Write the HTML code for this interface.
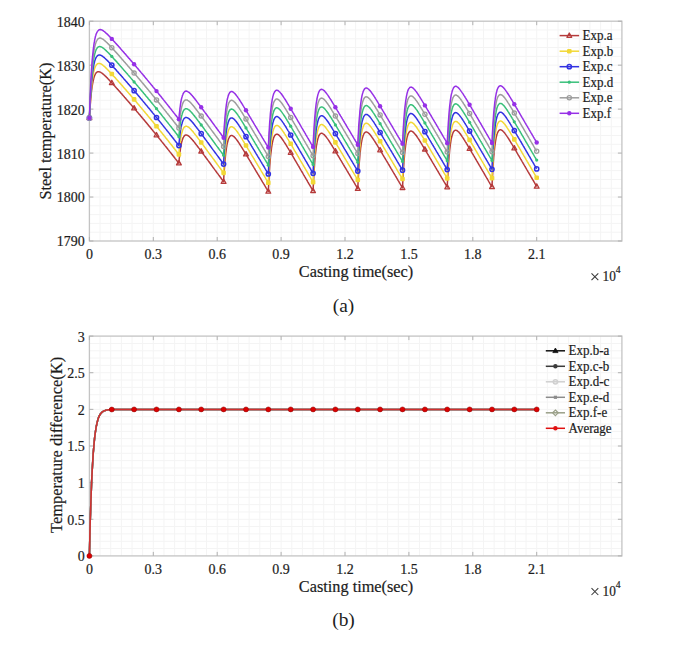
<!DOCTYPE html><html><head><meta charset="utf-8"><style>html,body{margin:0;padding:0;background:#fff;}body{width:685px;height:645px;overflow:hidden;}svg{display:block;}text{font-family:"Liberation Serif",serif;fill:#1c1c1c;stroke:#1c1c1c;stroke-width:0.2px;}</style></head><body>
<svg width="685" height="645" viewBox="0 0 685 645">
<path d="M100.05,21.20V241.00M110.70,21.20V241.00M121.35,21.20V241.00M132.00,21.20V241.00M142.65,21.20V241.00M153.30,21.20V241.00M163.95,21.20V241.00M174.60,21.20V241.00M185.25,21.20V241.00M195.90,21.20V241.00M206.55,21.20V241.00M217.20,21.20V241.00M227.85,21.20V241.00M238.50,21.20V241.00M249.15,21.20V241.00M259.80,21.20V241.00M270.45,21.20V241.00M281.10,21.20V241.00M291.75,21.20V241.00M302.40,21.20V241.00M313.05,21.20V241.00M323.70,21.20V241.00M334.35,21.20V241.00M345.00,21.20V241.00M355.65,21.20V241.00M366.30,21.20V241.00M376.95,21.20V241.00M387.60,21.20V241.00M398.25,21.20V241.00M408.90,21.20V241.00M419.55,21.20V241.00M430.20,21.20V241.00M440.85,21.20V241.00M451.50,21.20V241.00M462.15,21.20V241.00M472.80,21.20V241.00M483.45,21.20V241.00M494.10,21.20V241.00M504.75,21.20V241.00M515.40,21.20V241.00M526.05,21.20V241.00M536.70,21.20V241.00M547.35,21.20V241.00M558.00,21.20V241.00M568.65,21.20V241.00M579.30,21.20V241.00M589.95,21.20V241.00M600.60,21.20V241.00M611.25,21.20V241.00M89.40,29.99H621.90M89.40,38.78H621.90M89.40,47.58H621.90M89.40,56.37H621.90M89.40,65.16H621.90M89.40,73.95H621.90M89.40,82.74H621.90M89.40,91.54H621.90M89.40,100.33H621.90M89.40,109.12H621.90M89.40,117.91H621.90M89.40,126.70H621.90M89.40,135.50H621.90M89.40,144.29H621.90M89.40,153.08H621.90M89.40,161.87H621.90M89.40,170.66H621.90M89.40,179.46H621.90M89.40,188.25H621.90M89.40,197.04H621.90M89.40,205.83H621.90M89.40,214.62H621.90M89.40,223.42H621.90M89.40,232.21H621.90" stroke="#f4f4f4" stroke-width="1" fill="none"/>
<rect x="89.40" y="21.20" width="532.50" height="219.80" fill="none" stroke="#c4c4c4" stroke-width="1.3"/><path d="M89.40,241.00v-4M89.40,21.20v4M153.30,241.00v-4M153.30,21.20v4M217.20,241.00v-4M217.20,21.20v4M281.10,241.00v-4M281.10,21.20v4M345.00,241.00v-4M345.00,21.20v4M408.90,241.00v-4M408.90,21.20v4M472.80,241.00v-4M472.80,21.20v4M536.70,241.00v-4M536.70,21.20v4M89.40,241.00h4M621.90,241.00h-4M89.40,197.04h4M621.90,197.04h-4M89.40,153.08h4M621.90,153.08h-4M89.40,109.12h4M621.90,109.12h-4M89.40,65.16h4M621.90,65.16h-4M89.40,21.20h4M621.90,21.20h-4" stroke="#b0b0b0" stroke-width="1" fill="none"/>
<path d="M89.4,117.9L89.8,112.0L90.1,106.8L90.5,102.2L90.8,98.1L91.2,94.5L91.5,91.3L91.9,88.5L92.2,86.0L92.6,83.8L93.0,81.9L93.3,80.2L93.7,78.7L94.0,77.4L94.4,76.4L94.7,75.4L95.1,74.6L95.4,73.9L95.8,73.4L96.1,72.9L96.5,72.5L96.9,72.2L97.2,72.0L97.6,71.8L97.9,71.7L98.3,71.7L98.6,71.7L99.0,71.7L99.3,71.8L99.7,71.9L100.1,72.0L100.4,72.2L100.8,72.4L101.1,72.6L101.5,72.8L101.8,73.0L102.2,73.3L102.5,73.6L102.9,73.9L103.2,74.2L103.6,74.5L104.0,74.8L104.3,75.1L104.7,75.4L105.0,75.8L105.4,76.1L105.7,76.4L106.1,76.8L106.4,77.2L106.8,77.5L107.2,77.9L107.5,78.2L107.9,78.6L108.2,79.0L108.6,79.4L108.9,79.7L109.3,80.1L109.6,80.5L110.0,80.9L110.3,81.3L110.7,81.6L111.1,82.0L111.4,82.4L111.8,82.8L112.1,83.2L112.5,83.6L112.8,84.0L113.2,84.4L113.5,84.7L113.9,85.1L114.2,85.5L114.6,85.9L115.0,86.3L115.3,86.7L115.7,87.1L116.0,87.5L116.4,87.9L116.7,88.3L117.1,88.7L117.4,89.1L117.8,89.5L118.2,89.9L118.5,90.3L118.9,90.7L119.2,91.1L119.6,91.5L119.9,91.9L120.3,92.3L120.6,92.7L121.0,93.1L121.4,93.5L121.7,93.9L122.1,94.3L122.4,94.7L122.8,95.1L123.1,95.5L123.5,95.9L123.8,96.3L124.2,96.7L124.5,97.2L124.9,97.6L125.3,98.0L125.6,98.4L126.0,98.8L126.3,99.2L126.7,99.6L127.0,100.0L127.4,100.4L127.7,100.8L128.1,101.2L128.4,101.6L128.8,102.0L129.2,102.5L129.5,102.9L129.9,103.3L130.2,103.7L130.6,104.1L130.9,104.5L131.3,104.9L131.6,105.3L132.0,105.8L132.4,106.2L132.7,106.6L133.1,107.0L133.4,107.4L133.8,107.8L134.1,108.2L134.5,108.7L134.8,109.1L135.2,109.5L135.6,109.9L135.9,110.3L136.3,110.7L136.6,111.2L137.0,111.6L137.3,112.0L137.7,112.4L138.0,112.8L138.4,113.2L138.7,113.7L139.1,114.1L139.5,114.5L139.8,114.9L140.2,115.3L140.5,115.8L140.9,116.2L141.2,116.6L141.6,117.0L141.9,117.5L142.3,117.9L142.7,118.3L143.0,118.7L143.4,119.1L143.7,119.6L144.1,120.0L144.4,120.4L144.8,120.8L145.1,121.3L145.5,121.7L145.8,122.1L146.2,122.5L146.6,123.0L146.9,123.4L147.3,123.8L147.6,124.3L148.0,124.7L148.3,125.1L148.7,125.5L149.0,126.0L149.4,126.4L149.8,126.8L150.1,127.3L150.5,127.7L150.8,128.1L151.2,128.5L151.5,129.0L151.9,129.4L152.2,129.8L152.6,130.3L152.9,130.7L153.3,131.1L153.7,131.6L154.0,132.0L154.4,132.4L154.7,132.9L155.1,133.3L155.4,133.7L155.8,134.2L156.1,134.6L156.5,135.1L156.9,135.5L157.2,135.9L157.6,136.4L157.9,136.8L158.3,137.2L158.6,137.7L159.0,138.1L159.3,138.5L159.7,139.0L160.0,139.4L160.4,139.9L160.8,140.3L161.1,140.7L161.5,141.2L161.8,141.6L162.2,142.1L162.5,142.5L162.9,143.0L163.2,143.4L163.6,143.8L163.9,144.3L164.3,144.7L164.7,145.2L165.0,145.6L165.4,146.1L165.7,146.5L166.1,146.9L166.4,147.4L166.8,147.8L167.1,148.3L167.5,148.7L167.9,149.2L168.2,149.6L168.6,150.1L168.9,150.5L169.3,151.0L169.6,151.4L170.0,151.9L170.3,152.3L170.7,152.8L171.1,153.2L171.4,153.7L171.8,154.1L172.1,154.6L172.5,155.0L172.8,155.5L173.2,155.9L173.5,156.4L173.9,156.8L174.2,157.3L174.6,157.7L175.0,158.2L175.3,158.6L175.7,159.1L176.0,159.5L176.4,160.0L176.7,160.4L177.1,160.9L177.4,161.4L177.8,161.8L178.2,162.3L178.5,162.7L178.9,163.2L179.2,159.2L179.6,155.7L179.9,152.6L180.3,149.9L180.6,147.5L181.0,145.5L181.3,143.7L181.7,142.1L182.1,140.8L182.4,139.6L182.8,138.6L183.1,137.8L183.5,137.1L183.8,136.5L184.2,136.1L184.5,135.7L184.9,135.4L185.2,135.2L185.6,135.1L186.0,135.1L186.3,135.1L186.7,135.1L187.0,135.2L187.4,135.3L187.7,135.5L188.1,135.7L188.4,136.0L188.8,136.2L189.2,136.5L189.5,136.8L189.9,137.1L190.2,137.5L190.6,137.8L190.9,138.2L191.3,138.6L191.6,139.0L192.0,139.4L192.4,139.8L192.7,140.2L193.1,140.6L193.4,141.1L193.8,141.5L194.1,141.9L194.5,142.4L194.8,142.8L195.2,143.3L195.5,143.7L195.9,144.2L196.3,144.7L196.6,145.1L197.0,145.6L197.3,146.1L197.7,146.5L198.0,147.0L198.4,147.5L198.7,147.9L199.1,148.4L199.5,148.9L199.8,149.4L200.2,149.8L200.5,150.3L200.9,150.8L201.2,151.3L201.6,151.8L201.9,152.2L202.3,152.7L202.6,153.2L203.0,153.7L203.4,154.2L203.7,154.6L204.1,155.1L204.4,155.6L204.8,156.1L205.1,156.6L205.5,157.0L205.8,157.5L206.2,158.0L206.6,158.5L206.9,159.0L207.3,159.4L207.6,159.9L208.0,160.4L208.3,160.9L208.7,161.4L209.0,161.9L209.4,162.3L209.7,162.8L210.1,163.3L210.5,163.8L210.8,164.3L211.2,164.8L211.5,165.2L211.9,165.7L212.2,166.2L212.6,166.7L212.9,167.2L213.3,167.7L213.7,168.1L214.0,168.6L214.4,169.1L214.7,169.6L215.1,170.1L215.4,170.5L215.8,171.0L216.1,171.5L216.5,172.0L216.8,172.5L217.2,173.0L217.6,173.4L217.9,173.9L218.3,174.4L218.6,174.9L219.0,175.4L219.3,175.9L219.7,176.3L220.0,176.8L220.4,177.3L220.8,177.8L221.1,178.3L221.5,178.8L221.8,179.2L222.2,179.7L222.5,180.2L222.9,180.7L223.2,181.2L223.6,181.7L223.9,175.4L224.3,169.9L224.7,165.1L225.0,160.8L225.4,157.0L225.7,153.7L226.1,150.8L226.4,148.2L226.8,146.0L227.1,144.1L227.5,142.5L227.9,141.0L228.2,139.8L228.6,138.8L228.9,138.0L229.3,137.3L229.6,136.7L230.0,136.3L230.3,135.9L230.7,135.7L231.0,135.6L231.4,135.5L231.8,135.5L232.1,135.6L232.5,135.7L232.8,135.9L233.2,136.1L233.5,136.3L233.9,136.6L234.2,136.9L234.6,137.3L235.0,137.7L235.3,138.1L235.7,138.5L236.0,138.9L236.4,139.4L236.7,139.8L237.1,140.3L237.4,140.8L237.8,141.3L238.1,141.8L238.5,142.3L238.9,142.9L239.2,143.4L239.6,144.0L239.9,144.5L240.3,145.1L240.6,145.6L241.0,146.2L241.3,146.7L241.7,147.3L242.1,147.9L242.4,148.4L242.8,149.0L243.1,149.6L243.5,150.2L243.8,150.7L244.2,151.3L244.5,151.9L244.9,152.5L245.2,153.1L245.6,153.7L246.0,154.2L246.3,154.8L246.7,155.4L247.0,156.0L247.4,156.6L247.7,157.2L248.1,157.8L248.4,158.4L248.8,159.0L249.2,159.5L249.5,160.1L249.9,160.7L250.2,161.3L250.6,161.9L250.9,162.5L251.3,163.1L251.6,163.7L252.0,164.3L252.3,164.9L252.7,165.5L253.1,166.1L253.4,166.6L253.8,167.2L254.1,167.8L254.5,168.4L254.8,169.0L255.2,169.6L255.5,170.2L255.9,170.8L256.2,171.4L256.6,172.0L257.0,172.6L257.3,173.2L257.7,173.8L258.0,174.4L258.4,174.9L258.7,175.5L259.1,176.1L259.4,176.7L259.8,177.3L260.2,177.9L260.5,178.5L260.9,179.1L261.2,179.7L261.6,180.3L261.9,180.9L262.3,181.5L262.6,182.1L263.0,182.7L263.4,183.2L263.7,183.8L264.1,184.4L264.4,185.0L264.8,185.6L265.1,186.2L265.5,186.8L265.8,187.4L266.2,188.0L266.5,188.6L266.9,189.2L267.3,189.8L267.6,190.4L268.0,191.0L268.3,191.5L268.7,184.0L269.0,177.4L269.4,171.4L269.7,166.2L270.1,161.6L270.4,157.6L270.8,154.0L271.2,150.9L271.5,148.1L271.9,145.7L272.2,143.7L272.6,141.9L272.9,140.4L273.3,139.0L273.6,137.9L274.0,137.0L274.4,136.2L274.7,135.6L275.1,135.1L275.4,134.8L275.8,134.5L276.1,134.3L276.5,134.2L276.8,134.2L277.2,134.2L277.6,134.3L277.9,134.5L278.3,134.7L278.6,134.9L279.0,135.2L279.3,135.5L279.7,135.9L280.0,136.3L280.4,136.7L280.7,137.1L281.1,137.5L281.5,138.0L281.8,138.5L282.2,139.0L282.5,139.5L282.9,140.0L283.2,140.5L283.6,141.0L283.9,141.6L284.3,142.1L284.6,142.7L285.0,143.2L285.4,143.8L285.7,144.4L286.1,144.9L286.4,145.5L286.8,146.1L287.1,146.7L287.5,147.3L287.8,147.8L288.2,148.4L288.6,149.0L288.9,149.6L289.3,150.2L289.6,150.8L290.0,151.4L290.3,152.0L290.7,152.6L291.0,153.2L291.4,153.8L291.8,154.4L292.1,155.0L292.5,155.6L292.8,156.2L293.2,156.8L293.5,157.4L293.9,158.0L294.2,158.7L294.6,159.3L294.9,159.9L295.3,160.5L295.7,161.1L296.0,161.7L296.4,162.3L296.7,162.9L297.1,163.5L297.4,164.1L297.8,164.7L298.1,165.3L298.5,165.9L298.9,166.5L299.2,167.2L299.6,167.8L299.9,168.4L300.3,169.0L300.6,169.6L301.0,170.2L301.3,170.8L301.7,171.4L302.0,172.0L302.4,172.6L302.8,173.2L303.1,173.8L303.5,174.5L303.8,175.1L304.2,175.7L304.5,176.3L304.9,176.9L305.2,177.5L305.6,178.1L305.9,178.7L306.3,179.3L306.7,179.9L307.0,180.5L307.4,181.1L307.7,181.8L308.1,182.4L308.4,183.0L308.8,183.6L309.1,184.2L309.5,184.8L309.9,185.4L310.2,186.0L310.6,186.6L310.9,187.2L311.3,187.8L311.6,188.5L312.0,189.1L312.3,189.7L312.7,190.3L313.1,190.9L313.4,183.4L313.8,176.7L314.1,170.8L314.5,165.5L314.8,160.9L315.2,156.9L315.5,153.3L315.9,150.2L316.2,147.4L316.6,145.0L317.0,142.9L317.3,141.1L317.7,139.6L318.0,138.3L318.4,137.2L318.7,136.2L319.1,135.4L319.4,134.8L319.8,134.3L320.1,133.9L320.5,133.6L320.9,133.4L321.2,133.3L321.6,133.3L321.9,133.3L322.3,133.4L322.6,133.6L323.0,133.8L323.3,134.0L323.7,134.3L324.1,134.6L324.4,134.9L324.8,135.3L325.1,135.7L325.5,136.1L325.8,136.5L326.2,136.9L326.5,137.4L326.9,137.9L327.2,138.4L327.6,138.9L328.0,139.4L328.3,139.9L328.7,140.4L329.0,141.0L329.4,141.5L329.7,142.0L330.1,142.6L330.4,143.2L330.8,143.7L331.2,144.3L331.5,144.8L331.9,145.4L332.2,146.0L332.6,146.6L332.9,147.1L333.3,147.7L333.6,148.3L334.0,148.9L334.4,149.5L334.7,150.1L335.1,150.6L335.4,151.2L335.8,151.8L336.1,152.4L336.5,153.0L336.8,153.6L337.2,154.2L337.5,154.8L337.9,155.4L338.3,156.0L338.6,156.5L339.0,157.1L339.3,157.7L339.7,158.3L340.0,158.9L340.4,159.5L340.7,160.1L341.1,160.7L341.5,161.3L341.8,161.9L342.2,162.5L342.5,163.1L342.9,163.7L343.2,164.3L343.6,164.9L343.9,165.5L344.3,166.1L344.6,166.7L345.0,167.2L345.4,167.8L345.7,168.4L346.1,169.0L346.4,169.6L346.8,170.2L347.1,170.8L347.5,171.4L347.8,172.0L348.2,172.6L348.5,173.2L348.9,173.8L349.3,174.4L349.6,175.0L350.0,175.6L350.3,176.2L350.7,176.8L351.0,177.4L351.4,178.0L351.7,178.6L352.1,179.2L352.5,179.8L352.8,180.3L353.2,180.9L353.5,181.5L353.9,182.1L354.2,182.7L354.6,183.3L354.9,183.9L355.3,184.5L355.6,185.1L356.0,185.7L356.4,186.3L356.7,186.9L357.1,187.5L357.4,188.1L357.8,188.7L358.1,181.3L358.5,174.7L358.8,168.8L359.2,163.7L359.6,159.1L359.9,155.1L360.3,151.6L360.6,148.5L361.0,145.8L361.3,143.4L361.7,141.4L362.0,139.6L362.4,138.1L362.8,136.8L363.1,135.7L363.5,134.8L363.8,134.0L364.2,133.4L364.5,132.9L364.9,132.6L365.2,132.3L365.6,132.1L365.9,132.0L366.3,132.0L366.7,132.0L367.0,132.1L367.4,132.3L367.7,132.5L368.1,132.7L368.4,133.0L368.8,133.3L369.1,133.6L369.5,134.0L369.9,134.4L370.2,134.8L370.6,135.3L370.9,135.7L371.3,136.2L371.6,136.7L372.0,137.2L372.3,137.7L372.7,138.2L373.0,138.7L373.4,139.2L373.8,139.8L374.1,140.3L374.5,140.9L374.8,141.4L375.2,142.0L375.5,142.5L375.9,143.1L376.2,143.7L376.6,144.3L377.0,144.8L377.3,145.4L377.7,146.0L378.0,146.6L378.4,147.2L378.7,147.8L379.1,148.3L379.4,148.9L379.8,149.5L380.1,150.1L380.5,150.7L380.9,151.3L381.2,151.9L381.6,152.5L381.9,153.1L382.3,153.7L382.6,154.3L383.0,154.9L383.3,155.5L383.7,156.1L384.0,156.7L384.4,157.3L384.8,157.9L385.1,158.5L385.5,159.1L385.8,159.6L386.2,160.2L386.5,160.8L386.9,161.4L387.2,162.0L387.6,162.6L388.0,163.2L388.3,163.8L388.7,164.4L389.0,165.0L389.4,165.6L389.7,166.2L390.1,166.8L390.4,167.4L390.8,168.0L391.1,168.6L391.5,169.2L391.9,169.8L392.2,170.4L392.6,171.0L392.9,171.6L393.3,172.2L393.6,172.8L394.0,173.4L394.3,174.0L394.7,174.6L395.1,175.2L395.4,175.8L395.8,176.4L396.1,177.0L396.5,177.6L396.8,178.2L397.2,178.8L397.5,179.4L397.9,180.0L398.2,180.6L398.6,181.2L399.0,181.8L399.3,182.4L399.7,183.0L400.0,183.6L400.4,184.2L400.7,184.8L401.1,185.4L401.4,186.0L401.8,186.6L402.2,187.2L402.5,187.8L402.9,180.4L403.2,173.8L403.6,167.9L403.9,162.8L404.3,158.2L404.6,154.2L405.0,150.7L405.4,147.6L405.7,144.9L406.1,142.5L406.4,140.5L406.8,138.7L407.1,137.2L407.5,135.9L407.8,134.8L408.2,133.9L408.5,133.1L408.9,132.5L409.3,132.0L409.6,131.7L410.0,131.4L410.3,131.2L410.7,131.1L411.0,131.1L411.4,131.1L411.7,131.2L412.1,131.4L412.5,131.6L412.8,131.8L413.2,132.1L413.5,132.4L413.9,132.8L414.2,133.2L414.6,133.6L414.9,134.0L415.3,134.4L415.6,134.9L416.0,135.3L416.4,135.8L416.7,136.3L417.1,136.8L417.4,137.3L417.8,137.9L418.1,138.4L418.5,138.9L418.8,139.5L419.2,140.0L419.6,140.6L419.9,141.2L420.3,141.7L420.6,142.3L421.0,142.9L421.3,143.4L421.7,144.0L422.0,144.6L422.4,145.2L422.7,145.8L423.1,146.4L423.5,147.0L423.8,147.5L424.2,148.1L424.5,148.7L424.9,149.3L425.2,149.9L425.6,150.5L425.9,151.1L426.3,151.7L426.6,152.3L427.0,152.9L427.4,153.5L427.7,154.1L428.1,154.7L428.4,155.3L428.8,155.9L429.1,156.5L429.5,157.1L429.8,157.7L430.2,158.3L430.6,158.9L430.9,159.5L431.3,160.1L431.6,160.7L432.0,161.3L432.3,161.9L432.7,162.5L433.0,163.1L433.4,163.7L433.8,164.3L434.1,164.9L434.5,165.5L434.8,166.1L435.2,166.7L435.5,167.3L435.9,167.9L436.2,168.5L436.6,169.1L436.9,169.7L437.3,170.3L437.7,170.9L438.0,171.5L438.4,172.1L438.7,172.7L439.1,173.3L439.4,173.9L439.8,174.5L440.1,175.1L440.5,175.7L440.9,176.3L441.2,176.9L441.6,177.5L441.9,178.1L442.3,178.7L442.6,179.3L443.0,179.9L443.3,180.5L443.7,181.1L444.0,181.7L444.4,182.3L444.8,182.9L445.1,183.5L445.5,184.1L445.8,184.7L446.2,185.3L446.5,185.9L446.9,186.5L447.2,187.1L447.6,179.7L448.0,173.0L448.3,167.2L448.7,162.0L449.0,157.4L449.4,153.4L449.7,149.9L450.1,146.7L450.4,144.0L450.8,141.7L451.1,139.6L451.5,137.8L451.9,136.3L452.2,135.0L452.6,133.9L452.9,133.0L453.3,132.2L453.6,131.6L454.0,131.1L454.3,130.8L454.7,130.5L455.0,130.3L455.4,130.2L455.8,130.2L456.1,130.3L456.5,130.4L456.8,130.5L457.2,130.7L457.5,131.0L457.9,131.3L458.2,131.6L458.6,131.9L459.0,132.3L459.3,132.7L459.7,133.1L460.0,133.6L460.4,134.0L460.7,134.5L461.1,135.0L461.4,135.5L461.8,136.0L462.1,136.6L462.5,137.1L462.9,137.6L463.2,138.2L463.6,138.7L463.9,139.3L464.3,139.9L464.6,140.4L465.0,141.0L465.3,141.6L465.7,142.2L466.1,142.7L466.4,143.3L466.8,143.9L467.1,144.5L467.5,145.1L467.8,145.7L468.2,146.3L468.5,146.9L468.9,147.5L469.2,148.1L469.6,148.7L470.0,149.3L470.3,149.9L470.7,150.5L471.0,151.1L471.4,151.7L471.7,152.3L472.1,152.9L472.4,153.5L472.8,154.1L473.2,154.7L473.5,155.3L473.9,155.9L474.2,156.5L474.6,157.1L474.9,157.7L475.3,158.3L475.6,159.0L476.0,159.6L476.4,160.2L476.7,160.8L477.1,161.4L477.4,162.0L477.8,162.6L478.1,163.2L478.5,163.8L478.8,164.4L479.2,165.0L479.5,165.6L479.9,166.2L480.3,166.9L480.6,167.5L481.0,168.1L481.3,168.7L481.7,169.3L482.0,169.9L482.4,170.5L482.7,171.1L483.1,171.7L483.5,172.3L483.8,172.9L484.2,173.5L484.5,174.2L484.9,174.8L485.2,175.4L485.6,176.0L485.9,176.6L486.3,177.2L486.6,177.8L487.0,178.4L487.4,179.0L487.7,179.6L488.1,180.2L488.4,180.8L488.8,181.5L489.1,182.1L489.5,182.7L489.8,183.3L490.2,183.9L490.5,184.5L490.9,185.1L491.3,185.7L491.6,186.3L492.0,186.9L492.3,179.4L492.7,172.8L493.0,166.9L493.4,161.7L493.7,157.1L494.1,153.1L494.5,149.5L494.8,146.4L495.2,143.7L495.5,141.3L495.9,139.2L496.2,137.4L496.6,135.9L496.9,134.6L497.3,133.5L497.6,132.6L498.0,131.8L498.4,131.2L498.7,130.7L499.1,130.3L499.4,130.1L499.8,129.9L500.1,129.8L500.5,129.8L500.8,129.8L501.2,129.9L501.6,130.1L501.9,130.3L502.3,130.5L502.6,130.8L503.0,131.1L503.3,131.5L503.7,131.9L504.0,132.3L504.4,132.7L504.8,133.1L505.1,133.6L505.5,134.1L505.8,134.6L506.2,135.1L506.5,135.6L506.9,136.1L507.2,136.6L507.6,137.2L507.9,137.7L508.3,138.3L508.7,138.8L509.0,139.4L509.4,140.0L509.7,140.5L510.1,141.1L510.4,141.7L510.8,142.3L511.1,142.9L511.5,143.5L511.9,144.0L512.2,144.6L512.6,145.2L512.9,145.8L513.3,146.4L513.6,147.0L514.0,147.6L514.3,148.2L514.7,148.8L515.0,149.4L515.4,150.0L515.8,150.6L516.1,151.2L516.5,151.8L516.8,152.4L517.2,153.1L517.5,153.7L517.9,154.3L518.2,154.9L518.6,155.5L519.0,156.1L519.3,156.7L519.7,157.3L520.0,157.9L520.4,158.5L520.7,159.1L521.1,159.7L521.4,160.3L521.8,160.9L522.1,161.5L522.5,162.2L522.9,162.8L523.2,163.4L523.6,164.0L523.9,164.6L524.3,165.2L524.6,165.8L525.0,166.4L525.3,167.0L525.7,167.6L526.0,168.2L526.4,168.8L526.8,169.5L527.1,170.1L527.5,170.7L527.8,171.3L528.2,171.9L528.5,172.5L528.9,173.1L529.2,173.7L529.6,174.3L530.0,174.9L530.3,175.5L530.7,176.1L531.0,176.8L531.4,177.4L531.7,178.0L532.1,178.6L532.4,179.2L532.8,179.8L533.2,180.4L533.5,181.0L533.9,181.6L534.2,182.2L534.6,182.8L534.9,183.4L535.3,184.1L535.6,184.7L536.0,185.3L536.3,185.9L536.7,186.5" fill="none" stroke="#b53a3a" stroke-width="1.5" stroke-linejoin="round"/>
<path d="M89.4,117.9L89.8,111.1L90.1,105.1L90.5,99.7L90.8,95.0L91.2,90.7L91.5,87.0L91.9,83.7L92.2,80.8L92.6,78.2L93.0,76.0L93.3,74.0L93.7,72.2L94.0,70.7L94.4,69.4L94.7,68.3L95.1,67.3L95.4,66.5L95.8,65.8L96.1,65.2L96.5,64.7L96.9,64.3L97.2,64.0L97.6,63.7L97.9,63.6L98.3,63.4L98.6,63.4L99.0,63.4L99.3,63.4L99.7,63.5L100.1,63.6L100.4,63.7L100.8,63.8L101.1,64.0L101.5,64.2L101.8,64.4L102.2,64.7L102.5,64.9L102.9,65.2L103.2,65.5L103.6,65.8L104.0,66.1L104.3,66.4L104.7,66.7L105.0,67.0L105.4,67.4L105.7,67.7L106.1,68.1L106.4,68.4L106.8,68.8L107.2,69.1L107.5,69.5L107.9,69.8L108.2,70.2L108.6,70.6L108.9,71.0L109.3,71.3L109.6,71.7L110.0,72.1L110.3,72.5L110.7,72.9L111.1,73.2L111.4,73.6L111.8,74.0L112.1,74.4L112.5,74.8L112.8,75.2L113.2,75.6L113.5,76.0L113.9,76.4L114.2,76.7L114.6,77.1L115.0,77.5L115.3,77.9L115.7,78.3L116.0,78.7L116.4,79.1L116.7,79.5L117.1,79.9L117.4,80.3L117.8,80.7L118.2,81.1L118.5,81.5L118.9,81.9L119.2,82.3L119.6,82.7L119.9,83.1L120.3,83.5L120.6,83.9L121.0,84.3L121.4,84.7L121.7,85.1L122.1,85.5L122.4,85.9L122.8,86.3L123.1,86.7L123.5,87.1L123.8,87.5L124.2,88.0L124.5,88.4L124.9,88.8L125.3,89.2L125.6,89.6L126.0,90.0L126.3,90.4L126.7,90.8L127.0,91.2L127.4,91.6L127.7,92.0L128.1,92.4L128.4,92.8L128.8,93.3L129.2,93.7L129.5,94.1L129.9,94.5L130.2,94.9L130.6,95.3L130.9,95.7L131.3,96.1L131.6,96.5L132.0,97.0L132.4,97.4L132.7,97.8L133.1,98.2L133.4,98.6L133.8,99.0L134.1,99.4L134.5,99.9L134.8,100.3L135.2,100.7L135.6,101.1L135.9,101.5L136.3,101.9L136.6,102.4L137.0,102.8L137.3,103.2L137.7,103.6L138.0,104.0L138.4,104.5L138.7,104.9L139.1,105.3L139.5,105.7L139.8,106.1L140.2,106.6L140.5,107.0L140.9,107.4L141.2,107.8L141.6,108.2L141.9,108.7L142.3,109.1L142.7,109.5L143.0,109.9L143.4,110.4L143.7,110.8L144.1,111.2L144.4,111.6L144.8,112.0L145.1,112.5L145.5,112.9L145.8,113.3L146.2,113.8L146.6,114.2L146.9,114.6L147.3,115.0L147.6,115.5L148.0,115.9L148.3,116.3L148.7,116.7L149.0,117.2L149.4,117.6L149.8,118.0L150.1,118.5L150.5,118.9L150.8,119.3L151.2,119.8L151.5,120.2L151.9,120.6L152.2,121.0L152.6,121.5L152.9,121.9L153.3,122.3L153.7,122.8L154.0,123.2L154.4,123.6L154.7,124.1L155.1,124.5L155.4,125.0L155.8,125.4L156.1,125.8L156.5,126.3L156.9,126.7L157.2,127.1L157.6,127.6L157.9,128.0L158.3,128.4L158.6,128.9L159.0,129.3L159.3,129.8L159.7,130.2L160.0,130.6L160.4,131.1L160.8,131.5L161.1,132.0L161.5,132.4L161.8,132.8L162.2,133.3L162.5,133.7L162.9,134.2L163.2,134.6L163.6,135.0L163.9,135.5L164.3,135.9L164.7,136.4L165.0,136.8L165.4,137.3L165.7,137.7L166.1,138.2L166.4,138.6L166.8,139.0L167.1,139.5L167.5,139.9L167.9,140.4L168.2,140.8L168.6,141.3L168.9,141.7L169.3,142.2L169.6,142.6L170.0,143.1L170.3,143.5L170.7,144.0L171.1,144.4L171.4,144.9L171.8,145.3L172.1,145.8L172.5,146.2L172.8,146.7L173.2,147.1L173.5,147.6L173.9,148.0L174.2,148.5L174.6,148.9L175.0,149.4L175.3,149.8L175.7,150.3L176.0,150.7L176.4,151.2L176.7,151.7L177.1,152.1L177.4,152.6L177.8,153.0L178.2,153.5L178.5,153.9L178.9,154.4L179.2,150.4L179.6,146.9L179.9,143.8L180.3,141.1L180.6,138.8L181.0,136.7L181.3,134.9L181.7,133.3L182.1,132.0L182.4,130.8L182.8,129.8L183.1,129.0L183.5,128.3L183.8,127.7L184.2,127.3L184.5,126.9L184.9,126.6L185.2,126.5L185.6,126.3L186.0,126.3L186.3,126.3L186.7,126.3L187.0,126.4L187.4,126.6L187.7,126.7L188.1,126.9L188.4,127.2L188.8,127.4L189.2,127.7L189.5,128.0L189.9,128.3L190.2,128.7L190.6,129.0L190.9,129.4L191.3,129.8L191.6,130.2L192.0,130.6L192.4,131.0L192.7,131.4L193.1,131.8L193.4,132.3L193.8,132.7L194.1,133.1L194.5,133.6L194.8,134.0L195.2,134.5L195.5,134.9L195.9,135.4L196.3,135.9L196.6,136.3L197.0,136.8L197.3,137.3L197.7,137.7L198.0,138.2L198.4,138.7L198.7,139.1L199.1,139.6L199.5,140.1L199.8,140.6L200.2,141.0L200.5,141.5L200.9,142.0L201.2,142.5L201.6,143.0L201.9,143.4L202.3,143.9L202.6,144.4L203.0,144.9L203.4,145.4L203.7,145.8L204.1,146.3L204.4,146.8L204.8,147.3L205.1,147.8L205.5,148.2L205.8,148.7L206.2,149.2L206.6,149.7L206.9,150.2L207.3,150.7L207.6,151.1L208.0,151.6L208.3,152.1L208.7,152.6L209.0,153.1L209.4,153.6L209.7,154.0L210.1,154.5L210.5,155.0L210.8,155.5L211.2,156.0L211.5,156.4L211.9,156.9L212.2,157.4L212.6,157.9L212.9,158.4L213.3,158.9L213.7,159.3L214.0,159.8L214.4,160.3L214.7,160.8L215.1,161.3L215.4,161.8L215.8,162.2L216.1,162.7L216.5,163.2L216.8,163.7L217.2,164.2L217.6,164.7L217.9,165.1L218.3,165.6L218.6,166.1L219.0,166.6L219.3,167.1L219.7,167.6L220.0,168.0L220.4,168.5L220.8,169.0L221.1,169.5L221.5,170.0L221.8,170.4L222.2,170.9L222.5,171.4L222.9,171.9L223.2,172.4L223.6,172.9L223.9,166.6L224.3,161.1L224.7,156.3L225.0,152.0L225.4,148.2L225.7,144.9L226.1,142.0L226.4,139.4L226.8,137.2L227.1,135.3L227.5,133.7L227.9,132.2L228.2,131.0L228.6,130.0L228.9,129.2L229.3,128.5L229.6,127.9L230.0,127.5L230.3,127.2L230.7,126.9L231.0,126.8L231.4,126.7L231.8,126.7L232.1,126.8L232.5,126.9L232.8,127.1L233.2,127.3L233.5,127.5L233.9,127.8L234.2,128.1L234.6,128.5L235.0,128.9L235.3,129.3L235.7,129.7L236.0,130.1L236.4,130.6L236.7,131.0L237.1,131.5L237.4,132.0L237.8,132.5L238.1,133.0L238.5,133.6L238.9,134.1L239.2,134.6L239.6,135.2L239.9,135.7L240.3,136.3L240.6,136.8L241.0,137.4L241.3,137.9L241.7,138.5L242.1,139.1L242.4,139.6L242.8,140.2L243.1,140.8L243.5,141.4L243.8,142.0L244.2,142.5L244.5,143.1L244.9,143.7L245.2,144.3L245.6,144.9L246.0,145.5L246.3,146.0L246.7,146.6L247.0,147.2L247.4,147.8L247.7,148.4L248.1,149.0L248.4,149.6L248.8,150.2L249.2,150.8L249.5,151.3L249.9,151.9L250.2,152.5L250.6,153.1L250.9,153.7L251.3,154.3L251.6,154.9L252.0,155.5L252.3,156.1L252.7,156.7L253.1,157.3L253.4,157.9L253.8,158.4L254.1,159.0L254.5,159.6L254.8,160.2L255.2,160.8L255.5,161.4L255.9,162.0L256.2,162.6L256.6,163.2L257.0,163.8L257.3,164.4L257.7,165.0L258.0,165.6L258.4,166.2L258.7,166.7L259.1,167.3L259.4,167.9L259.8,168.5L260.2,169.1L260.5,169.7L260.9,170.3L261.2,170.9L261.6,171.5L261.9,172.1L262.3,172.7L262.6,173.3L263.0,173.9L263.4,174.5L263.7,175.0L264.1,175.6L264.4,176.2L264.8,176.8L265.1,177.4L265.5,178.0L265.8,178.6L266.2,179.2L266.5,179.8L266.9,180.4L267.3,181.0L267.6,181.6L268.0,182.2L268.3,182.8L268.7,175.2L269.0,168.6L269.4,162.7L269.7,157.4L270.1,152.8L270.4,148.8L270.8,145.2L271.2,142.1L271.5,139.3L271.9,137.0L272.2,134.9L272.6,133.1L272.9,131.6L273.3,130.3L273.6,129.1L274.0,128.2L274.4,127.5L274.7,126.8L275.1,126.3L275.4,126.0L275.8,125.7L276.1,125.5L276.5,125.4L276.8,125.4L277.2,125.4L277.6,125.5L277.9,125.7L278.3,125.9L278.6,126.1L279.0,126.4L279.3,126.7L279.7,127.1L280.0,127.5L280.4,127.9L280.7,128.3L281.1,128.7L281.5,129.2L281.8,129.7L282.2,130.2L282.5,130.7L282.9,131.2L283.2,131.7L283.6,132.2L283.9,132.8L284.3,133.3L284.6,133.9L285.0,134.4L285.4,135.0L285.7,135.6L286.1,136.1L286.4,136.7L286.8,137.3L287.1,137.9L287.5,138.5L287.8,139.1L288.2,139.6L288.6,140.2L288.9,140.8L289.3,141.4L289.6,142.0L290.0,142.6L290.3,143.2L290.7,143.8L291.0,144.4L291.4,145.0L291.8,145.6L292.1,146.2L292.5,146.8L292.8,147.4L293.2,148.0L293.5,148.6L293.9,149.3L294.2,149.9L294.6,150.5L294.9,151.1L295.3,151.7L295.7,152.3L296.0,152.9L296.4,153.5L296.7,154.1L297.1,154.7L297.4,155.3L297.8,155.9L298.1,156.5L298.5,157.1L298.9,157.8L299.2,158.4L299.6,159.0L299.9,159.6L300.3,160.2L300.6,160.8L301.0,161.4L301.3,162.0L301.7,162.6L302.0,163.2L302.4,163.8L302.8,164.4L303.1,165.1L303.5,165.7L303.8,166.3L304.2,166.9L304.5,167.5L304.9,168.1L305.2,168.7L305.6,169.3L305.9,169.9L306.3,170.5L306.7,171.1L307.0,171.7L307.4,172.4L307.7,173.0L308.1,173.6L308.4,174.2L308.8,174.8L309.1,175.4L309.5,176.0L309.9,176.6L310.2,177.2L310.6,177.8L310.9,178.4L311.3,179.1L311.6,179.7L312.0,180.3L312.3,180.9L312.7,181.5L313.1,182.1L313.4,174.6L313.8,167.9L314.1,162.0L314.5,156.8L314.8,152.1L315.2,148.1L315.5,144.5L315.9,141.4L316.2,138.6L316.6,136.2L317.0,134.2L317.3,132.4L317.7,130.8L318.0,129.5L318.4,128.4L318.7,127.4L319.1,126.7L319.4,126.0L319.8,125.5L320.1,125.1L320.5,124.8L320.9,124.7L321.2,124.5L321.6,124.5L321.9,124.5L322.3,124.6L322.6,124.8L323.0,125.0L323.3,125.2L323.7,125.5L324.1,125.8L324.4,126.1L324.8,126.5L325.1,126.9L325.5,127.3L325.8,127.7L326.2,128.1L326.5,128.6L326.9,129.1L327.2,129.6L327.6,130.1L328.0,130.6L328.3,131.1L328.7,131.6L329.0,132.2L329.4,132.7L329.7,133.3L330.1,133.8L330.4,134.4L330.8,134.9L331.2,135.5L331.5,136.1L331.9,136.6L332.2,137.2L332.6,137.8L332.9,138.4L333.3,138.9L333.6,139.5L334.0,140.1L334.4,140.7L334.7,141.3L335.1,141.9L335.4,142.4L335.8,143.0L336.1,143.6L336.5,144.2L336.8,144.8L337.2,145.4L337.5,146.0L337.9,146.6L338.3,147.2L338.6,147.8L339.0,148.3L339.3,148.9L339.7,149.5L340.0,150.1L340.4,150.7L340.7,151.3L341.1,151.9L341.5,152.5L341.8,153.1L342.2,153.7L342.5,154.3L342.9,154.9L343.2,155.5L343.6,156.1L343.9,156.7L344.3,157.3L344.6,157.9L345.0,158.5L345.4,159.1L345.7,159.6L346.1,160.2L346.4,160.8L346.8,161.4L347.1,162.0L347.5,162.6L347.8,163.2L348.2,163.8L348.5,164.4L348.9,165.0L349.3,165.6L349.6,166.2L350.0,166.8L350.3,167.4L350.7,168.0L351.0,168.6L351.4,169.2L351.7,169.8L352.1,170.4L352.5,171.0L352.8,171.6L353.2,172.2L353.5,172.7L353.9,173.3L354.2,173.9L354.6,174.5L354.9,175.1L355.3,175.7L355.6,176.3L356.0,176.9L356.4,177.5L356.7,178.1L357.1,178.7L357.4,179.3L357.8,179.9L358.1,172.5L358.5,165.9L358.8,160.0L359.2,154.9L359.6,150.3L359.9,146.3L360.3,142.8L360.6,139.7L361.0,137.0L361.3,134.6L361.7,132.6L362.0,130.8L362.4,129.3L362.8,128.0L363.1,126.9L363.5,126.0L363.8,125.2L364.2,124.6L364.5,124.1L364.9,123.8L365.2,123.5L365.6,123.3L365.9,123.2L366.3,123.2L366.7,123.2L367.0,123.3L367.4,123.5L367.7,123.7L368.1,123.9L368.4,124.2L368.8,124.5L369.1,124.9L369.5,125.2L369.9,125.6L370.2,126.0L370.6,126.5L370.9,126.9L371.3,127.4L371.6,127.9L372.0,128.4L372.3,128.9L372.7,129.4L373.0,129.9L373.4,130.4L373.8,131.0L374.1,131.5L374.5,132.1L374.8,132.6L375.2,133.2L375.5,133.8L375.9,134.3L376.2,134.9L376.6,135.5L377.0,136.0L377.3,136.6L377.7,137.2L378.0,137.8L378.4,138.4L378.7,139.0L379.1,139.6L379.4,140.1L379.8,140.7L380.1,141.3L380.5,141.9L380.9,142.5L381.2,143.1L381.6,143.7L381.9,144.3L382.3,144.9L382.6,145.5L383.0,146.1L383.3,146.7L383.7,147.3L384.0,147.9L384.4,148.5L384.8,149.1L385.1,149.7L385.5,150.3L385.8,150.9L386.2,151.5L386.5,152.1L386.9,152.7L387.2,153.2L387.6,153.8L388.0,154.4L388.3,155.0L388.7,155.6L389.0,156.2L389.4,156.8L389.7,157.4L390.1,158.0L390.4,158.6L390.8,159.2L391.1,159.8L391.5,160.4L391.9,161.0L392.2,161.6L392.6,162.2L392.9,162.8L393.3,163.4L393.6,164.0L394.0,164.6L394.3,165.2L394.7,165.8L395.1,166.4L395.4,167.0L395.8,167.6L396.1,168.2L396.5,168.8L396.8,169.4L397.2,170.0L397.5,170.6L397.9,171.2L398.2,171.8L398.6,172.4L399.0,173.0L399.3,173.6L399.7,174.2L400.0,174.8L400.4,175.4L400.7,176.0L401.1,176.6L401.4,177.2L401.8,177.8L402.2,178.4L402.5,179.0L402.9,171.6L403.2,165.0L403.6,159.1L403.9,154.0L404.3,149.4L404.6,145.4L405.0,141.9L405.4,138.8L405.7,136.1L406.1,133.7L406.4,131.7L406.8,129.9L407.1,128.4L407.5,127.1L407.8,126.0L408.2,125.1L408.5,124.3L408.9,123.7L409.3,123.2L409.6,122.9L410.0,122.6L410.3,122.4L410.7,122.3L411.0,122.3L411.4,122.4L411.7,122.5L412.1,122.6L412.5,122.8L412.8,123.1L413.2,123.3L413.5,123.6L413.9,124.0L414.2,124.4L414.6,124.8L414.9,125.2L415.3,125.6L415.6,126.1L416.0,126.5L416.4,127.0L416.7,127.5L417.1,128.0L417.4,128.5L417.8,129.1L418.1,129.6L418.5,130.1L418.8,130.7L419.2,131.2L419.6,131.8L419.9,132.4L420.3,132.9L420.6,133.5L421.0,134.1L421.3,134.7L421.7,135.2L422.0,135.8L422.4,136.4L422.7,137.0L423.1,137.6L423.5,138.2L423.8,138.7L424.2,139.3L424.5,139.9L424.9,140.5L425.2,141.1L425.6,141.7L425.9,142.3L426.3,142.9L426.6,143.5L427.0,144.1L427.4,144.7L427.7,145.3L428.1,145.9L428.4,146.5L428.8,147.1L429.1,147.7L429.5,148.3L429.8,148.9L430.2,149.5L430.6,150.1L430.9,150.7L431.3,151.3L431.6,151.9L432.0,152.5L432.3,153.1L432.7,153.7L433.0,154.3L433.4,154.9L433.8,155.5L434.1,156.1L434.5,156.7L434.8,157.3L435.2,157.9L435.5,158.5L435.9,159.1L436.2,159.7L436.6,160.3L436.9,160.9L437.3,161.5L437.7,162.1L438.0,162.7L438.4,163.3L438.7,163.9L439.1,164.5L439.4,165.1L439.8,165.7L440.1,166.3L440.5,166.9L440.9,167.5L441.2,168.1L441.6,168.7L441.9,169.3L442.3,169.9L442.6,170.5L443.0,171.1L443.3,171.7L443.7,172.3L444.0,172.9L444.4,173.5L444.8,174.1L445.1,174.7L445.5,175.3L445.8,176.0L446.2,176.6L446.5,177.2L446.9,177.8L447.2,178.4L447.6,170.9L448.0,164.3L448.3,158.4L448.7,153.2L449.0,148.6L449.4,144.6L449.7,141.1L450.1,138.0L450.4,135.2L450.8,132.9L451.1,130.8L451.5,129.0L451.9,127.5L452.2,126.2L452.6,125.1L452.9,124.2L453.3,123.5L453.6,122.8L454.0,122.4L454.3,122.0L454.7,121.7L455.0,121.5L455.4,121.4L455.8,121.4L456.1,121.5L456.5,121.6L456.8,121.7L457.2,121.9L457.5,122.2L457.9,122.5L458.2,122.8L458.6,123.1L459.0,123.5L459.3,123.9L459.7,124.4L460.0,124.8L460.4,125.3L460.7,125.7L461.1,126.2L461.4,126.7L461.8,127.2L462.1,127.8L462.5,128.3L462.9,128.8L463.2,129.4L463.6,129.9L463.9,130.5L464.3,131.1L464.6,131.6L465.0,132.2L465.3,132.8L465.7,133.4L466.1,133.9L466.4,134.5L466.8,135.1L467.1,135.7L467.5,136.3L467.8,136.9L468.2,137.5L468.5,138.1L468.9,138.7L469.2,139.3L469.6,139.9L470.0,140.5L470.3,141.1L470.7,141.7L471.0,142.3L471.4,142.9L471.7,143.5L472.1,144.1L472.4,144.7L472.8,145.3L473.2,145.9L473.5,146.5L473.9,147.1L474.2,147.7L474.6,148.3L474.9,149.0L475.3,149.6L475.6,150.2L476.0,150.8L476.4,151.4L476.7,152.0L477.1,152.6L477.4,153.2L477.8,153.8L478.1,154.4L478.5,155.0L478.8,155.6L479.2,156.2L479.5,156.8L479.9,157.5L480.3,158.1L480.6,158.7L481.0,159.3L481.3,159.9L481.7,160.5L482.0,161.1L482.4,161.7L482.7,162.3L483.1,162.9L483.5,163.5L483.8,164.1L484.2,164.8L484.5,165.4L484.9,166.0L485.2,166.6L485.6,167.2L485.9,167.8L486.3,168.4L486.6,169.0L487.0,169.6L487.4,170.2L487.7,170.8L488.1,171.4L488.4,172.1L488.8,172.7L489.1,173.3L489.5,173.9L489.8,174.5L490.2,175.1L490.5,175.7L490.9,176.3L491.3,176.9L491.6,177.5L492.0,178.1L492.3,170.6L492.7,164.0L493.0,158.1L493.4,152.9L493.7,148.3L494.1,144.3L494.5,140.7L494.8,137.6L495.2,134.9L495.5,132.5L495.9,130.4L496.2,128.7L496.6,127.1L496.9,125.8L497.3,124.7L497.6,123.8L498.0,123.0L498.4,122.4L498.7,121.9L499.1,121.6L499.4,121.3L499.8,121.1L500.1,121.0L500.5,121.0L500.8,121.0L501.2,121.1L501.6,121.3L501.9,121.5L502.3,121.7L502.6,122.0L503.0,122.4L503.3,122.7L503.7,123.1L504.0,123.5L504.4,123.9L504.8,124.3L505.1,124.8L505.5,125.3L505.8,125.8L506.2,126.3L506.5,126.8L506.9,127.3L507.2,127.8L507.6,128.4L507.9,128.9L508.3,129.5L508.7,130.0L509.0,130.6L509.4,131.2L509.7,131.8L510.1,132.3L510.4,132.9L510.8,133.5L511.1,134.1L511.5,134.7L511.9,135.3L512.2,135.8L512.6,136.4L512.9,137.0L513.3,137.6L513.6,138.2L514.0,138.8L514.3,139.4L514.7,140.0L515.0,140.6L515.4,141.2L515.8,141.8L516.1,142.4L516.5,143.1L516.8,143.7L517.2,144.3L517.5,144.9L517.9,145.5L518.2,146.1L518.6,146.7L519.0,147.3L519.3,147.9L519.7,148.5L520.0,149.1L520.4,149.7L520.7,150.3L521.1,150.9L521.4,151.5L521.8,152.1L522.1,152.8L522.5,153.4L522.9,154.0L523.2,154.6L523.6,155.2L523.9,155.8L524.3,156.4L524.6,157.0L525.0,157.6L525.3,158.2L525.7,158.8L526.0,159.4L526.4,160.1L526.8,160.7L527.1,161.3L527.5,161.9L527.8,162.5L528.2,163.1L528.5,163.7L528.9,164.3L529.2,164.9L529.6,165.5L530.0,166.1L530.3,166.7L530.7,167.4L531.0,168.0L531.4,168.6L531.7,169.2L532.1,169.8L532.4,170.4L532.8,171.0L533.2,171.6L533.5,172.2L533.9,172.8L534.2,173.4L534.6,174.0L534.9,174.7L535.3,175.3L535.6,175.9L536.0,176.5L536.3,177.1L536.7,177.7" fill="none" stroke="#f2d836" stroke-width="1.5" stroke-linejoin="round"/>
<path d="M89.4,117.9L89.8,110.2L90.1,103.3L90.5,97.2L90.8,91.8L91.2,87.0L91.5,82.7L91.9,78.9L92.2,75.6L92.6,72.7L93.0,70.1L93.3,67.8L93.7,65.8L94.0,64.0L94.4,62.5L94.7,61.1L95.1,60.0L95.4,59.0L95.8,58.2L96.1,57.5L96.5,56.9L96.9,56.4L97.2,56.0L97.6,55.6L97.9,55.4L98.3,55.2L98.6,55.1L99.0,55.0L99.3,55.0L99.7,55.0L100.1,55.1L100.4,55.2L100.8,55.3L101.1,55.4L101.5,55.6L101.8,55.8L102.2,56.0L102.5,56.3L102.9,56.5L103.2,56.8L103.6,57.1L104.0,57.4L104.3,57.7L104.7,58.0L105.0,58.3L105.4,58.6L105.7,59.0L106.1,59.3L106.4,59.7L106.8,60.0L107.2,60.4L107.5,60.7L107.9,61.1L108.2,61.4L108.6,61.8L108.9,62.2L109.3,62.6L109.6,62.9L110.0,63.3L110.3,63.7L110.7,64.1L111.1,64.5L111.4,64.8L111.8,65.2L112.1,65.6L112.5,66.0L112.8,66.4L113.2,66.8L113.5,67.2L113.9,67.6L114.2,68.0L114.6,68.4L115.0,68.7L115.3,69.1L115.7,69.5L116.0,69.9L116.4,70.3L116.7,70.7L117.1,71.1L117.4,71.5L117.8,71.9L118.2,72.3L118.5,72.7L118.9,73.1L119.2,73.5L119.6,73.9L119.9,74.3L120.3,74.7L120.6,75.1L121.0,75.5L121.4,75.9L121.7,76.3L122.1,76.7L122.4,77.1L122.8,77.5L123.1,77.9L123.5,78.4L123.8,78.8L124.2,79.2L124.5,79.6L124.9,80.0L125.3,80.4L125.6,80.8L126.0,81.2L126.3,81.6L126.7,82.0L127.0,82.4L127.4,82.8L127.7,83.2L128.1,83.6L128.4,84.1L128.8,84.5L129.2,84.9L129.5,85.3L129.9,85.7L130.2,86.1L130.6,86.5L130.9,86.9L131.3,87.3L131.6,87.8L132.0,88.2L132.4,88.6L132.7,89.0L133.1,89.4L133.4,89.8L133.8,90.2L134.1,90.7L134.5,91.1L134.8,91.5L135.2,91.9L135.6,92.3L135.9,92.7L136.3,93.2L136.6,93.6L137.0,94.0L137.3,94.4L137.7,94.8L138.0,95.2L138.4,95.7L138.7,96.1L139.1,96.5L139.5,96.9L139.8,97.3L140.2,97.8L140.5,98.2L140.9,98.6L141.2,99.0L141.6,99.4L141.9,99.9L142.3,100.3L142.7,100.7L143.0,101.1L143.4,101.6L143.7,102.0L144.1,102.4L144.4,102.8L144.8,103.3L145.1,103.7L145.5,104.1L145.8,104.5L146.2,105.0L146.6,105.4L146.9,105.8L147.3,106.2L147.6,106.7L148.0,107.1L148.3,107.5L148.7,108.0L149.0,108.4L149.4,108.8L149.8,109.2L150.1,109.7L150.5,110.1L150.8,110.5L151.2,111.0L151.5,111.4L151.9,111.8L152.2,112.3L152.6,112.7L152.9,113.1L153.3,113.6L153.7,114.0L154.0,114.4L154.4,114.9L154.7,115.3L155.1,115.7L155.4,116.2L155.8,116.6L156.1,117.0L156.5,117.5L156.9,117.9L157.2,118.3L157.6,118.8L157.9,119.2L158.3,119.7L158.6,120.1L159.0,120.5L159.3,121.0L159.7,121.4L160.0,121.8L160.4,122.3L160.8,122.7L161.1,123.2L161.5,123.6L161.8,124.0L162.2,124.5L162.5,124.9L162.9,125.4L163.2,125.8L163.6,126.3L163.9,126.7L164.3,127.1L164.7,127.6L165.0,128.0L165.4,128.5L165.7,128.9L166.1,129.4L166.4,129.8L166.8,130.3L167.1,130.7L167.5,131.1L167.9,131.6L168.2,132.0L168.6,132.5L168.9,132.9L169.3,133.4L169.6,133.8L170.0,134.3L170.3,134.7L170.7,135.2L171.1,135.6L171.4,136.1L171.8,136.5L172.1,137.0L172.5,137.4L172.8,137.9L173.2,138.3L173.5,138.8L173.9,139.2L174.2,139.7L174.6,140.1L175.0,140.6L175.3,141.0L175.7,141.5L176.0,142.0L176.4,142.4L176.7,142.9L177.1,143.3L177.4,143.8L177.8,144.2L178.2,144.7L178.5,145.1L178.9,145.6L179.2,141.6L179.6,138.1L179.9,135.0L180.3,132.3L180.6,130.0L181.0,127.9L181.3,126.1L181.7,124.5L182.1,123.2L182.4,122.0L182.8,121.0L183.1,120.2L183.5,119.5L183.8,118.9L184.2,118.5L184.5,118.1L184.9,117.9L185.2,117.7L185.6,117.5L186.0,117.5L186.3,117.5L186.7,117.5L187.0,117.6L187.4,117.8L187.7,117.9L188.1,118.1L188.4,118.4L188.8,118.6L189.2,118.9L189.5,119.2L189.9,119.6L190.2,119.9L190.6,120.3L190.9,120.6L191.3,121.0L191.6,121.4L192.0,121.8L192.4,122.2L192.7,122.6L193.1,123.0L193.4,123.5L193.8,123.9L194.1,124.4L194.5,124.8L194.8,125.2L195.2,125.7L195.5,126.2L195.9,126.6L196.3,127.1L196.6,127.5L197.0,128.0L197.3,128.5L197.7,128.9L198.0,129.4L198.4,129.9L198.7,130.4L199.1,130.8L199.5,131.3L199.8,131.8L200.2,132.3L200.5,132.7L200.9,133.2L201.2,133.7L201.6,134.2L201.9,134.6L202.3,135.1L202.6,135.6L203.0,136.1L203.4,136.6L203.7,137.0L204.1,137.5L204.4,138.0L204.8,138.5L205.1,139.0L205.5,139.5L205.8,139.9L206.2,140.4L206.6,140.9L206.9,141.4L207.3,141.9L207.6,142.3L208.0,142.8L208.3,143.3L208.7,143.8L209.0,144.3L209.4,144.8L209.7,145.2L210.1,145.7L210.5,146.2L210.8,146.7L211.2,147.2L211.5,147.7L211.9,148.1L212.2,148.6L212.6,149.1L212.9,149.6L213.3,150.1L213.7,150.6L214.0,151.0L214.4,151.5L214.7,152.0L215.1,152.5L215.4,153.0L215.8,153.4L216.1,153.9L216.5,154.4L216.8,154.9L217.2,155.4L217.6,155.9L217.9,156.3L218.3,156.8L218.6,157.3L219.0,157.8L219.3,158.3L219.7,158.8L220.0,159.2L220.4,159.7L220.8,160.2L221.1,160.7L221.5,161.2L221.8,161.7L222.2,162.1L222.5,162.6L222.9,163.1L223.2,163.6L223.6,164.1L223.9,157.8L224.3,152.3L224.7,147.5L225.0,143.2L225.4,139.4L225.7,136.1L226.1,133.2L226.4,130.6L226.8,128.4L227.1,126.5L227.5,124.9L227.9,123.5L228.2,122.2L228.6,121.2L228.9,120.4L229.3,119.7L229.6,119.1L230.0,118.7L230.3,118.4L230.7,118.1L231.0,118.0L231.4,117.9L231.8,117.9L232.1,118.0L232.5,118.1L232.8,118.3L233.2,118.5L233.5,118.7L233.9,119.0L234.2,119.4L234.6,119.7L235.0,120.1L235.3,120.5L235.7,120.9L236.0,121.3L236.4,121.8L236.7,122.3L237.1,122.7L237.4,123.2L237.8,123.7L238.1,124.2L238.5,124.8L238.9,125.3L239.2,125.8L239.6,126.4L239.9,126.9L240.3,127.5L240.6,128.0L241.0,128.6L241.3,129.1L241.7,129.7L242.1,130.3L242.4,130.9L242.8,131.4L243.1,132.0L243.5,132.6L243.8,133.2L244.2,133.7L244.5,134.3L244.9,134.9L245.2,135.5L245.6,136.1L246.0,136.7L246.3,137.3L246.7,137.8L247.0,138.4L247.4,139.0L247.7,139.6L248.1,140.2L248.4,140.8L248.8,141.4L249.2,142.0L249.5,142.6L249.9,143.1L250.2,143.7L250.6,144.3L250.9,144.9L251.3,145.5L251.6,146.1L252.0,146.7L252.3,147.3L252.7,147.9L253.1,148.5L253.4,149.1L253.8,149.7L254.1,150.2L254.5,150.8L254.8,151.4L255.2,152.0L255.5,152.6L255.9,153.2L256.2,153.8L256.6,154.4L257.0,155.0L257.3,155.6L257.7,156.2L258.0,156.8L258.4,157.4L258.7,158.0L259.1,158.5L259.4,159.1L259.8,159.7L260.2,160.3L260.5,160.9L260.9,161.5L261.2,162.1L261.6,162.7L261.9,163.3L262.3,163.9L262.6,164.5L263.0,165.1L263.4,165.7L263.7,166.3L264.1,166.8L264.4,167.4L264.8,168.0L265.1,168.6L265.5,169.2L265.8,169.8L266.2,170.4L266.5,171.0L266.9,171.6L267.3,172.2L267.6,172.8L268.0,173.4L268.3,174.0L268.7,166.4L269.0,159.8L269.4,153.9L269.7,148.6L270.1,144.0L270.4,140.0L270.8,136.4L271.2,133.3L271.5,130.5L271.9,128.2L272.2,126.1L272.6,124.3L272.9,122.8L273.3,121.5L273.6,120.4L274.0,119.4L274.4,118.7L274.7,118.0L275.1,117.5L275.4,117.2L275.8,116.9L276.1,116.7L276.5,116.6L276.8,116.6L277.2,116.6L277.6,116.7L277.9,116.9L278.3,117.1L278.6,117.3L279.0,117.6L279.3,118.0L279.7,118.3L280.0,118.7L280.4,119.1L280.7,119.5L281.1,119.9L281.5,120.4L281.8,120.9L282.2,121.4L282.5,121.9L282.9,122.4L283.2,122.9L283.6,123.4L283.9,124.0L284.3,124.5L284.6,125.1L285.0,125.6L285.4,126.2L285.7,126.8L286.1,127.3L286.4,127.9L286.8,128.5L287.1,129.1L287.5,129.7L287.8,130.3L288.2,130.9L288.6,131.4L288.9,132.0L289.3,132.6L289.6,133.2L290.0,133.8L290.3,134.4L290.7,135.0L291.0,135.6L291.4,136.2L291.8,136.8L292.1,137.4L292.5,138.0L292.8,138.6L293.2,139.3L293.5,139.9L293.9,140.5L294.2,141.1L294.6,141.7L294.9,142.3L295.3,142.9L295.7,143.5L296.0,144.1L296.4,144.7L296.7,145.3L297.1,145.9L297.4,146.5L297.8,147.1L298.1,147.7L298.5,148.4L298.9,149.0L299.2,149.6L299.6,150.2L299.9,150.8L300.3,151.4L300.6,152.0L301.0,152.6L301.3,153.2L301.7,153.8L302.0,154.4L302.4,155.0L302.8,155.7L303.1,156.3L303.5,156.9L303.8,157.5L304.2,158.1L304.5,158.7L304.9,159.3L305.2,159.9L305.6,160.5L305.9,161.1L306.3,161.7L306.7,162.3L307.0,163.0L307.4,163.6L307.7,164.2L308.1,164.8L308.4,165.4L308.8,166.0L309.1,166.6L309.5,167.2L309.9,167.8L310.2,168.4L310.6,169.0L310.9,169.6L311.3,170.3L311.6,170.9L312.0,171.5L312.3,172.1L312.7,172.7L313.1,173.3L313.4,165.8L313.8,159.1L314.1,153.2L314.5,148.0L314.8,143.4L315.2,139.3L315.5,135.7L315.9,132.6L316.2,129.8L316.6,127.4L317.0,125.4L317.3,123.6L317.7,122.0L318.0,120.7L318.4,119.6L318.7,118.6L319.1,117.9L319.4,117.2L319.8,116.7L320.1,116.3L320.5,116.1L320.9,115.9L321.2,115.7L321.6,115.7L321.9,115.7L322.3,115.8L322.6,116.0L323.0,116.2L323.3,116.4L323.7,116.7L324.1,117.0L324.4,117.3L324.8,117.7L325.1,118.1L325.5,118.5L325.8,118.9L326.2,119.4L326.5,119.8L326.9,120.3L327.2,120.8L327.6,121.3L328.0,121.8L328.3,122.3L328.7,122.8L329.0,123.4L329.4,123.9L329.7,124.5L330.1,125.0L330.4,125.6L330.8,126.1L331.2,126.7L331.5,127.3L331.9,127.8L332.2,128.4L332.6,129.0L332.9,129.6L333.3,130.1L333.6,130.7L334.0,131.3L334.4,131.9L334.7,132.5L335.1,133.1L335.4,133.6L335.8,134.2L336.1,134.8L336.5,135.4L336.8,136.0L337.2,136.6L337.5,137.2L337.9,137.8L338.3,138.4L338.6,139.0L339.0,139.6L339.3,140.2L339.7,140.7L340.0,141.3L340.4,141.9L340.7,142.5L341.1,143.1L341.5,143.7L341.8,144.3L342.2,144.9L342.5,145.5L342.9,146.1L343.2,146.7L343.6,147.3L343.9,147.9L344.3,148.5L344.6,149.1L345.0,149.7L345.4,150.3L345.7,150.9L346.1,151.4L346.4,152.0L346.8,152.6L347.1,153.2L347.5,153.8L347.8,154.4L348.2,155.0L348.5,155.6L348.9,156.2L349.3,156.8L349.6,157.4L350.0,158.0L350.3,158.6L350.7,159.2L351.0,159.8L351.4,160.4L351.7,161.0L352.1,161.6L352.5,162.2L352.8,162.8L353.2,163.4L353.5,164.0L353.9,164.6L354.2,165.1L354.6,165.7L354.9,166.3L355.3,166.9L355.6,167.5L356.0,168.1L356.4,168.7L356.7,169.3L357.1,169.9L357.4,170.5L357.8,171.1L358.1,163.7L358.5,157.1L358.8,151.2L359.2,146.1L359.6,141.5L359.9,137.5L360.3,134.0L360.6,130.9L361.0,128.2L361.3,125.8L361.7,123.8L362.0,122.0L362.4,120.5L362.8,119.2L363.1,118.1L363.5,117.2L363.8,116.4L364.2,115.8L364.5,115.3L364.9,115.0L365.2,114.7L365.6,114.5L365.9,114.4L366.3,114.4L366.7,114.4L367.0,114.5L367.4,114.7L367.7,114.9L368.1,115.1L368.4,115.4L368.8,115.7L369.1,116.1L369.5,116.4L369.9,116.8L370.2,117.2L370.6,117.7L370.9,118.1L371.3,118.6L371.6,119.1L372.0,119.6L372.3,120.1L372.7,120.6L373.0,121.1L373.4,121.6L373.8,122.2L374.1,122.7L374.5,123.3L374.8,123.8L375.2,124.4L375.5,125.0L375.9,125.5L376.2,126.1L376.6,126.7L377.0,127.3L377.3,127.8L377.7,128.4L378.0,129.0L378.4,129.6L378.7,130.2L379.1,130.8L379.4,131.4L379.8,131.9L380.1,132.5L380.5,133.1L380.9,133.7L381.2,134.3L381.6,134.9L381.9,135.5L382.3,136.1L382.6,136.7L383.0,137.3L383.3,137.9L383.7,138.5L384.0,139.1L384.4,139.7L384.8,140.3L385.1,140.9L385.5,141.5L385.8,142.1L386.2,142.7L386.5,143.3L386.9,143.9L387.2,144.5L387.6,145.1L388.0,145.7L388.3,146.3L388.7,146.9L389.0,147.5L389.4,148.1L389.7,148.6L390.1,149.2L390.4,149.8L390.8,150.4L391.1,151.0L391.5,151.6L391.9,152.2L392.2,152.8L392.6,153.4L392.9,154.0L393.3,154.6L393.6,155.2L394.0,155.8L394.3,156.4L394.7,157.0L395.1,157.6L395.4,158.2L395.8,158.8L396.1,159.4L396.5,160.0L396.8,160.6L397.2,161.2L397.5,161.8L397.9,162.4L398.2,163.0L398.6,163.6L399.0,164.2L399.3,164.8L399.7,165.4L400.0,166.0L400.4,166.6L400.7,167.2L401.1,167.8L401.4,168.4L401.8,169.0L402.2,169.6L402.5,170.2L402.9,162.8L403.2,156.2L403.6,150.4L403.9,145.2L404.3,140.6L404.6,136.6L405.0,133.1L405.4,130.0L405.7,127.3L406.1,125.0L406.4,122.9L406.8,121.1L407.1,119.6L407.5,118.3L407.8,117.2L408.2,116.3L408.5,115.6L408.9,114.9L409.3,114.5L409.6,114.1L410.0,113.8L410.3,113.6L410.7,113.5L411.0,113.5L411.4,113.6L411.7,113.7L412.1,113.8L412.5,114.0L412.8,114.3L413.2,114.5L413.5,114.9L413.9,115.2L414.2,115.6L414.6,116.0L414.9,116.4L415.3,116.8L415.6,117.3L416.0,117.7L416.4,118.2L416.7,118.7L417.1,119.2L417.4,119.8L417.8,120.3L418.1,120.8L418.5,121.4L418.8,121.9L419.2,122.5L419.6,123.0L419.9,123.6L420.3,124.1L420.6,124.7L421.0,125.3L421.3,125.9L421.7,126.4L422.0,127.0L422.4,127.6L422.7,128.2L423.1,128.8L423.5,129.4L423.8,130.0L424.2,130.5L424.5,131.1L424.9,131.7L425.2,132.3L425.6,132.9L425.9,133.5L426.3,134.1L426.6,134.7L427.0,135.3L427.4,135.9L427.7,136.5L428.1,137.1L428.4,137.7L428.8,138.3L429.1,138.9L429.5,139.5L429.8,140.1L430.2,140.7L430.6,141.3L430.9,141.9L431.3,142.5L431.6,143.1L432.0,143.7L432.3,144.3L432.7,144.9L433.0,145.5L433.4,146.1L433.8,146.7L434.1,147.3L434.5,147.9L434.8,148.5L435.2,149.1L435.5,149.7L435.9,150.3L436.2,150.9L436.6,151.5L436.9,152.1L437.3,152.7L437.7,153.3L438.0,153.9L438.4,154.5L438.7,155.1L439.1,155.7L439.4,156.3L439.8,156.9L440.1,157.5L440.5,158.1L440.9,158.7L441.2,159.3L441.6,159.9L441.9,160.5L442.3,161.1L442.6,161.7L443.0,162.3L443.3,162.9L443.7,163.5L444.0,164.2L444.4,164.8L444.8,165.4L445.1,166.0L445.5,166.6L445.8,167.2L446.2,167.8L446.5,168.4L446.9,169.0L447.2,169.6L447.6,162.1L448.0,155.5L448.3,149.6L448.7,144.4L449.0,139.8L449.4,135.8L449.7,132.3L450.1,129.2L450.4,126.4L450.8,124.1L451.1,122.0L451.5,120.3L451.9,118.7L452.2,117.4L452.6,116.3L452.9,115.4L453.3,114.7L453.6,114.0L454.0,113.6L454.3,113.2L454.7,112.9L455.0,112.7L455.4,112.7L455.8,112.6L456.1,112.7L456.5,112.8L456.8,112.9L457.2,113.2L457.5,113.4L457.9,113.7L458.2,114.0L458.6,114.4L459.0,114.7L459.3,115.1L459.7,115.6L460.0,116.0L460.4,116.5L460.7,116.9L461.1,117.4L461.4,117.9L461.8,118.4L462.1,119.0L462.5,119.5L462.9,120.0L463.2,120.6L463.6,121.1L463.9,121.7L464.3,122.3L464.6,122.8L465.0,123.4L465.3,124.0L465.7,124.6L466.1,125.1L466.4,125.7L466.8,126.3L467.1,126.9L467.5,127.5L467.8,128.1L468.2,128.7L468.5,129.3L468.9,129.9L469.2,130.5L469.6,131.1L470.0,131.7L470.3,132.3L470.7,132.9L471.0,133.5L471.4,134.1L471.7,134.7L472.1,135.3L472.4,135.9L472.8,136.5L473.2,137.1L473.5,137.7L473.9,138.3L474.2,138.9L474.6,139.6L474.9,140.2L475.3,140.8L475.6,141.4L476.0,142.0L476.4,142.6L476.7,143.2L477.1,143.8L477.4,144.4L477.8,145.0L478.1,145.6L478.5,146.2L478.8,146.8L479.2,147.4L479.5,148.1L479.9,148.7L480.3,149.3L480.6,149.9L481.0,150.5L481.3,151.1L481.7,151.7L482.0,152.3L482.4,152.9L482.7,153.5L483.1,154.1L483.5,154.7L483.8,155.4L484.2,156.0L484.5,156.6L484.9,157.2L485.2,157.8L485.6,158.4L485.9,159.0L486.3,159.6L486.6,160.2L487.0,160.8L487.4,161.4L487.7,162.0L488.1,162.7L488.4,163.3L488.8,163.9L489.1,164.5L489.5,165.1L489.8,165.7L490.2,166.3L490.5,166.9L490.9,167.5L491.3,168.1L491.6,168.7L492.0,169.3L492.3,161.8L492.7,155.2L493.0,149.3L493.4,144.1L493.7,139.5L494.1,135.5L494.5,131.9L494.8,128.8L495.2,126.1L495.5,123.7L495.9,121.6L496.2,119.9L496.6,118.3L496.9,117.0L497.3,115.9L497.6,115.0L498.0,114.2L498.4,113.6L498.7,113.1L499.1,112.8L499.4,112.5L499.8,112.3L500.1,112.2L500.5,112.2L500.8,112.2L501.2,112.3L501.6,112.5L501.9,112.7L502.3,113.0L502.6,113.2L503.0,113.6L503.3,113.9L503.7,114.3L504.0,114.7L504.4,115.1L504.8,115.6L505.1,116.0L505.5,116.5L505.8,117.0L506.2,117.5L506.5,118.0L506.9,118.5L507.2,119.1L507.6,119.6L507.9,120.1L508.3,120.7L508.7,121.3L509.0,121.8L509.4,122.4L509.7,123.0L510.1,123.5L510.4,124.1L510.8,124.7L511.1,125.3L511.5,125.9L511.9,126.5L512.2,127.1L512.6,127.7L512.9,128.2L513.3,128.8L513.6,129.4L514.0,130.0L514.3,130.6L514.7,131.2L515.0,131.8L515.4,132.4L515.8,133.1L516.1,133.7L516.5,134.3L516.8,134.9L517.2,135.5L517.5,136.1L517.9,136.7L518.2,137.3L518.6,137.9L519.0,138.5L519.3,139.1L519.7,139.7L520.0,140.3L520.4,140.9L520.7,141.5L521.1,142.1L521.4,142.7L521.8,143.4L522.1,144.0L522.5,144.6L522.9,145.2L523.2,145.8L523.6,146.4L523.9,147.0L524.3,147.6L524.6,148.2L525.0,148.8L525.3,149.4L525.7,150.0L526.0,150.7L526.4,151.3L526.8,151.9L527.1,152.5L527.5,153.1L527.8,153.7L528.2,154.3L528.5,154.9L528.9,155.5L529.2,156.1L529.6,156.7L530.0,157.3L530.3,158.0L530.7,158.6L531.0,159.2L531.4,159.8L531.7,160.4L532.1,161.0L532.4,161.6L532.8,162.2L533.2,162.8L533.5,163.4L533.9,164.0L534.2,164.6L534.6,165.3L534.9,165.9L535.3,166.5L535.6,167.1L536.0,167.7L536.3,168.3L536.7,168.9" fill="none" stroke="#3232e2" stroke-width="1.5" stroke-linejoin="round"/>
<path d="M89.4,117.9L89.8,109.3L90.1,101.6L90.5,94.7L90.8,88.6L91.2,83.2L91.5,78.4L91.9,74.2L92.2,70.4L92.6,67.1L93.0,64.2L93.3,61.6L93.7,59.3L94.0,57.3L94.4,55.5L94.7,54.0L95.1,52.7L95.4,51.5L95.8,50.6L96.1,49.7L96.5,49.0L96.9,48.4L97.2,47.9L97.6,47.5L97.9,47.2L98.3,47.0L98.6,46.8L99.0,46.7L99.3,46.6L99.7,46.6L100.1,46.6L100.4,46.7L100.8,46.8L101.1,46.9L101.5,47.0L101.8,47.2L102.2,47.4L102.5,47.6L102.9,47.9L103.2,48.1L103.6,48.4L104.0,48.7L104.3,49.0L104.7,49.3L105.0,49.6L105.4,49.9L105.7,50.2L106.1,50.6L106.4,50.9L106.8,51.3L107.2,51.6L107.5,52.0L107.9,52.3L108.2,52.7L108.6,53.0L108.9,53.4L109.3,53.8L109.6,54.2L110.0,54.5L110.3,54.9L110.7,55.3L111.1,55.7L111.4,56.1L111.8,56.4L112.1,56.8L112.5,57.2L112.8,57.6L113.2,58.0L113.5,58.4L113.9,58.8L114.2,59.2L114.6,59.6L115.0,60.0L115.3,60.4L115.7,60.7L116.0,61.1L116.4,61.5L116.7,61.9L117.1,62.3L117.4,62.7L117.8,63.1L118.2,63.5L118.5,63.9L118.9,64.3L119.2,64.7L119.6,65.1L119.9,65.5L120.3,65.9L120.6,66.3L121.0,66.7L121.4,67.1L121.7,67.5L122.1,67.9L122.4,68.3L122.8,68.7L123.1,69.2L123.5,69.6L123.8,70.0L124.2,70.4L124.5,70.8L124.9,71.2L125.3,71.6L125.6,72.0L126.0,72.4L126.3,72.8L126.7,73.2L127.0,73.6L127.4,74.0L127.7,74.4L128.1,74.9L128.4,75.3L128.8,75.7L129.2,76.1L129.5,76.5L129.9,76.9L130.2,77.3L130.6,77.7L130.9,78.1L131.3,78.6L131.6,79.0L132.0,79.4L132.4,79.8L132.7,80.2L133.1,80.6L133.4,81.0L133.8,81.4L134.1,81.9L134.5,82.3L134.8,82.7L135.2,83.1L135.6,83.5L135.9,83.9L136.3,84.4L136.6,84.8L137.0,85.2L137.3,85.6L137.7,86.0L138.0,86.4L138.4,86.9L138.7,87.3L139.1,87.7L139.5,88.1L139.8,88.5L140.2,89.0L140.5,89.4L140.9,89.8L141.2,90.2L141.6,90.7L141.9,91.1L142.3,91.5L142.7,91.9L143.0,92.3L143.4,92.8L143.7,93.2L144.1,93.6L144.4,94.0L144.8,94.5L145.1,94.9L145.5,95.3L145.8,95.7L146.2,96.2L146.6,96.6L146.9,97.0L147.3,97.4L147.6,97.9L148.0,98.3L148.3,98.7L148.7,99.2L149.0,99.6L149.4,100.0L149.8,100.4L150.1,100.9L150.5,101.3L150.8,101.7L151.2,102.2L151.5,102.6L151.9,103.0L152.2,103.5L152.6,103.9L152.9,104.3L153.3,104.8L153.7,105.2L154.0,105.6L154.4,106.1L154.7,106.5L155.1,106.9L155.4,107.4L155.8,107.8L156.1,108.2L156.5,108.7L156.9,109.1L157.2,109.5L157.6,110.0L157.9,110.4L158.3,110.9L158.6,111.3L159.0,111.7L159.3,112.2L159.7,112.6L160.0,113.1L160.4,113.5L160.8,113.9L161.1,114.4L161.5,114.8L161.8,115.3L162.2,115.7L162.5,116.1L162.9,116.6L163.2,117.0L163.6,117.5L163.9,117.9L164.3,118.3L164.7,118.8L165.0,119.2L165.4,119.7L165.7,120.1L166.1,120.6L166.4,121.0L166.8,121.5L167.1,121.9L167.5,122.4L167.9,122.8L168.2,123.2L168.6,123.7L168.9,124.1L169.3,124.6L169.6,125.0L170.0,125.5L170.3,125.9L170.7,126.4L171.1,126.8L171.4,127.3L171.8,127.7L172.1,128.2L172.5,128.6L172.8,129.1L173.2,129.5L173.5,130.0L173.9,130.4L174.2,130.9L174.6,131.3L175.0,131.8L175.3,132.3L175.7,132.7L176.0,133.2L176.4,133.6L176.7,134.1L177.1,134.5L177.4,135.0L177.8,135.4L178.2,135.9L178.5,136.3L178.9,136.8L179.2,132.8L179.6,129.3L179.9,126.3L180.3,123.5L180.6,121.2L181.0,119.1L181.3,117.3L181.7,115.7L182.1,114.4L182.4,113.2L182.8,112.2L183.1,111.4L183.5,110.7L183.8,110.1L184.2,109.7L184.5,109.3L184.9,109.1L185.2,108.9L185.6,108.7L186.0,108.7L186.3,108.7L186.7,108.7L187.0,108.8L187.4,109.0L187.7,109.1L188.1,109.4L188.4,109.6L188.8,109.8L189.2,110.1L189.5,110.4L189.9,110.8L190.2,111.1L190.6,111.5L190.9,111.8L191.3,112.2L191.6,112.6L192.0,113.0L192.4,113.4L192.7,113.8L193.1,114.3L193.4,114.7L193.8,115.1L194.1,115.6L194.5,116.0L194.8,116.5L195.2,116.9L195.5,117.4L195.9,117.8L196.3,118.3L196.6,118.7L197.0,119.2L197.3,119.7L197.7,120.1L198.0,120.6L198.4,121.1L198.7,121.6L199.1,122.0L199.5,122.5L199.8,123.0L200.2,123.5L200.5,123.9L200.9,124.4L201.2,124.9L201.6,125.4L201.9,125.9L202.3,126.3L202.6,126.8L203.0,127.3L203.4,127.8L203.7,128.3L204.1,128.7L204.4,129.2L204.8,129.7L205.1,130.2L205.5,130.7L205.8,131.1L206.2,131.6L206.6,132.1L206.9,132.6L207.3,133.1L207.6,133.6L208.0,134.0L208.3,134.5L208.7,135.0L209.0,135.5L209.4,136.0L209.7,136.5L210.1,136.9L210.5,137.4L210.8,137.9L211.2,138.4L211.5,138.9L211.9,139.3L212.2,139.8L212.6,140.3L212.9,140.8L213.3,141.3L213.7,141.8L214.0,142.2L214.4,142.7L214.7,143.2L215.1,143.7L215.4,144.2L215.8,144.7L216.1,145.1L216.5,145.6L216.8,146.1L217.2,146.6L217.6,147.1L217.9,147.6L218.3,148.0L218.6,148.5L219.0,149.0L219.3,149.5L219.7,150.0L220.0,150.4L220.4,150.9L220.8,151.4L221.1,151.9L221.5,152.4L221.8,152.9L222.2,153.3L222.5,153.8L222.9,154.3L223.2,154.8L223.6,155.3L223.9,149.1L224.3,143.5L224.7,138.7L225.0,134.4L225.4,130.6L225.7,127.3L226.1,124.4L226.4,121.8L226.8,119.6L227.1,117.7L227.5,116.1L227.9,114.7L228.2,113.5L228.6,112.4L228.9,111.6L229.3,110.9L229.6,110.3L230.0,109.9L230.3,109.6L230.7,109.3L231.0,109.2L231.4,109.1L231.8,109.1L232.1,109.2L232.5,109.3L232.8,109.5L233.2,109.7L233.5,109.9L233.9,110.2L234.2,110.6L234.6,110.9L235.0,111.3L235.3,111.7L235.7,112.1L236.0,112.5L236.4,113.0L236.7,113.5L237.1,113.9L237.4,114.4L237.8,114.9L238.1,115.4L238.5,116.0L238.9,116.5L239.2,117.0L239.6,117.6L239.9,118.1L240.3,118.7L240.6,119.2L241.0,119.8L241.3,120.4L241.7,120.9L242.1,121.5L242.4,122.1L242.8,122.6L243.1,123.2L243.5,123.8L243.8,124.4L244.2,125.0L244.5,125.5L244.9,126.1L245.2,126.7L245.6,127.3L246.0,127.9L246.3,128.5L246.7,129.0L247.0,129.6L247.4,130.2L247.7,130.8L248.1,131.4L248.4,132.0L248.8,132.6L249.2,133.2L249.5,133.8L249.9,134.4L250.2,134.9L250.6,135.5L250.9,136.1L251.3,136.7L251.6,137.3L252.0,137.9L252.3,138.5L252.7,139.1L253.1,139.7L253.4,140.3L253.8,140.9L254.1,141.5L254.5,142.0L254.8,142.6L255.2,143.2L255.5,143.8L255.9,144.4L256.2,145.0L256.6,145.6L257.0,146.2L257.3,146.8L257.7,147.4L258.0,148.0L258.4,148.6L258.7,149.2L259.1,149.8L259.4,150.3L259.8,150.9L260.2,151.5L260.5,152.1L260.9,152.7L261.2,153.3L261.6,153.9L261.9,154.5L262.3,155.1L262.6,155.7L263.0,156.3L263.4,156.9L263.7,157.5L264.1,158.1L264.4,158.6L264.8,159.2L265.1,159.8L265.5,160.4L265.8,161.0L266.2,161.6L266.5,162.2L266.9,162.8L267.3,163.4L267.6,164.0L268.0,164.6L268.3,165.2L268.7,157.6L269.0,151.0L269.4,145.1L269.7,139.9L270.1,135.2L270.4,131.2L270.8,127.6L271.2,124.5L271.5,121.8L271.9,119.4L272.2,117.3L272.6,115.5L272.9,114.0L273.3,112.7L273.6,111.6L274.0,110.6L274.4,109.9L274.7,109.2L275.1,108.8L275.4,108.4L275.8,108.1L276.1,107.9L276.5,107.8L276.8,107.8L277.2,107.8L277.6,108.0L277.9,108.1L278.3,108.3L278.6,108.6L279.0,108.8L279.3,109.2L279.7,109.5L280.0,109.9L280.4,110.3L280.7,110.7L281.1,111.1L281.5,111.6L281.8,112.1L282.2,112.6L282.5,113.1L282.9,113.6L283.2,114.1L283.6,114.6L283.9,115.2L284.3,115.7L284.6,116.3L285.0,116.8L285.4,117.4L285.7,118.0L286.1,118.6L286.4,119.1L286.8,119.7L287.1,120.3L287.5,120.9L287.8,121.5L288.2,122.1L288.6,122.7L288.9,123.2L289.3,123.8L289.6,124.4L290.0,125.0L290.3,125.6L290.7,126.2L291.0,126.8L291.4,127.4L291.8,128.0L292.1,128.6L292.5,129.2L292.8,129.9L293.2,130.5L293.5,131.1L293.9,131.7L294.2,132.3L294.6,132.9L294.9,133.5L295.3,134.1L295.7,134.7L296.0,135.3L296.4,135.9L296.7,136.5L297.1,137.1L297.4,137.7L297.8,138.3L298.1,139.0L298.5,139.6L298.9,140.2L299.2,140.8L299.6,141.4L299.9,142.0L300.3,142.6L300.6,143.2L301.0,143.8L301.3,144.4L301.7,145.0L302.0,145.6L302.4,146.3L302.8,146.9L303.1,147.5L303.5,148.1L303.8,148.7L304.2,149.3L304.5,149.9L304.9,150.5L305.2,151.1L305.6,151.7L305.9,152.3L306.3,152.9L306.7,153.6L307.0,154.2L307.4,154.8L307.7,155.4L308.1,156.0L308.4,156.6L308.8,157.2L309.1,157.8L309.5,158.4L309.9,159.0L310.2,159.6L310.6,160.2L310.9,160.9L311.3,161.5L311.6,162.1L312.0,162.7L312.3,163.3L312.7,163.9L313.1,164.5L313.4,157.0L313.8,150.3L314.1,144.4L314.5,139.2L314.8,134.6L315.2,130.5L315.5,126.9L315.9,123.8L316.2,121.0L316.6,118.6L317.0,116.6L317.3,114.8L317.7,113.2L318.0,111.9L318.4,110.8L318.7,109.8L319.1,109.1L319.4,108.4L319.8,107.9L320.1,107.5L320.5,107.3L320.9,107.1L321.2,107.0L321.6,106.9L321.9,107.0L322.3,107.0L322.6,107.2L323.0,107.4L323.3,107.6L323.7,107.9L324.1,108.2L324.4,108.5L324.8,108.9L325.1,109.3L325.5,109.7L325.8,110.1L326.2,110.6L326.5,111.0L326.9,111.5L327.2,112.0L327.6,112.5L328.0,113.0L328.3,113.5L328.7,114.0L329.0,114.6L329.4,115.1L329.7,115.7L330.1,116.2L330.4,116.8L330.8,117.3L331.2,117.9L331.5,118.5L331.9,119.0L332.2,119.6L332.6,120.2L332.9,120.8L333.3,121.3L333.6,121.9L334.0,122.5L334.4,123.1L334.7,123.7L335.1,124.3L335.4,124.9L335.8,125.4L336.1,126.0L336.5,126.6L336.8,127.2L337.2,127.8L337.5,128.4L337.9,129.0L338.3,129.6L338.6,130.2L339.0,130.8L339.3,131.4L339.7,132.0L340.0,132.5L340.4,133.1L340.7,133.7L341.1,134.3L341.5,134.9L341.8,135.5L342.2,136.1L342.5,136.7L342.9,137.3L343.2,137.9L343.6,138.5L343.9,139.1L344.3,139.7L344.6,140.3L345.0,140.9L345.4,141.5L345.7,142.1L346.1,142.7L346.4,143.3L346.8,143.8L347.1,144.4L347.5,145.0L347.8,145.6L348.2,146.2L348.5,146.8L348.9,147.4L349.3,148.0L349.6,148.6L350.0,149.2L350.3,149.8L350.7,150.4L351.0,151.0L351.4,151.6L351.7,152.2L352.1,152.8L352.5,153.4L352.8,154.0L353.2,154.6L353.5,155.2L353.9,155.8L354.2,156.4L354.6,157.0L354.9,157.5L355.3,158.1L355.6,158.7L356.0,159.3L356.4,159.9L356.7,160.5L357.1,161.1L357.4,161.7L357.8,162.3L358.1,154.9L358.5,148.3L358.8,142.5L359.2,137.3L359.6,132.7L359.9,128.7L360.3,125.2L360.6,122.1L361.0,119.4L361.3,117.1L361.7,115.0L362.0,113.2L362.4,111.7L362.8,110.4L363.1,109.3L363.5,108.4L363.8,107.7L364.2,107.0L364.5,106.5L364.9,106.2L365.2,105.9L365.6,105.7L365.9,105.6L366.3,105.6L366.7,105.6L367.0,105.7L367.4,105.9L367.7,106.1L368.1,106.3L368.4,106.6L368.8,106.9L369.1,107.3L369.5,107.6L369.9,108.0L370.2,108.5L370.6,108.9L370.9,109.3L371.3,109.8L371.6,110.3L372.0,110.8L372.3,111.3L372.7,111.8L373.0,112.3L373.4,112.9L373.8,113.4L374.1,113.9L374.5,114.5L374.8,115.0L375.2,115.6L375.5,116.2L375.9,116.7L376.2,117.3L376.6,117.9L377.0,118.5L377.3,119.0L377.7,119.6L378.0,120.2L378.4,120.8L378.7,121.4L379.1,122.0L379.4,122.6L379.8,123.1L380.1,123.7L380.5,124.3L380.9,124.9L381.2,125.5L381.6,126.1L381.9,126.7L382.3,127.3L382.6,127.9L383.0,128.5L383.3,129.1L383.7,129.7L384.0,130.3L384.4,130.9L384.8,131.5L385.1,132.1L385.5,132.7L385.8,133.3L386.2,133.9L386.5,134.5L386.9,135.1L387.2,135.7L387.6,136.3L388.0,136.9L388.3,137.5L388.7,138.1L389.0,138.7L389.4,139.3L389.7,139.9L390.1,140.5L390.4,141.1L390.8,141.7L391.1,142.3L391.5,142.9L391.9,143.5L392.2,144.1L392.6,144.7L392.9,145.3L393.3,145.8L393.6,146.4L394.0,147.0L394.3,147.6L394.7,148.2L395.1,148.8L395.4,149.4L395.8,150.0L396.1,150.6L396.5,151.2L396.8,151.8L397.2,152.4L397.5,153.0L397.9,153.6L398.2,154.2L398.6,154.8L399.0,155.4L399.3,156.0L399.7,156.6L400.0,157.2L400.4,157.8L400.7,158.4L401.1,159.0L401.4,159.6L401.8,160.2L402.2,160.8L402.5,161.4L402.9,154.0L403.2,147.4L403.6,141.6L403.9,136.4L404.3,131.8L404.6,127.8L405.0,124.3L405.4,121.2L405.7,118.5L406.1,116.2L406.4,114.1L406.8,112.3L407.1,110.8L407.5,109.5L407.8,108.4L408.2,107.5L408.5,106.8L408.9,106.1L409.3,105.7L409.6,105.3L410.0,105.0L410.3,104.8L410.7,104.7L411.0,104.7L411.4,104.8L411.7,104.9L412.1,105.0L412.5,105.2L412.8,105.5L413.2,105.7L413.5,106.1L413.9,106.4L414.2,106.8L414.6,107.2L414.9,107.6L415.3,108.0L415.6,108.5L416.0,109.0L416.4,109.4L416.7,109.9L417.1,110.4L417.4,111.0L417.8,111.5L418.1,112.0L418.5,112.6L418.8,113.1L419.2,113.7L419.6,114.2L419.9,114.8L420.3,115.3L420.6,115.9L421.0,116.5L421.3,117.1L421.7,117.6L422.0,118.2L422.4,118.8L422.7,119.4L423.1,120.0L423.5,120.6L423.8,121.2L424.2,121.8L424.5,122.3L424.9,122.9L425.2,123.5L425.6,124.1L425.9,124.7L426.3,125.3L426.6,125.9L427.0,126.5L427.4,127.1L427.7,127.7L428.1,128.3L428.4,128.9L428.8,129.5L429.1,130.1L429.5,130.7L429.8,131.3L430.2,131.9L430.6,132.5L430.9,133.1L431.3,133.7L431.6,134.3L432.0,134.9L432.3,135.5L432.7,136.1L433.0,136.7L433.4,137.3L433.8,137.9L434.1,138.5L434.5,139.1L434.8,139.7L435.2,140.3L435.5,140.9L435.9,141.5L436.2,142.1L436.6,142.7L436.9,143.3L437.3,143.9L437.7,144.5L438.0,145.1L438.4,145.7L438.7,146.3L439.1,146.9L439.4,147.5L439.8,148.1L440.1,148.7L440.5,149.3L440.9,149.9L441.2,150.5L441.6,151.1L441.9,151.7L442.3,152.4L442.6,153.0L443.0,153.6L443.3,154.2L443.7,154.8L444.0,155.4L444.4,156.0L444.8,156.6L445.1,157.2L445.5,157.8L445.8,158.4L446.2,159.0L446.5,159.6L446.9,160.2L447.2,160.8L447.6,153.3L448.0,146.7L448.3,140.8L448.7,135.6L449.0,131.0L449.4,127.0L449.7,123.5L450.1,120.4L450.4,117.7L450.8,115.3L451.1,113.2L451.5,111.5L451.9,109.9L452.2,108.6L452.6,107.5L452.9,106.6L453.3,105.9L453.6,105.3L454.0,104.8L454.3,104.4L454.7,104.1L455.0,104.0L455.4,103.9L455.8,103.8L456.1,103.9L456.5,104.0L456.8,104.2L457.2,104.4L457.5,104.6L457.9,104.9L458.2,105.2L458.6,105.6L459.0,105.9L459.3,106.3L459.7,106.8L460.0,107.2L460.4,107.7L460.7,108.1L461.1,108.6L461.4,109.1L461.8,109.7L462.1,110.2L462.5,110.7L462.9,111.2L463.2,111.8L463.6,112.4L463.9,112.9L464.3,113.5L464.6,114.0L465.0,114.6L465.3,115.2L465.7,115.8L466.1,116.4L466.4,116.9L466.8,117.5L467.1,118.1L467.5,118.7L467.8,119.3L468.2,119.9L468.5,120.5L468.9,121.1L469.2,121.7L469.6,122.3L470.0,122.9L470.3,123.5L470.7,124.1L471.0,124.7L471.4,125.3L471.7,125.9L472.1,126.5L472.4,127.1L472.8,127.7L473.2,128.3L473.5,128.9L473.9,129.5L474.2,130.2L474.6,130.8L474.9,131.4L475.3,132.0L475.6,132.6L476.0,133.2L476.4,133.8L476.7,134.4L477.1,135.0L477.4,135.6L477.8,136.2L478.1,136.8L478.5,137.4L478.8,138.0L479.2,138.7L479.5,139.3L479.9,139.9L480.3,140.5L480.6,141.1L481.0,141.7L481.3,142.3L481.7,142.9L482.0,143.5L482.4,144.1L482.7,144.7L483.1,145.3L483.5,146.0L483.8,146.6L484.2,147.2L484.5,147.8L484.9,148.4L485.2,149.0L485.6,149.6L485.9,150.2L486.3,150.8L486.6,151.4L487.0,152.0L487.4,152.6L487.7,153.3L488.1,153.9L488.4,154.5L488.8,155.1L489.1,155.7L489.5,156.3L489.8,156.9L490.2,157.5L490.5,158.1L490.9,158.7L491.3,159.3L491.6,159.9L492.0,160.6L492.3,153.1L492.7,146.4L493.0,140.5L493.4,135.3L493.7,130.7L494.1,126.7L494.5,123.1L494.8,120.0L495.2,117.3L495.5,114.9L495.9,112.9L496.2,111.1L496.6,109.5L496.9,108.2L497.3,107.1L497.6,106.2L498.0,105.5L498.4,104.8L498.7,104.3L499.1,104.0L499.4,103.7L499.8,103.5L500.1,103.4L500.5,103.4L500.8,103.5L501.2,103.6L501.6,103.7L501.9,103.9L502.3,104.2L502.6,104.5L503.0,104.8L503.3,105.1L503.7,105.5L504.0,105.9L504.4,106.3L504.8,106.8L505.1,107.2L505.5,107.7L505.8,108.2L506.2,108.7L506.5,109.2L506.9,109.7L507.2,110.3L507.6,110.8L507.9,111.3L508.3,111.9L508.7,112.5L509.0,113.0L509.4,113.6L509.7,114.2L510.1,114.7L510.4,115.3L510.8,115.9L511.1,116.5L511.5,117.1L511.9,117.7L512.2,118.3L512.6,118.9L512.9,119.5L513.3,120.1L513.6,120.7L514.0,121.2L514.3,121.8L514.7,122.5L515.0,123.1L515.4,123.7L515.8,124.3L516.1,124.9L516.5,125.5L516.8,126.1L517.2,126.7L517.5,127.3L517.9,127.9L518.2,128.5L518.6,129.1L519.0,129.7L519.3,130.3L519.7,130.9L520.0,131.5L520.4,132.1L520.7,132.7L521.1,133.3L521.4,134.0L521.8,134.6L522.1,135.2L522.5,135.8L522.9,136.4L523.2,137.0L523.6,137.6L523.9,138.2L524.3,138.8L524.6,139.4L525.0,140.0L525.3,140.6L525.7,141.3L526.0,141.9L526.4,142.5L526.8,143.1L527.1,143.7L527.5,144.3L527.8,144.9L528.2,145.5L528.5,146.1L528.9,146.7L529.2,147.3L529.6,147.9L530.0,148.6L530.3,149.2L530.7,149.8L531.0,150.4L531.4,151.0L531.7,151.6L532.1,152.2L532.4,152.8L532.8,153.4L533.2,154.0L533.5,154.6L533.9,155.2L534.2,155.9L534.6,156.5L534.9,157.1L535.3,157.7L535.6,158.3L536.0,158.9L536.3,159.5L536.7,160.1" fill="none" stroke="#38c07a" stroke-width="1.5" stroke-linejoin="round"/>
<path d="M89.4,117.9L89.8,108.3L90.1,99.8L90.5,92.2L90.8,85.5L91.2,79.5L91.5,74.2L91.9,69.4L92.2,65.3L92.6,61.5L93.0,58.3L93.3,55.4L93.7,52.8L94.0,50.6L94.4,48.6L94.7,46.9L95.1,45.4L95.4,44.1L95.8,43.0L96.1,42.0L96.5,41.2L96.9,40.5L97.2,39.9L97.6,39.4L97.9,39.0L98.3,38.7L98.6,38.5L99.0,38.3L99.3,38.2L99.7,38.1L100.1,38.1L100.4,38.1L100.8,38.2L101.1,38.3L101.5,38.4L101.8,38.6L102.2,38.8L102.5,39.0L102.9,39.2L103.2,39.4L103.6,39.7L104.0,40.0L104.3,40.3L104.7,40.6L105.0,40.9L105.4,41.2L105.7,41.5L106.1,41.8L106.4,42.2L106.8,42.5L107.2,42.8L107.5,43.2L107.9,43.6L108.2,43.9L108.6,44.3L108.9,44.6L109.3,45.0L109.6,45.4L110.0,45.8L110.3,46.1L110.7,46.5L111.1,46.9L111.4,47.3L111.8,47.7L112.1,48.0L112.5,48.4L112.8,48.8L113.2,49.2L113.5,49.6L113.9,50.0L114.2,50.4L114.6,50.8L115.0,51.2L115.3,51.6L115.7,52.0L116.0,52.4L116.4,52.7L116.7,53.1L117.1,53.5L117.4,53.9L117.8,54.3L118.2,54.7L118.5,55.1L118.9,55.5L119.2,55.9L119.6,56.3L119.9,56.7L120.3,57.1L120.6,57.5L121.0,57.9L121.4,58.3L121.7,58.7L122.1,59.2L122.4,59.6L122.8,60.0L123.1,60.4L123.5,60.8L123.8,61.2L124.2,61.6L124.5,62.0L124.9,62.4L125.3,62.8L125.6,63.2L126.0,63.6L126.3,64.0L126.7,64.4L127.0,64.8L127.4,65.2L127.7,65.7L128.1,66.1L128.4,66.5L128.8,66.9L129.2,67.3L129.5,67.7L129.9,68.1L130.2,68.5L130.6,68.9L130.9,69.3L131.3,69.8L131.6,70.2L132.0,70.6L132.4,71.0L132.7,71.4L133.1,71.8L133.4,72.2L133.8,72.7L134.1,73.1L134.5,73.5L134.8,73.9L135.2,74.3L135.6,74.7L135.9,75.1L136.3,75.6L136.6,76.0L137.0,76.4L137.3,76.8L137.7,77.2L138.0,77.7L138.4,78.1L138.7,78.5L139.1,78.9L139.5,79.3L139.8,79.8L140.2,80.2L140.5,80.6L140.9,81.0L141.2,81.4L141.6,81.9L141.9,82.3L142.3,82.7L142.7,83.1L143.0,83.6L143.4,84.0L143.7,84.4L144.1,84.8L144.4,85.2L144.8,85.7L145.1,86.1L145.5,86.5L145.8,87.0L146.2,87.4L146.6,87.8L146.9,88.2L147.3,88.7L147.6,89.1L148.0,89.5L148.3,89.9L148.7,90.4L149.0,90.8L149.4,91.2L149.8,91.7L150.1,92.1L150.5,92.5L150.8,92.9L151.2,93.4L151.5,93.8L151.9,94.2L152.2,94.7L152.6,95.1L152.9,95.5L153.3,96.0L153.7,96.4L154.0,96.8L154.4,97.3L154.7,97.7L155.1,98.1L155.4,98.6L155.8,99.0L156.1,99.4L156.5,99.9L156.9,100.3L157.2,100.8L157.6,101.2L157.9,101.6L158.3,102.1L158.6,102.5L159.0,102.9L159.3,103.4L159.7,103.8L160.0,104.3L160.4,104.7L160.8,105.1L161.1,105.6L161.5,106.0L161.8,106.5L162.2,106.9L162.5,107.3L162.9,107.8L163.2,108.2L163.6,108.7L163.9,109.1L164.3,109.6L164.7,110.0L165.0,110.4L165.4,110.9L165.7,111.3L166.1,111.8L166.4,112.2L166.8,112.7L167.1,113.1L167.5,113.6L167.9,114.0L168.2,114.5L168.6,114.9L168.9,115.3L169.3,115.8L169.6,116.2L170.0,116.7L170.3,117.1L170.7,117.6L171.1,118.0L171.4,118.5L171.8,118.9L172.1,119.4L172.5,119.8L172.8,120.3L173.2,120.7L173.5,121.2L173.9,121.6L174.2,122.1L174.6,122.6L175.0,123.0L175.3,123.5L175.7,123.9L176.0,124.4L176.4,124.8L176.7,125.3L177.1,125.7L177.4,126.2L177.8,126.6L178.2,127.1L178.5,127.6L178.9,128.0L179.2,124.0L179.6,120.5L179.9,117.5L180.3,114.7L180.6,112.4L181.0,110.3L181.3,108.5L181.7,106.9L182.1,105.6L182.4,104.4L182.8,103.4L183.1,102.6L183.5,101.9L183.8,101.4L184.2,100.9L184.5,100.5L184.9,100.3L185.2,100.1L185.6,100.0L186.0,99.9L186.3,99.9L186.7,99.9L187.0,100.0L187.4,100.2L187.7,100.4L188.1,100.6L188.4,100.8L188.8,101.1L189.2,101.3L189.5,101.6L189.9,102.0L190.2,102.3L190.6,102.7L190.9,103.0L191.3,103.4L191.6,103.8L192.0,104.2L192.4,104.6L192.7,105.0L193.1,105.5L193.4,105.9L193.8,106.3L194.1,106.8L194.5,107.2L194.8,107.7L195.2,108.1L195.5,108.6L195.9,109.0L196.3,109.5L196.6,110.0L197.0,110.4L197.3,110.9L197.7,111.4L198.0,111.8L198.4,112.3L198.7,112.8L199.1,113.2L199.5,113.7L199.8,114.2L200.2,114.7L200.5,115.2L200.9,115.6L201.2,116.1L201.6,116.6L201.9,117.1L202.3,117.5L202.6,118.0L203.0,118.5L203.4,119.0L203.7,119.5L204.1,119.9L204.4,120.4L204.8,120.9L205.1,121.4L205.5,121.9L205.8,122.4L206.2,122.8L206.6,123.3L206.9,123.8L207.3,124.3L207.6,124.8L208.0,125.2L208.3,125.7L208.7,126.2L209.0,126.7L209.4,127.2L209.7,127.7L210.1,128.1L210.5,128.6L210.8,129.1L211.2,129.6L211.5,130.1L211.9,130.6L212.2,131.0L212.6,131.5L212.9,132.0L213.3,132.5L213.7,133.0L214.0,133.5L214.4,133.9L214.7,134.4L215.1,134.9L215.4,135.4L215.8,135.9L216.1,136.3L216.5,136.8L216.8,137.3L217.2,137.8L217.6,138.3L217.9,138.8L218.3,139.2L218.6,139.7L219.0,140.2L219.3,140.7L219.7,141.2L220.0,141.7L220.4,142.1L220.8,142.6L221.1,143.1L221.5,143.6L221.8,144.1L222.2,144.6L222.5,145.0L222.9,145.5L223.2,146.0L223.6,146.5L223.9,140.3L224.3,134.8L224.7,129.9L225.0,125.6L225.4,121.8L225.7,118.5L226.1,115.6L226.4,113.1L226.8,110.8L227.1,108.9L227.5,107.3L227.9,105.9L228.2,104.7L228.6,103.6L228.9,102.8L229.3,102.1L229.6,101.5L230.0,101.1L230.3,100.8L230.7,100.5L231.0,100.4L231.4,100.3L231.8,100.3L232.1,100.4L232.5,100.5L232.8,100.7L233.2,100.9L233.5,101.2L233.9,101.4L234.2,101.8L234.6,102.1L235.0,102.5L235.3,102.9L235.7,103.3L236.0,103.7L236.4,104.2L236.7,104.7L237.1,105.1L237.4,105.6L237.8,106.1L238.1,106.7L238.5,107.2L238.9,107.7L239.2,108.2L239.6,108.8L239.9,109.3L240.3,109.9L240.6,110.4L241.0,111.0L241.3,111.6L241.7,112.1L242.1,112.7L242.4,113.3L242.8,113.8L243.1,114.4L243.5,115.0L243.8,115.6L244.2,116.2L244.5,116.7L244.9,117.3L245.2,117.9L245.6,118.5L246.0,119.1L246.3,119.7L246.7,120.3L247.0,120.8L247.4,121.4L247.7,122.0L248.1,122.6L248.4,123.2L248.8,123.8L249.2,124.4L249.5,125.0L249.9,125.6L250.2,126.2L250.6,126.7L250.9,127.3L251.3,127.9L251.6,128.5L252.0,129.1L252.3,129.7L252.7,130.3L253.1,130.9L253.4,131.5L253.8,132.1L254.1,132.7L254.5,133.3L254.8,133.8L255.2,134.4L255.5,135.0L255.9,135.6L256.2,136.2L256.6,136.8L257.0,137.4L257.3,138.0L257.7,138.6L258.0,139.2L258.4,139.8L258.7,140.4L259.1,141.0L259.4,141.6L259.8,142.1L260.2,142.7L260.5,143.3L260.9,143.9L261.2,144.5L261.6,145.1L261.9,145.7L262.3,146.3L262.6,146.9L263.0,147.5L263.4,148.1L263.7,148.7L264.1,149.3L264.4,149.9L264.8,150.4L265.1,151.0L265.5,151.6L265.8,152.2L266.2,152.8L266.5,153.4L266.9,154.0L267.3,154.6L267.6,155.2L268.0,155.8L268.3,156.4L268.7,148.9L269.0,142.2L269.4,136.3L269.7,131.1L270.1,126.5L270.4,122.4L270.8,118.8L271.2,115.7L271.5,113.0L271.9,110.6L272.2,108.5L272.6,106.7L272.9,105.2L273.3,103.9L273.6,102.8L274.0,101.8L274.4,101.1L274.7,100.5L275.1,100.0L275.4,99.6L275.8,99.3L276.1,99.1L276.5,99.0L276.8,99.0L277.2,99.1L277.6,99.2L277.9,99.3L278.3,99.5L278.6,99.8L279.0,100.0L279.3,100.4L279.7,100.7L280.0,101.1L280.4,101.5L280.7,101.9L281.1,102.4L281.5,102.8L281.8,103.3L282.2,103.8L282.5,104.3L282.9,104.8L283.2,105.3L283.6,105.9L283.9,106.4L284.3,106.9L284.6,107.5L285.0,108.1L285.4,108.6L285.7,109.2L286.1,109.8L286.4,110.3L286.8,110.9L287.1,111.5L287.5,112.1L287.8,112.7L288.2,113.3L288.6,113.9L288.9,114.5L289.3,115.0L289.6,115.6L290.0,116.2L290.3,116.8L290.7,117.4L291.0,118.0L291.4,118.6L291.8,119.3L292.1,119.9L292.5,120.5L292.8,121.1L293.2,121.7L293.5,122.3L293.9,122.9L294.2,123.5L294.6,124.1L294.9,124.7L295.3,125.3L295.7,125.9L296.0,126.5L296.4,127.1L296.7,127.7L297.1,128.3L297.4,128.9L297.8,129.6L298.1,130.2L298.5,130.8L298.9,131.4L299.2,132.0L299.6,132.6L299.9,133.2L300.3,133.8L300.6,134.4L301.0,135.0L301.3,135.6L301.7,136.2L302.0,136.9L302.4,137.5L302.8,138.1L303.1,138.7L303.5,139.3L303.8,139.9L304.2,140.5L304.5,141.1L304.9,141.7L305.2,142.3L305.6,142.9L305.9,143.5L306.3,144.2L306.7,144.8L307.0,145.4L307.4,146.0L307.7,146.6L308.1,147.2L308.4,147.8L308.8,148.4L309.1,149.0L309.5,149.6L309.9,150.2L310.2,150.8L310.6,151.5L310.9,152.1L311.3,152.7L311.6,153.3L312.0,153.9L312.3,154.5L312.7,155.1L313.1,155.7L313.4,148.2L313.8,141.5L314.1,135.6L314.5,130.4L314.8,125.8L315.2,121.7L315.5,118.1L315.9,115.0L316.2,112.2L316.6,109.9L317.0,107.8L317.3,106.0L317.7,104.4L318.0,103.1L318.4,102.0L318.7,101.1L319.1,100.3L319.4,99.6L319.8,99.1L320.1,98.8L320.5,98.5L320.9,98.3L321.2,98.2L321.6,98.1L321.9,98.2L322.3,98.3L322.6,98.4L323.0,98.6L323.3,98.8L323.7,99.1L324.1,99.4L324.4,99.7L324.8,100.1L325.1,100.5L325.5,100.9L325.8,101.3L326.2,101.8L326.5,102.2L326.9,102.7L327.2,103.2L327.6,103.7L328.0,104.2L328.3,104.7L328.7,105.3L329.0,105.8L329.4,106.3L329.7,106.9L330.1,107.4L330.4,108.0L330.8,108.5L331.2,109.1L331.5,109.7L331.9,110.3L332.2,110.8L332.6,111.4L332.9,112.0L333.3,112.6L333.6,113.1L334.0,113.7L334.4,114.3L334.7,114.9L335.1,115.5L335.4,116.1L335.8,116.7L336.1,117.2L336.5,117.8L336.8,118.4L337.2,119.0L337.5,119.6L337.9,120.2L338.3,120.8L338.6,121.4L339.0,122.0L339.3,122.6L339.7,123.2L340.0,123.8L340.4,124.3L340.7,124.9L341.1,125.5L341.5,126.1L341.8,126.7L342.2,127.3L342.5,127.9L342.9,128.5L343.2,129.1L343.6,129.7L343.9,130.3L344.3,130.9L344.6,131.5L345.0,132.1L345.4,132.7L345.7,133.3L346.1,133.9L346.4,134.5L346.8,135.1L347.1,135.7L347.5,136.2L347.8,136.8L348.2,137.4L348.5,138.0L348.9,138.6L349.3,139.2L349.6,139.8L350.0,140.4L350.3,141.0L350.7,141.6L351.0,142.2L351.4,142.8L351.7,143.4L352.1,144.0L352.5,144.6L352.8,145.2L353.2,145.8L353.5,146.4L353.9,147.0L354.2,147.6L354.6,148.2L354.9,148.8L355.3,149.4L355.6,149.9L356.0,150.5L356.4,151.1L356.7,151.7L357.1,152.3L357.4,152.9L357.8,153.5L358.1,146.1L358.5,139.5L358.8,133.7L359.2,128.5L359.6,124.0L359.9,119.9L360.3,116.4L360.6,113.3L361.0,110.6L361.3,108.3L361.7,106.2L362.0,104.4L362.4,102.9L362.8,101.6L363.1,100.5L363.5,99.6L363.8,98.9L364.2,98.2L364.5,97.8L364.9,97.4L365.2,97.1L365.6,96.9L365.9,96.8L366.3,96.8L366.7,96.9L367.0,97.0L367.4,97.1L367.7,97.3L368.1,97.5L368.4,97.8L368.8,98.1L369.1,98.5L369.5,98.8L369.9,99.2L370.2,99.7L370.6,100.1L370.9,100.5L371.3,101.0L371.6,101.5L372.0,102.0L372.3,102.5L372.7,103.0L373.0,103.5L373.4,104.1L373.8,104.6L374.1,105.1L374.5,105.7L374.8,106.3L375.2,106.8L375.5,107.4L375.9,108.0L376.2,108.5L376.6,109.1L377.0,109.7L377.3,110.3L377.7,110.8L378.0,111.4L378.4,112.0L378.7,112.6L379.1,113.2L379.4,113.8L379.8,114.4L380.1,114.9L380.5,115.5L380.9,116.1L381.2,116.7L381.6,117.3L381.9,117.9L382.3,118.5L382.6,119.1L383.0,119.7L383.3,120.3L383.7,120.9L384.0,121.5L384.4,122.1L384.8,122.7L385.1,123.3L385.5,123.9L385.8,124.5L386.2,125.1L386.5,125.7L386.9,126.3L387.2,126.9L387.6,127.5L388.0,128.1L388.3,128.7L388.7,129.3L389.0,129.9L389.4,130.5L389.7,131.1L390.1,131.7L390.4,132.3L390.8,132.9L391.1,133.5L391.5,134.1L391.9,134.7L392.2,135.3L392.6,135.9L392.9,136.5L393.3,137.1L393.6,137.7L394.0,138.3L394.3,138.9L394.7,139.5L395.1,140.1L395.4,140.7L395.8,141.3L396.1,141.9L396.5,142.5L396.8,143.1L397.2,143.6L397.5,144.2L397.9,144.8L398.2,145.4L398.6,146.0L399.0,146.6L399.3,147.2L399.7,147.8L400.0,148.4L400.4,149.0L400.7,149.6L401.1,150.2L401.4,150.8L401.8,151.4L402.2,152.0L402.5,152.6L402.9,145.2L403.2,138.6L403.6,132.8L403.9,127.6L404.3,123.1L404.6,119.0L405.0,115.5L405.4,112.4L405.7,109.7L406.1,107.4L406.4,105.3L406.8,103.6L407.1,102.0L407.5,100.7L407.8,99.6L408.2,98.7L408.5,98.0L408.9,97.4L409.3,96.9L409.6,96.5L410.0,96.2L410.3,96.1L410.7,96.0L411.0,95.9L411.4,96.0L411.7,96.1L412.1,96.2L412.5,96.4L412.8,96.7L413.2,97.0L413.5,97.3L413.9,97.6L414.2,98.0L414.6,98.4L414.9,98.8L415.3,99.2L415.6,99.7L416.0,100.2L416.4,100.6L416.7,101.1L417.1,101.6L417.4,102.2L417.8,102.7L418.1,103.2L418.5,103.8L418.8,104.3L419.2,104.9L419.6,105.4L419.9,106.0L420.3,106.6L420.6,107.1L421.0,107.7L421.3,108.3L421.7,108.9L422.0,109.4L422.4,110.0L422.7,110.6L423.1,111.2L423.5,111.8L423.8,112.4L424.2,113.0L424.5,113.6L424.9,114.2L425.2,114.7L425.6,115.3L425.9,115.9L426.3,116.5L426.6,117.1L427.0,117.7L427.4,118.3L427.7,118.9L428.1,119.5L428.4,120.1L428.8,120.7L429.1,121.3L429.5,121.9L429.8,122.5L430.2,123.1L430.6,123.7L430.9,124.3L431.3,124.9L431.6,125.5L432.0,126.1L432.3,126.7L432.7,127.3L433.0,127.9L433.4,128.5L433.8,129.1L434.1,129.7L434.5,130.3L434.8,130.9L435.2,131.5L435.5,132.1L435.9,132.7L436.2,133.3L436.6,133.9L436.9,134.5L437.3,135.1L437.7,135.7L438.0,136.3L438.4,136.9L438.7,137.5L439.1,138.1L439.4,138.7L439.8,139.3L440.1,139.9L440.5,140.6L440.9,141.2L441.2,141.8L441.6,142.4L441.9,143.0L442.3,143.6L442.6,144.2L443.0,144.8L443.3,145.4L443.7,146.0L444.0,146.6L444.4,147.2L444.8,147.8L445.1,148.4L445.5,149.0L445.8,149.6L446.2,150.2L446.5,150.8L446.9,151.4L447.2,152.0L447.6,144.5L448.0,137.9L448.3,132.0L448.7,126.8L449.0,122.3L449.4,118.2L449.7,114.7L450.1,111.6L450.4,108.9L450.8,106.5L451.1,104.4L451.5,102.7L451.9,101.2L452.2,99.9L452.6,98.8L452.9,97.8L453.3,97.1L453.6,96.5L454.0,96.0L454.3,95.6L454.7,95.3L455.0,95.2L455.4,95.1L455.8,95.1L456.1,95.1L456.5,95.2L456.8,95.4L457.2,95.6L457.5,95.8L457.9,96.1L458.2,96.4L458.6,96.8L459.0,97.2L459.3,97.6L459.7,98.0L460.0,98.4L460.4,98.9L460.7,99.4L461.1,99.8L461.4,100.3L461.8,100.9L462.1,101.4L462.5,101.9L462.9,102.5L463.2,103.0L463.6,103.6L463.9,104.1L464.3,104.7L464.6,105.3L465.0,105.8L465.3,106.4L465.7,107.0L466.1,107.6L466.4,108.2L466.8,108.7L467.1,109.3L467.5,109.9L467.8,110.5L468.2,111.1L468.5,111.7L468.9,112.3L469.2,112.9L469.6,113.5L470.0,114.1L470.3,114.7L470.7,115.3L471.0,115.9L471.4,116.5L471.7,117.1L472.1,117.7L472.4,118.3L472.8,118.9L473.2,119.5L473.5,120.1L473.9,120.8L474.2,121.4L474.6,122.0L474.9,122.6L475.3,123.2L475.6,123.8L476.0,124.4L476.4,125.0L476.7,125.6L477.1,126.2L477.4,126.8L477.8,127.4L478.1,128.0L478.5,128.6L478.8,129.3L479.2,129.9L479.5,130.5L479.9,131.1L480.3,131.7L480.6,132.3L481.0,132.9L481.3,133.5L481.7,134.1L482.0,134.7L482.4,135.3L482.7,135.9L483.1,136.6L483.5,137.2L483.8,137.8L484.2,138.4L484.5,139.0L484.9,139.6L485.2,140.2L485.6,140.8L485.9,141.4L486.3,142.0L486.6,142.6L487.0,143.2L487.4,143.9L487.7,144.5L488.1,145.1L488.4,145.7L488.8,146.3L489.1,146.9L489.5,147.5L489.8,148.1L490.2,148.7L490.5,149.3L490.9,149.9L491.3,150.5L491.6,151.2L492.0,151.8L492.3,144.3L492.7,137.6L493.0,131.7L493.4,126.5L493.7,121.9L494.1,117.9L494.5,114.3L494.8,111.2L495.2,108.5L495.5,106.1L495.9,104.1L496.2,102.3L496.6,100.8L496.9,99.4L497.3,98.3L497.6,97.4L498.0,96.7L498.4,96.0L498.7,95.6L499.1,95.2L499.4,94.9L499.8,94.7L500.1,94.6L500.5,94.6L500.8,94.7L501.2,94.8L501.6,94.9L501.9,95.1L502.3,95.4L502.6,95.7L503.0,96.0L503.3,96.3L503.7,96.7L504.0,97.1L504.4,97.5L504.8,98.0L505.1,98.4L505.5,98.9L505.8,99.4L506.2,99.9L506.5,100.4L506.9,100.9L507.2,101.5L507.6,102.0L507.9,102.6L508.3,103.1L508.7,103.7L509.0,104.2L509.4,104.8L509.7,105.4L510.1,106.0L510.4,106.5L510.8,107.1L511.1,107.7L511.5,108.3L511.9,108.9L512.2,109.5L512.6,110.1L512.9,110.7L513.3,111.3L513.6,111.9L514.0,112.5L514.3,113.1L514.7,113.7L515.0,114.3L515.4,114.9L515.8,115.5L516.1,116.1L516.5,116.7L516.8,117.3L517.2,117.9L517.5,118.5L517.9,119.1L518.2,119.7L518.6,120.3L519.0,120.9L519.3,121.5L519.7,122.1L520.0,122.7L520.4,123.3L520.7,123.9L521.1,124.6L521.4,125.2L521.8,125.8L522.1,126.4L522.5,127.0L522.9,127.6L523.2,128.2L523.6,128.8L523.9,129.4L524.3,130.0L524.6,130.6L525.0,131.2L525.3,131.9L525.7,132.5L526.0,133.1L526.4,133.7L526.8,134.3L527.1,134.9L527.5,135.5L527.8,136.1L528.2,136.7L528.5,137.3L528.9,137.9L529.2,138.5L529.6,139.2L530.0,139.8L530.3,140.4L530.7,141.0L531.0,141.6L531.4,142.2L531.7,142.8L532.1,143.4L532.4,144.0L532.8,144.6L533.2,145.2L533.5,145.8L533.9,146.5L534.2,147.1L534.6,147.7L534.9,148.3L535.3,148.9L535.6,149.5L536.0,150.1L536.3,150.7L536.7,151.3" fill="none" stroke="#9d9d9d" stroke-width="1.5" stroke-linejoin="round"/>
<path d="M89.4,117.9L89.8,107.4L90.1,98.1L90.5,89.7L90.8,82.3L91.2,75.7L91.5,69.9L91.9,64.7L92.2,60.1L92.6,56.0L93.0,52.4L93.3,49.2L93.7,46.3L94.0,43.9L94.4,41.7L94.7,39.8L95.1,38.1L95.4,36.6L95.8,35.4L96.1,34.3L96.5,33.3L96.9,32.5L97.2,31.9L97.6,31.3L97.9,30.8L98.3,30.5L98.6,30.2L99.0,29.9L99.3,29.8L99.7,29.7L100.1,29.6L100.4,29.6L100.8,29.7L101.1,29.7L101.5,29.9L101.8,30.0L102.2,30.2L102.5,30.3L102.9,30.5L103.2,30.8L103.6,31.0L104.0,31.3L104.3,31.5L104.7,31.8L105.0,32.1L105.4,32.4L105.7,32.8L106.1,33.1L106.4,33.4L106.8,33.7L107.2,34.1L107.5,34.4L107.9,34.8L108.2,35.1L108.6,35.5L108.9,35.9L109.3,36.2L109.6,36.6L110.0,37.0L110.3,37.4L110.7,37.7L111.1,38.1L111.4,38.5L111.8,38.9L112.1,39.3L112.5,39.6L112.8,40.0L113.2,40.4L113.5,40.8L113.9,41.2L114.2,41.6L114.6,42.0L115.0,42.4L115.3,42.8L115.7,43.2L116.0,43.6L116.4,44.0L116.7,44.4L117.1,44.8L117.4,45.1L117.8,45.5L118.2,45.9L118.5,46.3L118.9,46.7L119.2,47.1L119.6,47.5L119.9,47.9L120.3,48.3L120.6,48.7L121.0,49.1L121.4,49.6L121.7,50.0L122.1,50.4L122.4,50.8L122.8,51.2L123.1,51.6L123.5,52.0L123.8,52.4L124.2,52.8L124.5,53.2L124.9,53.6L125.3,54.0L125.6,54.4L126.0,54.8L126.3,55.2L126.7,55.6L127.0,56.0L127.4,56.5L127.7,56.9L128.1,57.3L128.4,57.7L128.8,58.1L129.2,58.5L129.5,58.9L129.9,59.3L130.2,59.7L130.6,60.1L130.9,60.6L131.3,61.0L131.6,61.4L132.0,61.8L132.4,62.2L132.7,62.6L133.1,63.0L133.4,63.4L133.8,63.9L134.1,64.3L134.5,64.7L134.8,65.1L135.2,65.5L135.6,65.9L135.9,66.4L136.3,66.8L136.6,67.2L137.0,67.6L137.3,68.0L137.7,68.4L138.0,68.9L138.4,69.3L138.7,69.7L139.1,70.1L139.5,70.5L139.8,71.0L140.2,71.4L140.5,71.8L140.9,72.2L141.2,72.6L141.6,73.1L141.9,73.5L142.3,73.9L142.7,74.3L143.0,74.8L143.4,75.2L143.7,75.6L144.1,76.0L144.4,76.5L144.8,76.9L145.1,77.3L145.5,77.7L145.8,78.2L146.2,78.6L146.6,79.0L146.9,79.4L147.3,79.9L147.6,80.3L148.0,80.7L148.3,81.1L148.7,81.6L149.0,82.0L149.4,82.4L149.8,82.9L150.1,83.3L150.5,83.7L150.8,84.2L151.2,84.6L151.5,85.0L151.9,85.4L152.2,85.9L152.6,86.3L152.9,86.7L153.3,87.2L153.7,87.6L154.0,88.0L154.4,88.5L154.7,88.9L155.1,89.3L155.4,89.8L155.8,90.2L156.1,90.7L156.5,91.1L156.9,91.5L157.2,92.0L157.6,92.4L157.9,92.8L158.3,93.3L158.6,93.7L159.0,94.2L159.3,94.6L159.7,95.0L160.0,95.5L160.4,95.9L160.8,96.3L161.1,96.8L161.5,97.2L161.8,97.7L162.2,98.1L162.5,98.6L162.9,99.0L163.2,99.4L163.6,99.9L163.9,100.3L164.3,100.8L164.7,101.2L165.0,101.7L165.4,102.1L165.7,102.5L166.1,103.0L166.4,103.4L166.8,103.9L167.1,104.3L167.5,104.8L167.9,105.2L168.2,105.7L168.6,106.1L168.9,106.6L169.3,107.0L169.6,107.5L170.0,107.9L170.3,108.3L170.7,108.8L171.1,109.2L171.4,109.7L171.8,110.1L172.1,110.6L172.5,111.1L172.8,111.5L173.2,112.0L173.5,112.4L173.9,112.9L174.2,113.3L174.6,113.8L175.0,114.2L175.3,114.7L175.7,115.1L176.0,115.6L176.4,116.0L176.7,116.5L177.1,116.9L177.4,117.4L177.8,117.9L178.2,118.3L178.5,118.8L178.9,119.2L179.2,115.3L179.6,111.8L179.9,108.7L180.3,106.0L180.6,103.6L181.0,101.5L181.3,99.7L181.7,98.1L182.1,96.8L182.4,95.6L182.8,94.7L183.1,93.8L183.5,93.1L183.8,92.6L184.2,92.1L184.5,91.7L184.9,91.5L185.2,91.3L185.6,91.2L186.0,91.1L186.3,91.1L186.7,91.2L187.0,91.3L187.4,91.4L187.7,91.6L188.1,91.8L188.4,92.0L188.8,92.3L189.2,92.5L189.5,92.9L189.9,93.2L190.2,93.5L190.6,93.9L190.9,94.2L191.3,94.6L191.6,95.0L192.0,95.4L192.4,95.8L192.7,96.2L193.1,96.7L193.4,97.1L193.8,97.5L194.1,98.0L194.5,98.4L194.8,98.9L195.2,99.3L195.5,99.8L195.9,100.2L196.3,100.7L196.6,101.2L197.0,101.6L197.3,102.1L197.7,102.6L198.0,103.0L198.4,103.5L198.7,104.0L199.1,104.5L199.5,104.9L199.8,105.4L200.2,105.9L200.5,106.4L200.9,106.8L201.2,107.3L201.6,107.8L201.9,108.3L202.3,108.8L202.6,109.2L203.0,109.7L203.4,110.2L203.7,110.7L204.1,111.2L204.4,111.6L204.8,112.1L205.1,112.6L205.5,113.1L205.8,113.6L206.2,114.0L206.6,114.5L206.9,115.0L207.3,115.5L207.6,116.0L208.0,116.5L208.3,116.9L208.7,117.4L209.0,117.9L209.4,118.4L209.7,118.9L210.1,119.3L210.5,119.8L210.8,120.3L211.2,120.8L211.5,121.3L211.9,121.8L212.2,122.2L212.6,122.7L212.9,123.2L213.3,123.7L213.7,124.2L214.0,124.7L214.4,125.1L214.7,125.6L215.1,126.1L215.4,126.6L215.8,127.1L216.1,127.6L216.5,128.0L216.8,128.5L217.2,129.0L217.6,129.5L217.9,130.0L218.3,130.5L218.6,130.9L219.0,131.4L219.3,131.9L219.7,132.4L220.0,132.9L220.4,133.3L220.8,133.8L221.1,134.3L221.5,134.8L221.8,135.3L222.2,135.8L222.5,136.2L222.9,136.7L223.2,137.2L223.6,137.7L223.9,131.5L224.3,126.0L224.7,121.1L225.0,116.8L225.4,113.0L225.7,109.7L226.1,106.8L226.4,104.3L226.8,102.1L227.1,100.1L227.5,98.5L227.9,97.1L228.2,95.9L228.6,94.9L228.9,94.0L229.3,93.3L229.6,92.8L230.0,92.3L230.3,92.0L230.7,91.8L231.0,91.6L231.4,91.5L231.8,91.5L232.1,91.6L232.5,91.7L232.8,91.9L233.2,92.1L233.5,92.4L233.9,92.7L234.2,93.0L234.6,93.3L235.0,93.7L235.3,94.1L235.7,94.5L236.0,95.0L236.4,95.4L236.7,95.9L237.1,96.4L237.4,96.8L237.8,97.4L238.1,97.9L238.5,98.4L238.9,98.9L239.2,99.5L239.6,100.0L239.9,100.5L240.3,101.1L240.6,101.6L241.0,102.2L241.3,102.8L241.7,103.3L242.1,103.9L242.4,104.5L242.8,105.1L243.1,105.6L243.5,106.2L243.8,106.8L244.2,107.4L244.5,107.9L244.9,108.5L245.2,109.1L245.6,109.7L246.0,110.3L246.3,110.9L246.7,111.5L247.0,112.1L247.4,112.6L247.7,113.2L248.1,113.8L248.4,114.4L248.8,115.0L249.2,115.6L249.5,116.2L249.9,116.8L250.2,117.4L250.6,118.0L250.9,118.5L251.3,119.1L251.6,119.7L252.0,120.3L252.3,120.9L252.7,121.5L253.1,122.1L253.4,122.7L253.8,123.3L254.1,123.9L254.5,124.5L254.8,125.1L255.2,125.6L255.5,126.2L255.9,126.8L256.2,127.4L256.6,128.0L257.0,128.6L257.3,129.2L257.7,129.8L258.0,130.4L258.4,131.0L258.7,131.6L259.1,132.2L259.4,132.8L259.8,133.4L260.2,133.9L260.5,134.5L260.9,135.1L261.2,135.7L261.6,136.3L261.9,136.9L262.3,137.5L262.6,138.1L263.0,138.7L263.4,139.3L263.7,139.9L264.1,140.5L264.4,141.1L264.8,141.7L265.1,142.2L265.5,142.8L265.8,143.4L266.2,144.0L266.5,144.6L266.9,145.2L267.3,145.8L267.6,146.4L268.0,147.0L268.3,147.6L268.7,140.1L269.0,133.4L269.4,127.5L269.7,122.3L270.1,117.7L270.4,113.6L270.8,110.0L271.2,106.9L271.5,104.2L271.9,101.8L272.2,99.7L272.6,97.9L272.9,96.4L273.3,95.1L273.6,94.0L274.0,93.0L274.4,92.3L274.7,91.7L275.1,91.2L275.4,90.8L275.8,90.5L276.1,90.3L276.5,90.2L276.8,90.2L277.2,90.3L277.6,90.4L277.9,90.5L278.3,90.7L278.6,91.0L279.0,91.3L279.3,91.6L279.7,91.9L280.0,92.3L280.4,92.7L280.7,93.1L281.1,93.6L281.5,94.0L281.8,94.5L282.2,95.0L282.5,95.5L282.9,96.0L283.2,96.5L283.6,97.1L283.9,97.6L284.3,98.1L284.6,98.7L285.0,99.3L285.4,99.8L285.7,100.4L286.1,101.0L286.4,101.5L286.8,102.1L287.1,102.7L287.5,103.3L287.8,103.9L288.2,104.5L288.6,105.1L288.9,105.7L289.3,106.3L289.6,106.9L290.0,107.5L290.3,108.1L290.7,108.7L291.0,109.3L291.4,109.9L291.8,110.5L292.1,111.1L292.5,111.7L292.8,112.3L293.2,112.9L293.5,113.5L293.9,114.1L294.2,114.7L294.6,115.3L294.9,115.9L295.3,116.5L295.7,117.1L296.0,117.7L296.4,118.3L296.7,118.9L297.1,119.5L297.4,120.2L297.8,120.8L298.1,121.4L298.5,122.0L298.9,122.6L299.2,123.2L299.6,123.8L299.9,124.4L300.3,125.0L300.6,125.6L301.0,126.2L301.3,126.8L301.7,127.5L302.0,128.1L302.4,128.7L302.8,129.3L303.1,129.9L303.5,130.5L303.8,131.1L304.2,131.7L304.5,132.3L304.9,132.9L305.2,133.5L305.6,134.1L305.9,134.8L306.3,135.4L306.7,136.0L307.0,136.6L307.4,137.2L307.7,137.8L308.1,138.4L308.4,139.0L308.8,139.6L309.1,140.2L309.5,140.8L309.9,141.4L310.2,142.1L310.6,142.7L310.9,143.3L311.3,143.9L311.6,144.5L312.0,145.1L312.3,145.7L312.7,146.3L313.1,146.9L313.4,139.4L313.8,132.7L314.1,126.8L314.5,121.6L314.8,117.0L315.2,112.9L315.5,109.3L315.9,106.2L316.2,103.5L316.6,101.1L317.0,99.0L317.3,97.2L317.7,95.6L318.0,94.3L318.4,93.2L318.7,92.3L319.1,91.5L319.4,90.9L319.8,90.3L320.1,90.0L320.5,89.7L320.9,89.5L321.2,89.4L321.6,89.3L321.9,89.4L322.3,89.5L322.6,89.6L323.0,89.8L323.3,90.0L323.7,90.3L324.1,90.6L324.4,90.9L324.8,91.3L325.1,91.7L325.5,92.1L325.8,92.5L326.2,93.0L326.5,93.4L326.9,93.9L327.2,94.4L327.6,94.9L328.0,95.4L328.3,95.9L328.7,96.5L329.0,97.0L329.4,97.5L329.7,98.1L330.1,98.6L330.4,99.2L330.8,99.8L331.2,100.3L331.5,100.9L331.9,101.5L332.2,102.0L332.6,102.6L332.9,103.2L333.3,103.8L333.6,104.3L334.0,104.9L334.4,105.5L334.7,106.1L335.1,106.7L335.4,107.3L335.8,107.9L336.1,108.4L336.5,109.0L336.8,109.6L337.2,110.2L337.5,110.8L337.9,111.4L338.3,112.0L338.6,112.6L339.0,113.2L339.3,113.8L339.7,114.4L340.0,115.0L340.4,115.6L340.7,116.1L341.1,116.7L341.5,117.3L341.8,117.9L342.2,118.5L342.5,119.1L342.9,119.7L343.2,120.3L343.6,120.9L343.9,121.5L344.3,122.1L344.6,122.7L345.0,123.3L345.4,123.9L345.7,124.5L346.1,125.1L346.4,125.7L346.8,126.3L347.1,126.9L347.5,127.5L347.8,128.1L348.2,128.6L348.5,129.2L348.9,129.8L349.3,130.4L349.6,131.0L350.0,131.6L350.3,132.2L350.7,132.8L351.0,133.4L351.4,134.0L351.7,134.6L352.1,135.2L352.5,135.8L352.8,136.4L353.2,137.0L353.5,137.6L353.9,138.2L354.2,138.8L354.6,139.4L354.9,140.0L355.3,140.6L355.6,141.2L356.0,141.7L356.4,142.3L356.7,142.9L357.1,143.5L357.4,144.1L357.8,144.7L358.1,137.3L358.5,130.7L358.8,124.9L359.2,119.7L359.6,115.2L359.9,111.1L360.3,107.6L360.6,104.5L361.0,101.8L361.3,99.5L361.7,97.4L362.0,95.7L362.4,94.1L362.8,92.8L363.1,91.7L363.5,90.8L363.8,90.1L364.2,89.5L364.5,89.0L364.9,88.6L365.2,88.3L365.6,88.1L365.9,88.0L366.3,88.0L366.7,88.1L367.0,88.2L367.4,88.3L367.7,88.5L368.1,88.8L368.4,89.0L368.8,89.3L369.1,89.7L369.5,90.1L369.9,90.5L370.2,90.9L370.6,91.3L370.9,91.8L371.3,92.2L371.6,92.7L372.0,93.2L372.3,93.7L372.7,94.2L373.0,94.7L373.4,95.3L373.8,95.8L374.1,96.4L374.5,96.9L374.8,97.5L375.2,98.0L375.5,98.6L375.9,99.2L376.2,99.7L376.6,100.3L377.0,100.9L377.3,101.5L377.7,102.0L378.0,102.6L378.4,103.2L378.7,103.8L379.1,104.4L379.4,105.0L379.8,105.6L380.1,106.2L380.5,106.7L380.9,107.3L381.2,107.9L381.6,108.5L381.9,109.1L382.3,109.7L382.6,110.3L383.0,110.9L383.3,111.5L383.7,112.1L384.0,112.7L384.4,113.3L384.8,113.9L385.1,114.5L385.5,115.1L385.8,115.7L386.2,116.3L386.5,116.9L386.9,117.5L387.2,118.1L387.6,118.7L388.0,119.3L388.3,119.9L388.7,120.5L389.0,121.1L389.4,121.7L389.7,122.3L390.1,122.9L390.4,123.5L390.8,124.1L391.1,124.7L391.5,125.3L391.9,125.9L392.2,126.5L392.6,127.1L392.9,127.7L393.3,128.3L393.6,128.9L394.0,129.5L394.3,130.1L394.7,130.7L395.1,131.3L395.4,131.9L395.8,132.5L396.1,133.1L396.5,133.7L396.8,134.3L397.2,134.9L397.5,135.5L397.9,136.1L398.2,136.7L398.6,137.3L399.0,137.9L399.3,138.5L399.7,139.1L400.0,139.7L400.4,140.3L400.7,140.9L401.1,141.5L401.4,142.1L401.8,142.6L402.2,143.2L402.5,143.8L402.9,136.4L403.2,129.8L403.6,124.0L403.9,118.8L404.3,114.3L404.6,110.3L405.0,106.7L405.4,103.6L405.7,100.9L406.1,98.6L406.4,96.5L406.8,94.8L407.1,93.2L407.5,91.9L407.8,90.9L408.2,89.9L408.5,89.2L408.9,88.6L409.3,88.1L409.6,87.7L410.0,87.4L410.3,87.3L410.7,87.2L411.0,87.1L411.4,87.2L411.7,87.3L412.1,87.4L412.5,87.6L412.8,87.9L413.2,88.2L413.5,88.5L413.9,88.8L414.2,89.2L414.6,89.6L414.9,90.0L415.3,90.4L415.6,90.9L416.0,91.4L416.4,91.9L416.7,92.3L417.1,92.9L417.4,93.4L417.8,93.9L418.1,94.4L418.5,95.0L418.8,95.5L419.2,96.1L419.6,96.6L419.9,97.2L420.3,97.8L420.6,98.3L421.0,98.9L421.3,99.5L421.7,100.1L422.0,100.6L422.4,101.2L422.7,101.8L423.1,102.4L423.5,103.0L423.8,103.6L424.2,104.2L424.5,104.8L424.9,105.4L425.2,106.0L425.6,106.5L425.9,107.1L426.3,107.7L426.6,108.3L427.0,108.9L427.4,109.5L427.7,110.1L428.1,110.7L428.4,111.3L428.8,111.9L429.1,112.5L429.5,113.1L429.8,113.7L430.2,114.3L430.6,114.9L430.9,115.5L431.3,116.1L431.6,116.7L432.0,117.3L432.3,117.9L432.7,118.5L433.0,119.1L433.4,119.7L433.8,120.3L434.1,120.9L434.5,121.5L434.8,122.1L435.2,122.7L435.5,123.3L435.9,123.9L436.2,124.5L436.6,125.1L436.9,125.7L437.3,126.3L437.7,126.9L438.0,127.5L438.4,128.2L438.7,128.8L439.1,129.4L439.4,130.0L439.8,130.6L440.1,131.2L440.5,131.8L440.9,132.4L441.2,133.0L441.6,133.6L441.9,134.2L442.3,134.8L442.6,135.4L443.0,136.0L443.3,136.6L443.7,137.2L444.0,137.8L444.4,138.4L444.8,139.0L445.1,139.6L445.5,140.2L445.8,140.8L446.2,141.4L446.5,142.0L446.9,142.6L447.2,143.2L447.6,135.7L448.0,129.1L448.3,123.2L448.7,118.0L449.0,113.5L449.4,109.4L449.7,105.9L450.1,102.8L450.4,100.1L450.8,97.7L451.1,95.7L451.5,93.9L451.9,92.4L452.2,91.1L452.6,90.0L452.9,89.0L453.3,88.3L453.6,87.7L454.0,87.2L454.3,86.8L454.7,86.5L455.0,86.4L455.4,86.3L455.8,86.3L456.1,86.3L456.5,86.4L456.8,86.6L457.2,86.8L457.5,87.0L457.9,87.3L458.2,87.6L458.6,88.0L459.0,88.4L459.3,88.8L459.7,89.2L460.0,89.6L460.4,90.1L460.7,90.6L461.1,91.1L461.4,91.6L461.8,92.1L462.1,92.6L462.5,93.1L462.9,93.7L463.2,94.2L463.6,94.8L463.9,95.3L464.3,95.9L464.6,96.5L465.0,97.0L465.3,97.6L465.7,98.2L466.1,98.8L466.4,99.4L466.8,99.9L467.1,100.5L467.5,101.1L467.8,101.7L468.2,102.3L468.5,102.9L468.9,103.5L469.2,104.1L469.6,104.7L470.0,105.3L470.3,105.9L470.7,106.5L471.0,107.1L471.4,107.7L471.7,108.3L472.1,108.9L472.4,109.5L472.8,110.1L473.2,110.8L473.5,111.4L473.9,112.0L474.2,112.6L474.6,113.2L474.9,113.8L475.3,114.4L475.6,115.0L476.0,115.6L476.4,116.2L476.7,116.8L477.1,117.4L477.4,118.0L477.8,118.6L478.1,119.2L478.5,119.9L478.8,120.5L479.2,121.1L479.5,121.7L479.9,122.3L480.3,122.9L480.6,123.5L481.0,124.1L481.3,124.7L481.7,125.3L482.0,125.9L482.4,126.5L482.7,127.2L483.1,127.8L483.5,128.4L483.8,129.0L484.2,129.6L484.5,130.2L484.9,130.8L485.2,131.4L485.6,132.0L485.9,132.6L486.3,133.2L486.6,133.8L487.0,134.5L487.4,135.1L487.7,135.7L488.1,136.3L488.4,136.9L488.8,137.5L489.1,138.1L489.5,138.7L489.8,139.3L490.2,139.9L490.5,140.5L490.9,141.1L491.3,141.8L491.6,142.4L492.0,143.0L492.3,135.5L492.7,128.8L493.0,122.9L493.4,117.7L493.7,113.1L494.1,109.1L494.5,105.5L494.8,102.4L495.2,99.7L495.5,97.3L495.9,95.3L496.2,93.5L496.6,92.0L496.9,90.7L497.3,89.6L497.6,88.6L498.0,87.9L498.4,87.2L498.7,86.8L499.1,86.4L499.4,86.1L499.8,85.9L500.1,85.8L500.5,85.8L500.8,85.9L501.2,86.0L501.6,86.1L501.9,86.3L502.3,86.6L502.6,86.9L503.0,87.2L503.3,87.5L503.7,87.9L504.0,88.3L504.4,88.7L504.8,89.2L505.1,89.6L505.5,90.1L505.8,90.6L506.2,91.1L506.5,91.6L506.9,92.1L507.2,92.7L507.6,93.2L507.9,93.8L508.3,94.3L508.7,94.9L509.0,95.4L509.4,96.0L509.7,96.6L510.1,97.2L510.4,97.7L510.8,98.3L511.1,98.9L511.5,99.5L511.9,100.1L512.2,100.7L512.6,101.3L512.9,101.9L513.3,102.5L513.6,103.1L514.0,103.7L514.3,104.3L514.7,104.9L515.0,105.5L515.4,106.1L515.8,106.7L516.1,107.3L516.5,107.9L516.8,108.5L517.2,109.1L517.5,109.7L517.9,110.3L518.2,110.9L518.6,111.5L519.0,112.1L519.3,112.7L519.7,113.3L520.0,113.9L520.4,114.6L520.7,115.2L521.1,115.8L521.4,116.4L521.8,117.0L522.1,117.6L522.5,118.2L522.9,118.8L523.2,119.4L523.6,120.0L523.9,120.6L524.3,121.2L524.6,121.8L525.0,122.5L525.3,123.1L525.7,123.7L526.0,124.3L526.4,124.9L526.8,125.5L527.1,126.1L527.5,126.7L527.8,127.3L528.2,127.9L528.5,128.5L528.9,129.1L529.2,129.8L529.6,130.4L530.0,131.0L530.3,131.6L530.7,132.2L531.0,132.8L531.4,133.4L531.7,134.0L532.1,134.6L532.4,135.2L532.8,135.8L533.2,136.4L533.5,137.1L533.9,137.7L534.2,138.3L534.6,138.9L534.9,139.5L535.3,140.1L535.6,140.7L536.0,141.3L536.3,141.9L536.7,142.5" fill="none" stroke="#9630e6" stroke-width="1.5" stroke-linejoin="round"/>
<path d="M89.4,115.3L91.8,119.6L87.0,119.6Z" fill="none" stroke="#b53a3a" stroke-width="1.3" stroke-linejoin="round"/>
<path d="M111.8,80.2L114.2,84.5L109.4,84.5Z" fill="none" stroke="#b53a3a" stroke-width="1.3" stroke-linejoin="round"/>
<path d="M134.1,105.6L136.5,109.9L131.7,109.9Z" fill="none" stroke="#b53a3a" stroke-width="1.3" stroke-linejoin="round"/>
<path d="M156.5,132.5L158.9,136.8L154.1,136.8Z" fill="none" stroke="#b53a3a" stroke-width="1.3" stroke-linejoin="round"/>
<path d="M178.9,160.6L181.3,164.9L176.5,164.9Z" fill="none" stroke="#b53a3a" stroke-width="1.3" stroke-linejoin="round"/>
<path d="M201.2,148.7L203.6,153.0L198.8,153.0Z" fill="none" stroke="#b53a3a" stroke-width="1.3" stroke-linejoin="round"/>
<path d="M223.6,179.1L226.0,183.4L221.2,183.4Z" fill="none" stroke="#b53a3a" stroke-width="1.3" stroke-linejoin="round"/>
<path d="M246.0,151.6L248.4,155.9L243.6,155.9Z" fill="none" stroke="#b53a3a" stroke-width="1.3" stroke-linejoin="round"/>
<path d="M268.3,188.9L270.7,193.2L265.9,193.2Z" fill="none" stroke="#b53a3a" stroke-width="1.3" stroke-linejoin="round"/>
<path d="M290.7,150.0L293.1,154.3L288.3,154.3Z" fill="none" stroke="#b53a3a" stroke-width="1.3" stroke-linejoin="round"/>
<path d="M313.1,188.3L315.4,192.6L310.7,192.6Z" fill="none" stroke="#b53a3a" stroke-width="1.3" stroke-linejoin="round"/>
<path d="M335.4,148.6L337.8,152.9L333.0,152.9Z" fill="none" stroke="#b53a3a" stroke-width="1.3" stroke-linejoin="round"/>
<path d="M357.8,186.1L360.2,190.4L355.4,190.4Z" fill="none" stroke="#b53a3a" stroke-width="1.3" stroke-linejoin="round"/>
<path d="M380.1,147.5L382.5,151.8L377.7,151.8Z" fill="none" stroke="#b53a3a" stroke-width="1.3" stroke-linejoin="round"/>
<path d="M402.5,185.2L404.9,189.5L400.1,189.5Z" fill="none" stroke="#b53a3a" stroke-width="1.3" stroke-linejoin="round"/>
<path d="M424.9,146.7L427.3,151.0L422.5,151.0Z" fill="none" stroke="#b53a3a" stroke-width="1.3" stroke-linejoin="round"/>
<path d="M447.2,184.5L449.6,188.8L444.8,188.8Z" fill="none" stroke="#b53a3a" stroke-width="1.3" stroke-linejoin="round"/>
<path d="M469.6,146.1L472.0,150.4L467.2,150.4Z" fill="none" stroke="#b53a3a" stroke-width="1.3" stroke-linejoin="round"/>
<path d="M492.0,184.3L494.4,188.6L489.6,188.6Z" fill="none" stroke="#b53a3a" stroke-width="1.3" stroke-linejoin="round"/>
<path d="M514.3,145.6L516.7,149.9L511.9,149.9Z" fill="none" stroke="#b53a3a" stroke-width="1.3" stroke-linejoin="round"/>
<path d="M536.7,183.9L539.1,188.2L534.3,188.2Z" fill="none" stroke="#b53a3a" stroke-width="1.3" stroke-linejoin="round"/>
<rect x="87.1" y="115.6" width="4.6" height="4.6" rx="1.2" fill="#f2d836"/>
<rect x="109.5" y="71.7" width="4.6" height="4.6" rx="1.2" fill="#f2d836"/>
<rect x="131.8" y="97.1" width="4.6" height="4.6" rx="1.2" fill="#f2d836"/>
<rect x="154.2" y="124.0" width="4.6" height="4.6" rx="1.2" fill="#f2d836"/>
<rect x="176.6" y="152.1" width="4.6" height="4.6" rx="1.2" fill="#f2d836"/>
<rect x="198.9" y="140.2" width="4.6" height="4.6" rx="1.2" fill="#f2d836"/>
<rect x="221.3" y="170.6" width="4.6" height="4.6" rx="1.2" fill="#f2d836"/>
<rect x="243.7" y="143.2" width="4.6" height="4.6" rx="1.2" fill="#f2d836"/>
<rect x="266.0" y="180.5" width="4.6" height="4.6" rx="1.2" fill="#f2d836"/>
<rect x="288.4" y="141.5" width="4.6" height="4.6" rx="1.2" fill="#f2d836"/>
<rect x="310.8" y="179.8" width="4.6" height="4.6" rx="1.2" fill="#f2d836"/>
<rect x="333.1" y="140.1" width="4.6" height="4.6" rx="1.2" fill="#f2d836"/>
<rect x="355.5" y="177.6" width="4.6" height="4.6" rx="1.2" fill="#f2d836"/>
<rect x="377.8" y="139.0" width="4.6" height="4.6" rx="1.2" fill="#f2d836"/>
<rect x="400.2" y="176.7" width="4.6" height="4.6" rx="1.2" fill="#f2d836"/>
<rect x="422.6" y="138.2" width="4.6" height="4.6" rx="1.2" fill="#f2d836"/>
<rect x="444.9" y="176.1" width="4.6" height="4.6" rx="1.2" fill="#f2d836"/>
<rect x="467.3" y="137.6" width="4.6" height="4.6" rx="1.2" fill="#f2d836"/>
<rect x="489.7" y="175.8" width="4.6" height="4.6" rx="1.2" fill="#f2d836"/>
<rect x="512.0" y="137.1" width="4.6" height="4.6" rx="1.2" fill="#f2d836"/>
<rect x="534.4" y="175.4" width="4.6" height="4.6" rx="1.2" fill="#f2d836"/>
<circle cx="89.4" cy="117.9" r="2.1" fill="none" stroke="#3232e2" stroke-width="1.5"/>
<circle cx="111.8" cy="65.2" r="2.1" fill="none" stroke="#3232e2" stroke-width="1.5"/>
<circle cx="134.1" cy="90.7" r="2.1" fill="none" stroke="#3232e2" stroke-width="1.5"/>
<circle cx="156.5" cy="117.5" r="2.1" fill="none" stroke="#3232e2" stroke-width="1.5"/>
<circle cx="178.9" cy="145.6" r="2.1" fill="none" stroke="#3232e2" stroke-width="1.5"/>
<circle cx="201.2" cy="133.7" r="2.1" fill="none" stroke="#3232e2" stroke-width="1.5"/>
<circle cx="223.6" cy="164.1" r="2.1" fill="none" stroke="#3232e2" stroke-width="1.5"/>
<circle cx="246.0" cy="136.7" r="2.1" fill="none" stroke="#3232e2" stroke-width="1.5"/>
<circle cx="268.3" cy="174.0" r="2.1" fill="none" stroke="#3232e2" stroke-width="1.5"/>
<circle cx="290.7" cy="135.0" r="2.1" fill="none" stroke="#3232e2" stroke-width="1.5"/>
<circle cx="313.1" cy="173.3" r="2.1" fill="none" stroke="#3232e2" stroke-width="1.5"/>
<circle cx="335.4" cy="133.6" r="2.1" fill="none" stroke="#3232e2" stroke-width="1.5"/>
<circle cx="357.8" cy="171.1" r="2.1" fill="none" stroke="#3232e2" stroke-width="1.5"/>
<circle cx="380.1" cy="132.5" r="2.1" fill="none" stroke="#3232e2" stroke-width="1.5"/>
<circle cx="402.5" cy="170.2" r="2.1" fill="none" stroke="#3232e2" stroke-width="1.5"/>
<circle cx="424.9" cy="131.7" r="2.1" fill="none" stroke="#3232e2" stroke-width="1.5"/>
<circle cx="447.2" cy="169.6" r="2.1" fill="none" stroke="#3232e2" stroke-width="1.5"/>
<circle cx="469.6" cy="131.1" r="2.1" fill="none" stroke="#3232e2" stroke-width="1.5"/>
<circle cx="492.0" cy="169.3" r="2.1" fill="none" stroke="#3232e2" stroke-width="1.5"/>
<circle cx="514.3" cy="130.6" r="2.1" fill="none" stroke="#3232e2" stroke-width="1.5"/>
<circle cx="536.7" cy="168.9" r="2.1" fill="none" stroke="#3232e2" stroke-width="1.5"/>
<circle cx="89.4" cy="117.9" r="1.6" fill="#38c07a"/>
<circle cx="111.8" cy="56.4" r="1.6" fill="#38c07a"/>
<circle cx="134.1" cy="81.9" r="1.6" fill="#38c07a"/>
<circle cx="156.5" cy="108.7" r="1.6" fill="#38c07a"/>
<circle cx="178.9" cy="136.8" r="1.6" fill="#38c07a"/>
<circle cx="201.2" cy="124.9" r="1.6" fill="#38c07a"/>
<circle cx="223.6" cy="155.3" r="1.6" fill="#38c07a"/>
<circle cx="246.0" cy="127.9" r="1.6" fill="#38c07a"/>
<circle cx="268.3" cy="165.2" r="1.6" fill="#38c07a"/>
<circle cx="290.7" cy="126.2" r="1.6" fill="#38c07a"/>
<circle cx="313.1" cy="164.5" r="1.6" fill="#38c07a"/>
<circle cx="335.4" cy="124.9" r="1.6" fill="#38c07a"/>
<circle cx="357.8" cy="162.3" r="1.6" fill="#38c07a"/>
<circle cx="380.1" cy="123.7" r="1.6" fill="#38c07a"/>
<circle cx="402.5" cy="161.4" r="1.6" fill="#38c07a"/>
<circle cx="424.9" cy="122.9" r="1.6" fill="#38c07a"/>
<circle cx="447.2" cy="160.8" r="1.6" fill="#38c07a"/>
<circle cx="469.6" cy="122.3" r="1.6" fill="#38c07a"/>
<circle cx="492.0" cy="160.6" r="1.6" fill="#38c07a"/>
<circle cx="514.3" cy="121.8" r="1.6" fill="#38c07a"/>
<circle cx="536.7" cy="160.1" r="1.6" fill="#38c07a"/>
<circle cx="89.4" cy="117.9" r="2.1" fill="none" stroke="#9d9d9d" stroke-width="1.3"/>
<circle cx="111.8" cy="47.7" r="2.1" fill="none" stroke="#9d9d9d" stroke-width="1.3"/>
<circle cx="134.1" cy="73.1" r="2.1" fill="none" stroke="#9d9d9d" stroke-width="1.3"/>
<circle cx="156.5" cy="99.9" r="2.1" fill="none" stroke="#9d9d9d" stroke-width="1.3"/>
<circle cx="178.9" cy="128.0" r="2.1" fill="none" stroke="#9d9d9d" stroke-width="1.3"/>
<circle cx="201.2" cy="116.1" r="2.1" fill="none" stroke="#9d9d9d" stroke-width="1.3"/>
<circle cx="223.6" cy="146.5" r="2.1" fill="none" stroke="#9d9d9d" stroke-width="1.3"/>
<circle cx="246.0" cy="119.1" r="2.1" fill="none" stroke="#9d9d9d" stroke-width="1.3"/>
<circle cx="268.3" cy="156.4" r="2.1" fill="none" stroke="#9d9d9d" stroke-width="1.3"/>
<circle cx="290.7" cy="117.4" r="2.1" fill="none" stroke="#9d9d9d" stroke-width="1.3"/>
<circle cx="313.1" cy="155.7" r="2.1" fill="none" stroke="#9d9d9d" stroke-width="1.3"/>
<circle cx="335.4" cy="116.1" r="2.1" fill="none" stroke="#9d9d9d" stroke-width="1.3"/>
<circle cx="357.8" cy="153.5" r="2.1" fill="none" stroke="#9d9d9d" stroke-width="1.3"/>
<circle cx="380.1" cy="114.9" r="2.1" fill="none" stroke="#9d9d9d" stroke-width="1.3"/>
<circle cx="402.5" cy="152.6" r="2.1" fill="none" stroke="#9d9d9d" stroke-width="1.3"/>
<circle cx="424.9" cy="114.2" r="2.1" fill="none" stroke="#9d9d9d" stroke-width="1.3"/>
<circle cx="447.2" cy="152.0" r="2.1" fill="none" stroke="#9d9d9d" stroke-width="1.3"/>
<circle cx="469.6" cy="113.5" r="2.1" fill="none" stroke="#9d9d9d" stroke-width="1.3"/>
<circle cx="492.0" cy="151.8" r="2.1" fill="none" stroke="#9d9d9d" stroke-width="1.3"/>
<circle cx="514.3" cy="113.1" r="2.1" fill="none" stroke="#9d9d9d" stroke-width="1.3"/>
<circle cx="536.7" cy="151.3" r="2.1" fill="none" stroke="#9d9d9d" stroke-width="1.3"/>
<circle cx="89.4" cy="117.9" r="2.2" fill="#9630e6"/>
<circle cx="111.8" cy="38.9" r="2.2" fill="#9630e6"/>
<circle cx="134.1" cy="64.3" r="2.2" fill="#9630e6"/>
<circle cx="156.5" cy="91.1" r="2.2" fill="#9630e6"/>
<circle cx="178.9" cy="119.2" r="2.2" fill="#9630e6"/>
<circle cx="201.2" cy="107.3" r="2.2" fill="#9630e6"/>
<circle cx="223.6" cy="137.7" r="2.2" fill="#9630e6"/>
<circle cx="246.0" cy="110.3" r="2.2" fill="#9630e6"/>
<circle cx="268.3" cy="147.6" r="2.2" fill="#9630e6"/>
<circle cx="290.7" cy="108.7" r="2.2" fill="#9630e6"/>
<circle cx="313.1" cy="146.9" r="2.2" fill="#9630e6"/>
<circle cx="335.4" cy="107.3" r="2.2" fill="#9630e6"/>
<circle cx="357.8" cy="144.7" r="2.2" fill="#9630e6"/>
<circle cx="380.1" cy="106.2" r="2.2" fill="#9630e6"/>
<circle cx="402.5" cy="143.8" r="2.2" fill="#9630e6"/>
<circle cx="424.9" cy="105.4" r="2.2" fill="#9630e6"/>
<circle cx="447.2" cy="143.2" r="2.2" fill="#9630e6"/>
<circle cx="469.6" cy="104.7" r="2.2" fill="#9630e6"/>
<circle cx="492.0" cy="143.0" r="2.2" fill="#9630e6"/>
<circle cx="514.3" cy="104.3" r="2.2" fill="#9630e6"/>
<circle cx="536.7" cy="142.5" r="2.2" fill="#9630e6"/>
<text transform="translate(84.8,246.4) scale(1.000,1.100)" font-size="14.00" text-anchor="end">1790</text>
<text transform="translate(84.8,202.4) scale(1.000,1.100)" font-size="14.00" text-anchor="end">1800</text>
<text transform="translate(84.8,158.5) scale(1.000,1.100)" font-size="14.00" text-anchor="end">1810</text>
<text transform="translate(84.8,114.5) scale(1.000,1.100)" font-size="14.00" text-anchor="end">1820</text>
<text transform="translate(84.8,70.6) scale(1.000,1.100)" font-size="14.00" text-anchor="end">1830</text>
<text transform="translate(84.8,26.6) scale(1.000,1.100)" font-size="14.00" text-anchor="end">1840</text>
<text transform="translate(89.4,259.3) scale(1.000,1.100)" font-size="14.00" text-anchor="middle">0</text>
<text transform="translate(153.3,259.3) scale(1.000,1.100)" font-size="14.00" text-anchor="middle">0.3</text>
<text transform="translate(217.2,259.3) scale(1.000,1.100)" font-size="14.00" text-anchor="middle">0.6</text>
<text transform="translate(281.1,259.3) scale(1.000,1.100)" font-size="14.00" text-anchor="middle">0.9</text>
<text transform="translate(345.0,259.3) scale(1.000,1.100)" font-size="14.00" text-anchor="middle">1.2</text>
<text transform="translate(408.9,259.3) scale(1.000,1.100)" font-size="14.00" text-anchor="middle">1.5</text>
<text transform="translate(472.8,259.3) scale(1.000,1.100)" font-size="14.00" text-anchor="middle">1.8</text>
<text transform="translate(536.7,259.3) scale(1.000,1.100)" font-size="14.00" text-anchor="middle">2.1</text>
<path d="M591.5,273.4L598.3,280.2M591.5,280.2L598.3,273.4" stroke="#3a3a3a" stroke-width="1.05"/><text transform="translate(602.6,281.0) scale(1.000,1.100)" font-size="13.30">10</text><text transform="translate(615.8,273.2) scale(1.000,1.120)" font-size="9.60">4</text>
<text transform="translate(356.0,276.6) scale(1.000,1.040)" font-size="16.30" text-anchor="middle">Casting time(sec)</text>
<text transform="translate(50.6,131.1) rotate(-90) scale(1,1.04)" font-size="16.3" text-anchor="middle">Steel temperature(K)</text>
<text transform="translate(343.5,311.7) scale(1.000,1.020)" font-size="19.40" text-anchor="middle" style="stroke-width:0">(a)</text>
<path d="M559.6,35.6H579.1" stroke="#b53a3a" stroke-width="1.5"/>
<path d="M569.3,33.0L571.7,37.3L566.9,37.3Z" fill="none" stroke="#b53a3a" stroke-width="1.3" stroke-linejoin="round"/>
<text transform="translate(582.5,40.2) scale(1.000,1.080)" font-size="13.00">Exp.a</text>
<path d="M559.6,51.2H579.1" stroke="#f2d836" stroke-width="1.5"/>
<rect x="567.0" y="48.9" width="4.6" height="4.6" rx="1.2" fill="#f2d836"/>
<text transform="translate(582.5,55.8) scale(1.000,1.080)" font-size="13.00">Exp.b</text>
<path d="M559.6,66.7H579.1" stroke="#3232e2" stroke-width="1.5"/>
<circle cx="569.3" cy="66.7" r="2.1" fill="none" stroke="#3232e2" stroke-width="1.5"/>
<text transform="translate(582.5,71.3) scale(1.000,1.080)" font-size="13.00">Exp.c</text>
<path d="M559.6,82.2H579.1" stroke="#38c07a" stroke-width="1.5"/>
<circle cx="569.3" cy="82.2" r="1.6" fill="#38c07a"/>
<text transform="translate(582.5,86.8) scale(1.000,1.080)" font-size="13.00">Exp.d</text>
<path d="M559.6,97.8H579.1" stroke="#9d9d9d" stroke-width="1.5"/>
<circle cx="569.3" cy="97.8" r="2.1" fill="none" stroke="#9d9d9d" stroke-width="1.3"/>
<text transform="translate(582.5,102.4) scale(1.000,1.080)" font-size="13.00">Exp.e</text>
<path d="M559.6,113.3H579.1" stroke="#9630e6" stroke-width="1.5"/>
<circle cx="569.3" cy="113.3" r="2.2" fill="#9630e6"/>
<text transform="translate(582.5,117.9) scale(1.000,1.080)" font-size="13.00">Exp.f</text>
<path d="M100.05,336.10V555.90M110.70,336.10V555.90M121.35,336.10V555.90M132.00,336.10V555.90M142.65,336.10V555.90M153.30,336.10V555.90M163.95,336.10V555.90M174.60,336.10V555.90M185.25,336.10V555.90M195.90,336.10V555.90M206.55,336.10V555.90M217.20,336.10V555.90M227.85,336.10V555.90M238.50,336.10V555.90M249.15,336.10V555.90M259.80,336.10V555.90M270.45,336.10V555.90M281.10,336.10V555.90M291.75,336.10V555.90M302.40,336.10V555.90M313.05,336.10V555.90M323.70,336.10V555.90M334.35,336.10V555.90M345.00,336.10V555.90M355.65,336.10V555.90M366.30,336.10V555.90M376.95,336.10V555.90M387.60,336.10V555.90M398.25,336.10V555.90M408.90,336.10V555.90M419.55,336.10V555.90M430.20,336.10V555.90M440.85,336.10V555.90M451.50,336.10V555.90M462.15,336.10V555.90M472.80,336.10V555.90M483.45,336.10V555.90M494.10,336.10V555.90M504.75,336.10V555.90M515.40,336.10V555.90M526.05,336.10V555.90M536.70,336.10V555.90M547.35,336.10V555.90M558.00,336.10V555.90M568.65,336.10V555.90M579.30,336.10V555.90M589.95,336.10V555.90M600.60,336.10V555.90M611.25,336.10V555.90M89.40,343.43H621.90M89.40,350.75H621.90M89.40,358.08H621.90M89.40,365.41H621.90M89.40,372.73H621.90M89.40,380.06H621.90M89.40,387.39H621.90M89.40,394.71H621.90M89.40,402.04H621.90M89.40,409.37H621.90M89.40,416.69H621.90M89.40,424.02H621.90M89.40,431.35H621.90M89.40,438.67H621.90M89.40,446.00H621.90M89.40,453.33H621.90M89.40,460.65H621.90M89.40,467.98H621.90M89.40,475.31H621.90M89.40,482.63H621.90M89.40,489.96H621.90M89.40,497.29H621.90M89.40,504.61H621.90M89.40,511.94H621.90M89.40,519.27H621.90M89.40,526.59H621.90M89.40,533.92H621.90M89.40,541.25H621.90M89.40,548.57H621.90" stroke="#f4f4f4" stroke-width="1" fill="none"/>
<rect x="89.40" y="336.10" width="532.50" height="219.80" fill="none" stroke="#c4c4c4" stroke-width="1.3"/><path d="M89.40,555.90v-4M89.40,336.10v4M153.30,555.90v-4M153.30,336.10v4M217.20,555.90v-4M217.20,336.10v4M281.10,555.90v-4M281.10,336.10v4M345.00,555.90v-4M345.00,336.10v4M408.90,555.90v-4M408.90,336.10v4M472.80,555.90v-4M472.80,336.10v4M536.70,555.90v-4M536.70,336.10v4M89.40,555.90h4M621.90,555.90h-4M89.40,519.27h4M621.90,519.27h-4M89.40,482.63h4M621.90,482.63h-4M89.40,446.00h4M621.90,446.00h-4M89.40,409.37h4M621.90,409.37h-4M89.40,372.73h4M621.90,372.73h-4M89.40,336.10h4M621.90,336.10h-4" stroke="#b0b0b0" stroke-width="1" fill="none"/>
<path d="M89.4,555.9L90.1,525.4L90.9,501.3L91.6,482.1L92.4,467.0L93.1,455.0L93.9,445.5L94.6,438.0L95.4,432.0L96.1,427.3L96.9,423.6L97.6,420.6L98.3,418.3L99.1,416.4L99.8,415.0L100.6,413.8L101.3,412.9L102.1,412.1L102.8,411.6L103.6,411.1L104.3,410.7L105.1,410.5L105.8,410.2L106.5,410.1L107.3,409.9L108.0,409.8L108.8,409.7L109.5,409.6L110.3,409.6L111.0,409.5L111.8,409.5L112.5,409.5L113.3,409.5L114.0,409.4L114.7,409.4L115.5,409.4L116.2,409.4L117.0,409.4L117.7,409.4L118.5,409.4L119.2,409.4L120.0,409.4L120.7,409.4L121.5,409.4L122.2,409.4L122.9,409.4L123.7,409.4L124.4,409.4L125.2,409.4L125.9,409.4L126.7,409.4L127.4,409.4L128.2,409.4L128.9,409.4L129.7,409.4L130.4,409.4L131.1,409.4L131.9,409.4L132.6,409.4L133.4,409.4L134.1,409.4L134.9,409.4L135.6,409.4L136.4,409.4L137.1,409.4L137.9,409.4L138.6,409.4L139.3,409.4L140.1,409.4L140.8,409.4L141.6,409.4L142.3,409.4L143.1,409.4L143.8,409.4L144.6,409.4L145.3,409.4L146.1,409.4L146.8,409.4L147.5,409.4L148.3,409.4L149.0,409.4L149.8,409.4L150.5,409.4L151.3,409.4L152.0,409.4L152.8,409.4L153.5,409.4L154.3,409.4L155.0,409.4L155.7,409.4L156.5,409.4L157.2,409.4L158.0,409.4L158.7,409.4L159.5,409.4L160.2,409.4L161.0,409.4L161.7,409.4L162.5,409.4L163.2,409.4L163.9,409.4L164.7,409.4L165.4,409.4L166.2,409.4L166.9,409.4L167.7,409.4L168.4,409.4L169.2,409.4L169.9,409.4L170.7,409.4L171.4,409.4L172.2,409.4L172.9,409.4L173.6,409.4L174.4,409.4L175.1,409.4L175.9,409.4L176.6,409.4L177.4,409.4L178.1,409.4L178.9,409.4L179.6,409.4L180.4,409.4L181.1,409.4L181.8,409.4L182.6,409.4L183.3,409.4L184.1,409.4L184.8,409.4L185.6,409.4L186.3,409.4L187.1,409.4L187.8,409.4L188.6,409.4L189.3,409.4L190.0,409.4L190.8,409.4L191.5,409.4L192.3,409.4L193.0,409.4L193.8,409.4L194.5,409.4L195.3,409.4L196.0,409.4L196.8,409.4L197.5,409.4L198.2,409.4L199.0,409.4L199.7,409.4L200.5,409.4L201.2,409.4L202.0,409.4L202.7,409.4L203.5,409.4L204.2,409.4L205.0,409.4L205.7,409.4L206.4,409.4L207.2,409.4L207.9,409.4L208.7,409.4L209.4,409.4L210.2,409.4L210.9,409.4L211.7,409.4L212.4,409.4L213.2,409.4L213.9,409.4L214.6,409.4L215.4,409.4L216.1,409.4L216.9,409.4L217.6,409.4L218.4,409.4L219.1,409.4L219.9,409.4L220.6,409.4L221.4,409.4L222.1,409.4L222.8,409.4L223.6,409.4L224.3,409.4L225.1,409.4L225.8,409.4L226.6,409.4L227.3,409.4L228.1,409.4L228.8,409.4L229.6,409.4L230.3,409.4L231.0,409.4L231.8,409.4L232.5,409.4L233.3,409.4L234.0,409.4L234.8,409.4L235.5,409.4L236.3,409.4L237.0,409.4L237.8,409.4L238.5,409.4L239.2,409.4L240.0,409.4L240.7,409.4L241.5,409.4L242.2,409.4L243.0,409.4L243.7,409.4L244.5,409.4L245.2,409.4L246.0,409.4L246.7,409.4L247.4,409.4L248.2,409.4L248.9,409.4L249.7,409.4L250.4,409.4L251.2,409.4L251.9,409.4L252.7,409.4L253.4,409.4L254.2,409.4L254.9,409.4L255.6,409.4L256.4,409.4L257.1,409.4L257.9,409.4L258.6,409.4L259.4,409.4L260.1,409.4L260.9,409.4L261.6,409.4L262.4,409.4L263.1,409.4L263.8,409.4L264.6,409.4L265.3,409.4L266.1,409.4L266.8,409.4L267.6,409.4L268.3,409.4L269.1,409.4L269.8,409.4L270.6,409.4L271.3,409.4L272.0,409.4L272.8,409.4L273.5,409.4L274.3,409.4L275.0,409.4L275.8,409.4L276.5,409.4L277.3,409.4L278.0,409.4L278.8,409.4L279.5,409.4L280.2,409.4L281.0,409.4L281.7,409.4L282.5,409.4L283.2,409.4L284.0,409.4L284.7,409.4L285.5,409.4L286.2,409.4L287.0,409.4L287.7,409.4L288.4,409.4L289.2,409.4L289.9,409.4L290.7,409.4L291.4,409.4L292.2,409.4L292.9,409.4L293.7,409.4L294.4,409.4L295.2,409.4L295.9,409.4L296.6,409.4L297.4,409.4L298.1,409.4L298.9,409.4L299.6,409.4L300.4,409.4L301.1,409.4L301.9,409.4L302.6,409.4L303.4,409.4L304.1,409.4L304.8,409.4L305.6,409.4L306.3,409.4L307.1,409.4L307.8,409.4L308.6,409.4L309.3,409.4L310.1,409.4L310.8,409.4L311.6,409.4L312.3,409.4L313.1,409.4L313.8,409.4L314.5,409.4L315.3,409.4L316.0,409.4L316.8,409.4L317.5,409.4L318.3,409.4L319.0,409.4L319.8,409.4L320.5,409.4L321.3,409.4L322.0,409.4L322.7,409.4L323.5,409.4L324.2,409.4L325.0,409.4L325.7,409.4L326.5,409.4L327.2,409.4L328.0,409.4L328.7,409.4L329.5,409.4L330.2,409.4L330.9,409.4L331.7,409.4L332.4,409.4L333.2,409.4L333.9,409.4L334.7,409.4L335.4,409.4L336.2,409.4L336.9,409.4L337.7,409.4L338.4,409.4L339.1,409.4L339.9,409.4L340.6,409.4L341.4,409.4L342.1,409.4L342.9,409.4L343.6,409.4L344.4,409.4L345.1,409.4L345.9,409.4L346.6,409.4L347.3,409.4L348.1,409.4L348.8,409.4L349.6,409.4L350.3,409.4L351.1,409.4L351.8,409.4L352.6,409.4L353.3,409.4L354.1,409.4L354.8,409.4L355.5,409.4L356.3,409.4L357.0,409.4L357.8,409.4L358.5,409.4L359.3,409.4L360.0,409.4L360.8,409.4L361.5,409.4L362.3,409.4L363.0,409.4L363.7,409.4L364.5,409.4L365.2,409.4L366.0,409.4L366.7,409.4L367.5,409.4L368.2,409.4L369.0,409.4L369.7,409.4L370.5,409.4L371.2,409.4L371.9,409.4L372.7,409.4L373.4,409.4L374.2,409.4L374.9,409.4L375.7,409.4L376.4,409.4L377.2,409.4L377.9,409.4L378.7,409.4L379.4,409.4L380.1,409.4L380.9,409.4L381.6,409.4L382.4,409.4L383.1,409.4L383.9,409.4L384.6,409.4L385.4,409.4L386.1,409.4L386.9,409.4L387.6,409.4L388.3,409.4L389.1,409.4L389.8,409.4L390.6,409.4L391.3,409.4L392.1,409.4L392.8,409.4L393.6,409.4L394.3,409.4L395.1,409.4L395.8,409.4L396.5,409.4L397.3,409.4L398.0,409.4L398.8,409.4L399.5,409.4L400.3,409.4L401.0,409.4L401.8,409.4L402.5,409.4L403.3,409.4L404.0,409.4L404.7,409.4L405.5,409.4L406.2,409.4L407.0,409.4L407.7,409.4L408.5,409.4L409.2,409.4L410.0,409.4L410.7,409.4L411.5,409.4L412.2,409.4L412.9,409.4L413.7,409.4L414.4,409.4L415.2,409.4L415.9,409.4L416.7,409.4L417.4,409.4L418.2,409.4L418.9,409.4L419.7,409.4L420.4,409.4L421.1,409.4L421.9,409.4L422.6,409.4L423.4,409.4L424.1,409.4L424.9,409.4L425.6,409.4L426.4,409.4L427.1,409.4L427.9,409.4L428.6,409.4L429.3,409.4L430.1,409.4L430.8,409.4L431.6,409.4L432.3,409.4L433.1,409.4L433.8,409.4L434.6,409.4L435.3,409.4L436.1,409.4L436.8,409.4L437.5,409.4L438.3,409.4L439.0,409.4L439.8,409.4L440.5,409.4L441.3,409.4L442.0,409.4L442.8,409.4L443.5,409.4L444.3,409.4L445.0,409.4L445.7,409.4L446.5,409.4L447.2,409.4L448.0,409.4L448.7,409.4L449.5,409.4L450.2,409.4L451.0,409.4L451.7,409.4L452.5,409.4L453.2,409.4L453.9,409.4L454.7,409.4L455.4,409.4L456.2,409.4L456.9,409.4L457.7,409.4L458.4,409.4L459.2,409.4L459.9,409.4L460.7,409.4L461.4,409.4L462.1,409.4L462.9,409.4L463.6,409.4L464.4,409.4L465.1,409.4L465.9,409.4L466.6,409.4L467.4,409.4L468.1,409.4L468.9,409.4L469.6,409.4L470.4,409.4L471.1,409.4L471.8,409.4L472.6,409.4L473.3,409.4L474.1,409.4L474.8,409.4L475.6,409.4L476.3,409.4L477.1,409.4L477.8,409.4L478.6,409.4L479.3,409.4L480.0,409.4L480.8,409.4L481.5,409.4L482.3,409.4L483.0,409.4L483.8,409.4L484.5,409.4L485.3,409.4L486.0,409.4L486.8,409.4L487.5,409.4L488.2,409.4L489.0,409.4L489.7,409.4L490.5,409.4L491.2,409.4L492.0,409.4L492.7,409.4L493.5,409.4L494.2,409.4L495.0,409.4L495.7,409.4L496.4,409.4L497.2,409.4L497.9,409.4L498.7,409.4L499.4,409.4L500.2,409.4L500.9,409.4L501.7,409.4L502.4,409.4L503.2,409.4L503.9,409.4L504.6,409.4L505.4,409.4L506.1,409.4L506.9,409.4L507.6,409.4L508.4,409.4L509.1,409.4L509.9,409.4L510.6,409.4L511.4,409.4L512.1,409.4L512.8,409.4L513.6,409.4L514.3,409.4L515.1,409.4L515.8,409.4L516.6,409.4L517.3,409.4L518.1,409.4L518.8,409.4L519.6,409.4L520.3,409.4L521.0,409.4L521.8,409.4L522.5,409.4L523.3,409.4L524.0,409.4L524.8,409.4L525.5,409.4L526.3,409.4L527.0,409.4L527.8,409.4L528.5,409.4L529.2,409.4L530.0,409.4L530.7,409.4L531.5,409.4L532.2,409.4L533.0,409.4L533.7,409.4L534.5,409.4L535.2,409.4L536.0,409.4L536.7,409.4" fill="none" stroke="#000000" stroke-width="1.5"/>
<path d="M89.4,555.9L90.1,525.4L90.9,501.3L91.6,482.1L92.4,467.0L93.1,455.0L93.9,445.5L94.6,438.0L95.4,432.0L96.1,427.3L96.9,423.6L97.6,420.6L98.3,418.3L99.1,416.4L99.8,415.0L100.6,413.8L101.3,412.9L102.1,412.1L102.8,411.6L103.6,411.1L104.3,410.7L105.1,410.5L105.8,410.2L106.5,410.1L107.3,409.9L108.0,409.8L108.8,409.7L109.5,409.6L110.3,409.6L111.0,409.5L111.8,409.5L112.5,409.5L113.3,409.5L114.0,409.4L114.7,409.4L115.5,409.4L116.2,409.4L117.0,409.4L117.7,409.4L118.5,409.4L119.2,409.4L120.0,409.4L120.7,409.4L121.5,409.4L122.2,409.4L122.9,409.4L123.7,409.4L124.4,409.4L125.2,409.4L125.9,409.4L126.7,409.4L127.4,409.4L128.2,409.4L128.9,409.4L129.7,409.4L130.4,409.4L131.1,409.4L131.9,409.4L132.6,409.4L133.4,409.4L134.1,409.4L134.9,409.4L135.6,409.4L136.4,409.4L137.1,409.4L137.9,409.4L138.6,409.4L139.3,409.4L140.1,409.4L140.8,409.4L141.6,409.4L142.3,409.4L143.1,409.4L143.8,409.4L144.6,409.4L145.3,409.4L146.1,409.4L146.8,409.4L147.5,409.4L148.3,409.4L149.0,409.4L149.8,409.4L150.5,409.4L151.3,409.4L152.0,409.4L152.8,409.4L153.5,409.4L154.3,409.4L155.0,409.4L155.7,409.4L156.5,409.4L157.2,409.4L158.0,409.4L158.7,409.4L159.5,409.4L160.2,409.4L161.0,409.4L161.7,409.4L162.5,409.4L163.2,409.4L163.9,409.4L164.7,409.4L165.4,409.4L166.2,409.4L166.9,409.4L167.7,409.4L168.4,409.4L169.2,409.4L169.9,409.4L170.7,409.4L171.4,409.4L172.2,409.4L172.9,409.4L173.6,409.4L174.4,409.4L175.1,409.4L175.9,409.4L176.6,409.4L177.4,409.4L178.1,409.4L178.9,409.4L179.6,409.4L180.4,409.4L181.1,409.4L181.8,409.4L182.6,409.4L183.3,409.4L184.1,409.4L184.8,409.4L185.6,409.4L186.3,409.4L187.1,409.4L187.8,409.4L188.6,409.4L189.3,409.4L190.0,409.4L190.8,409.4L191.5,409.4L192.3,409.4L193.0,409.4L193.8,409.4L194.5,409.4L195.3,409.4L196.0,409.4L196.8,409.4L197.5,409.4L198.2,409.4L199.0,409.4L199.7,409.4L200.5,409.4L201.2,409.4L202.0,409.4L202.7,409.4L203.5,409.4L204.2,409.4L205.0,409.4L205.7,409.4L206.4,409.4L207.2,409.4L207.9,409.4L208.7,409.4L209.4,409.4L210.2,409.4L210.9,409.4L211.7,409.4L212.4,409.4L213.2,409.4L213.9,409.4L214.6,409.4L215.4,409.4L216.1,409.4L216.9,409.4L217.6,409.4L218.4,409.4L219.1,409.4L219.9,409.4L220.6,409.4L221.4,409.4L222.1,409.4L222.8,409.4L223.6,409.4L224.3,409.4L225.1,409.4L225.8,409.4L226.6,409.4L227.3,409.4L228.1,409.4L228.8,409.4L229.6,409.4L230.3,409.4L231.0,409.4L231.8,409.4L232.5,409.4L233.3,409.4L234.0,409.4L234.8,409.4L235.5,409.4L236.3,409.4L237.0,409.4L237.8,409.4L238.5,409.4L239.2,409.4L240.0,409.4L240.7,409.4L241.5,409.4L242.2,409.4L243.0,409.4L243.7,409.4L244.5,409.4L245.2,409.4L246.0,409.4L246.7,409.4L247.4,409.4L248.2,409.4L248.9,409.4L249.7,409.4L250.4,409.4L251.2,409.4L251.9,409.4L252.7,409.4L253.4,409.4L254.2,409.4L254.9,409.4L255.6,409.4L256.4,409.4L257.1,409.4L257.9,409.4L258.6,409.4L259.4,409.4L260.1,409.4L260.9,409.4L261.6,409.4L262.4,409.4L263.1,409.4L263.8,409.4L264.6,409.4L265.3,409.4L266.1,409.4L266.8,409.4L267.6,409.4L268.3,409.4L269.1,409.4L269.8,409.4L270.6,409.4L271.3,409.4L272.0,409.4L272.8,409.4L273.5,409.4L274.3,409.4L275.0,409.4L275.8,409.4L276.5,409.4L277.3,409.4L278.0,409.4L278.8,409.4L279.5,409.4L280.2,409.4L281.0,409.4L281.7,409.4L282.5,409.4L283.2,409.4L284.0,409.4L284.7,409.4L285.5,409.4L286.2,409.4L287.0,409.4L287.7,409.4L288.4,409.4L289.2,409.4L289.9,409.4L290.7,409.4L291.4,409.4L292.2,409.4L292.9,409.4L293.7,409.4L294.4,409.4L295.2,409.4L295.9,409.4L296.6,409.4L297.4,409.4L298.1,409.4L298.9,409.4L299.6,409.4L300.4,409.4L301.1,409.4L301.9,409.4L302.6,409.4L303.4,409.4L304.1,409.4L304.8,409.4L305.6,409.4L306.3,409.4L307.1,409.4L307.8,409.4L308.6,409.4L309.3,409.4L310.1,409.4L310.8,409.4L311.6,409.4L312.3,409.4L313.1,409.4L313.8,409.4L314.5,409.4L315.3,409.4L316.0,409.4L316.8,409.4L317.5,409.4L318.3,409.4L319.0,409.4L319.8,409.4L320.5,409.4L321.3,409.4L322.0,409.4L322.7,409.4L323.5,409.4L324.2,409.4L325.0,409.4L325.7,409.4L326.5,409.4L327.2,409.4L328.0,409.4L328.7,409.4L329.5,409.4L330.2,409.4L330.9,409.4L331.7,409.4L332.4,409.4L333.2,409.4L333.9,409.4L334.7,409.4L335.4,409.4L336.2,409.4L336.9,409.4L337.7,409.4L338.4,409.4L339.1,409.4L339.9,409.4L340.6,409.4L341.4,409.4L342.1,409.4L342.9,409.4L343.6,409.4L344.4,409.4L345.1,409.4L345.9,409.4L346.6,409.4L347.3,409.4L348.1,409.4L348.8,409.4L349.6,409.4L350.3,409.4L351.1,409.4L351.8,409.4L352.6,409.4L353.3,409.4L354.1,409.4L354.8,409.4L355.5,409.4L356.3,409.4L357.0,409.4L357.8,409.4L358.5,409.4L359.3,409.4L360.0,409.4L360.8,409.4L361.5,409.4L362.3,409.4L363.0,409.4L363.7,409.4L364.5,409.4L365.2,409.4L366.0,409.4L366.7,409.4L367.5,409.4L368.2,409.4L369.0,409.4L369.7,409.4L370.5,409.4L371.2,409.4L371.9,409.4L372.7,409.4L373.4,409.4L374.2,409.4L374.9,409.4L375.7,409.4L376.4,409.4L377.2,409.4L377.9,409.4L378.7,409.4L379.4,409.4L380.1,409.4L380.9,409.4L381.6,409.4L382.4,409.4L383.1,409.4L383.9,409.4L384.6,409.4L385.4,409.4L386.1,409.4L386.9,409.4L387.6,409.4L388.3,409.4L389.1,409.4L389.8,409.4L390.6,409.4L391.3,409.4L392.1,409.4L392.8,409.4L393.6,409.4L394.3,409.4L395.1,409.4L395.8,409.4L396.5,409.4L397.3,409.4L398.0,409.4L398.8,409.4L399.5,409.4L400.3,409.4L401.0,409.4L401.8,409.4L402.5,409.4L403.3,409.4L404.0,409.4L404.7,409.4L405.5,409.4L406.2,409.4L407.0,409.4L407.7,409.4L408.5,409.4L409.2,409.4L410.0,409.4L410.7,409.4L411.5,409.4L412.2,409.4L412.9,409.4L413.7,409.4L414.4,409.4L415.2,409.4L415.9,409.4L416.7,409.4L417.4,409.4L418.2,409.4L418.9,409.4L419.7,409.4L420.4,409.4L421.1,409.4L421.9,409.4L422.6,409.4L423.4,409.4L424.1,409.4L424.9,409.4L425.6,409.4L426.4,409.4L427.1,409.4L427.9,409.4L428.6,409.4L429.3,409.4L430.1,409.4L430.8,409.4L431.6,409.4L432.3,409.4L433.1,409.4L433.8,409.4L434.6,409.4L435.3,409.4L436.1,409.4L436.8,409.4L437.5,409.4L438.3,409.4L439.0,409.4L439.8,409.4L440.5,409.4L441.3,409.4L442.0,409.4L442.8,409.4L443.5,409.4L444.3,409.4L445.0,409.4L445.7,409.4L446.5,409.4L447.2,409.4L448.0,409.4L448.7,409.4L449.5,409.4L450.2,409.4L451.0,409.4L451.7,409.4L452.5,409.4L453.2,409.4L453.9,409.4L454.7,409.4L455.4,409.4L456.2,409.4L456.9,409.4L457.7,409.4L458.4,409.4L459.2,409.4L459.9,409.4L460.7,409.4L461.4,409.4L462.1,409.4L462.9,409.4L463.6,409.4L464.4,409.4L465.1,409.4L465.9,409.4L466.6,409.4L467.4,409.4L468.1,409.4L468.9,409.4L469.6,409.4L470.4,409.4L471.1,409.4L471.8,409.4L472.6,409.4L473.3,409.4L474.1,409.4L474.8,409.4L475.6,409.4L476.3,409.4L477.1,409.4L477.8,409.4L478.6,409.4L479.3,409.4L480.0,409.4L480.8,409.4L481.5,409.4L482.3,409.4L483.0,409.4L483.8,409.4L484.5,409.4L485.3,409.4L486.0,409.4L486.8,409.4L487.5,409.4L488.2,409.4L489.0,409.4L489.7,409.4L490.5,409.4L491.2,409.4L492.0,409.4L492.7,409.4L493.5,409.4L494.2,409.4L495.0,409.4L495.7,409.4L496.4,409.4L497.2,409.4L497.9,409.4L498.7,409.4L499.4,409.4L500.2,409.4L500.9,409.4L501.7,409.4L502.4,409.4L503.2,409.4L503.9,409.4L504.6,409.4L505.4,409.4L506.1,409.4L506.9,409.4L507.6,409.4L508.4,409.4L509.1,409.4L509.9,409.4L510.6,409.4L511.4,409.4L512.1,409.4L512.8,409.4L513.6,409.4L514.3,409.4L515.1,409.4L515.8,409.4L516.6,409.4L517.3,409.4L518.1,409.4L518.8,409.4L519.6,409.4L520.3,409.4L521.0,409.4L521.8,409.4L522.5,409.4L523.3,409.4L524.0,409.4L524.8,409.4L525.5,409.4L526.3,409.4L527.0,409.4L527.8,409.4L528.5,409.4L529.2,409.4L530.0,409.4L530.7,409.4L531.5,409.4L532.2,409.4L533.0,409.4L533.7,409.4L534.5,409.4L535.2,409.4L536.0,409.4L536.7,409.4" fill="none" stroke="#555555" stroke-width="1.5"/>
<path d="M89.4,555.9L90.1,525.4L90.9,501.3L91.6,482.1L92.4,467.0L93.1,455.0L93.9,445.5L94.6,438.0L95.4,432.0L96.1,427.3L96.9,423.6L97.6,420.6L98.3,418.3L99.1,416.4L99.8,415.0L100.6,413.8L101.3,412.9L102.1,412.1L102.8,411.6L103.6,411.1L104.3,410.7L105.1,410.5L105.8,410.2L106.5,410.1L107.3,409.9L108.0,409.8L108.8,409.7L109.5,409.6L110.3,409.6L111.0,409.5L111.8,409.5L112.5,409.5L113.3,409.5L114.0,409.4L114.7,409.4L115.5,409.4L116.2,409.4L117.0,409.4L117.7,409.4L118.5,409.4L119.2,409.4L120.0,409.4L120.7,409.4L121.5,409.4L122.2,409.4L122.9,409.4L123.7,409.4L124.4,409.4L125.2,409.4L125.9,409.4L126.7,409.4L127.4,409.4L128.2,409.4L128.9,409.4L129.7,409.4L130.4,409.4L131.1,409.4L131.9,409.4L132.6,409.4L133.4,409.4L134.1,409.4L134.9,409.4L135.6,409.4L136.4,409.4L137.1,409.4L137.9,409.4L138.6,409.4L139.3,409.4L140.1,409.4L140.8,409.4L141.6,409.4L142.3,409.4L143.1,409.4L143.8,409.4L144.6,409.4L145.3,409.4L146.1,409.4L146.8,409.4L147.5,409.4L148.3,409.4L149.0,409.4L149.8,409.4L150.5,409.4L151.3,409.4L152.0,409.4L152.8,409.4L153.5,409.4L154.3,409.4L155.0,409.4L155.7,409.4L156.5,409.4L157.2,409.4L158.0,409.4L158.7,409.4L159.5,409.4L160.2,409.4L161.0,409.4L161.7,409.4L162.5,409.4L163.2,409.4L163.9,409.4L164.7,409.4L165.4,409.4L166.2,409.4L166.9,409.4L167.7,409.4L168.4,409.4L169.2,409.4L169.9,409.4L170.7,409.4L171.4,409.4L172.2,409.4L172.9,409.4L173.6,409.4L174.4,409.4L175.1,409.4L175.9,409.4L176.6,409.4L177.4,409.4L178.1,409.4L178.9,409.4L179.6,409.4L180.4,409.4L181.1,409.4L181.8,409.4L182.6,409.4L183.3,409.4L184.1,409.4L184.8,409.4L185.6,409.4L186.3,409.4L187.1,409.4L187.8,409.4L188.6,409.4L189.3,409.4L190.0,409.4L190.8,409.4L191.5,409.4L192.3,409.4L193.0,409.4L193.8,409.4L194.5,409.4L195.3,409.4L196.0,409.4L196.8,409.4L197.5,409.4L198.2,409.4L199.0,409.4L199.7,409.4L200.5,409.4L201.2,409.4L202.0,409.4L202.7,409.4L203.5,409.4L204.2,409.4L205.0,409.4L205.7,409.4L206.4,409.4L207.2,409.4L207.9,409.4L208.7,409.4L209.4,409.4L210.2,409.4L210.9,409.4L211.7,409.4L212.4,409.4L213.2,409.4L213.9,409.4L214.6,409.4L215.4,409.4L216.1,409.4L216.9,409.4L217.6,409.4L218.4,409.4L219.1,409.4L219.9,409.4L220.6,409.4L221.4,409.4L222.1,409.4L222.8,409.4L223.6,409.4L224.3,409.4L225.1,409.4L225.8,409.4L226.6,409.4L227.3,409.4L228.1,409.4L228.8,409.4L229.6,409.4L230.3,409.4L231.0,409.4L231.8,409.4L232.5,409.4L233.3,409.4L234.0,409.4L234.8,409.4L235.5,409.4L236.3,409.4L237.0,409.4L237.8,409.4L238.5,409.4L239.2,409.4L240.0,409.4L240.7,409.4L241.5,409.4L242.2,409.4L243.0,409.4L243.7,409.4L244.5,409.4L245.2,409.4L246.0,409.4L246.7,409.4L247.4,409.4L248.2,409.4L248.9,409.4L249.7,409.4L250.4,409.4L251.2,409.4L251.9,409.4L252.7,409.4L253.4,409.4L254.2,409.4L254.9,409.4L255.6,409.4L256.4,409.4L257.1,409.4L257.9,409.4L258.6,409.4L259.4,409.4L260.1,409.4L260.9,409.4L261.6,409.4L262.4,409.4L263.1,409.4L263.8,409.4L264.6,409.4L265.3,409.4L266.1,409.4L266.8,409.4L267.6,409.4L268.3,409.4L269.1,409.4L269.8,409.4L270.6,409.4L271.3,409.4L272.0,409.4L272.8,409.4L273.5,409.4L274.3,409.4L275.0,409.4L275.8,409.4L276.5,409.4L277.3,409.4L278.0,409.4L278.8,409.4L279.5,409.4L280.2,409.4L281.0,409.4L281.7,409.4L282.5,409.4L283.2,409.4L284.0,409.4L284.7,409.4L285.5,409.4L286.2,409.4L287.0,409.4L287.7,409.4L288.4,409.4L289.2,409.4L289.9,409.4L290.7,409.4L291.4,409.4L292.2,409.4L292.9,409.4L293.7,409.4L294.4,409.4L295.2,409.4L295.9,409.4L296.6,409.4L297.4,409.4L298.1,409.4L298.9,409.4L299.6,409.4L300.4,409.4L301.1,409.4L301.9,409.4L302.6,409.4L303.4,409.4L304.1,409.4L304.8,409.4L305.6,409.4L306.3,409.4L307.1,409.4L307.8,409.4L308.6,409.4L309.3,409.4L310.1,409.4L310.8,409.4L311.6,409.4L312.3,409.4L313.1,409.4L313.8,409.4L314.5,409.4L315.3,409.4L316.0,409.4L316.8,409.4L317.5,409.4L318.3,409.4L319.0,409.4L319.8,409.4L320.5,409.4L321.3,409.4L322.0,409.4L322.7,409.4L323.5,409.4L324.2,409.4L325.0,409.4L325.7,409.4L326.5,409.4L327.2,409.4L328.0,409.4L328.7,409.4L329.5,409.4L330.2,409.4L330.9,409.4L331.7,409.4L332.4,409.4L333.2,409.4L333.9,409.4L334.7,409.4L335.4,409.4L336.2,409.4L336.9,409.4L337.7,409.4L338.4,409.4L339.1,409.4L339.9,409.4L340.6,409.4L341.4,409.4L342.1,409.4L342.9,409.4L343.6,409.4L344.4,409.4L345.1,409.4L345.9,409.4L346.6,409.4L347.3,409.4L348.1,409.4L348.8,409.4L349.6,409.4L350.3,409.4L351.1,409.4L351.8,409.4L352.6,409.4L353.3,409.4L354.1,409.4L354.8,409.4L355.5,409.4L356.3,409.4L357.0,409.4L357.8,409.4L358.5,409.4L359.3,409.4L360.0,409.4L360.8,409.4L361.5,409.4L362.3,409.4L363.0,409.4L363.7,409.4L364.5,409.4L365.2,409.4L366.0,409.4L366.7,409.4L367.5,409.4L368.2,409.4L369.0,409.4L369.7,409.4L370.5,409.4L371.2,409.4L371.9,409.4L372.7,409.4L373.4,409.4L374.2,409.4L374.9,409.4L375.7,409.4L376.4,409.4L377.2,409.4L377.9,409.4L378.7,409.4L379.4,409.4L380.1,409.4L380.9,409.4L381.6,409.4L382.4,409.4L383.1,409.4L383.9,409.4L384.6,409.4L385.4,409.4L386.1,409.4L386.9,409.4L387.6,409.4L388.3,409.4L389.1,409.4L389.8,409.4L390.6,409.4L391.3,409.4L392.1,409.4L392.8,409.4L393.6,409.4L394.3,409.4L395.1,409.4L395.8,409.4L396.5,409.4L397.3,409.4L398.0,409.4L398.8,409.4L399.5,409.4L400.3,409.4L401.0,409.4L401.8,409.4L402.5,409.4L403.3,409.4L404.0,409.4L404.7,409.4L405.5,409.4L406.2,409.4L407.0,409.4L407.7,409.4L408.5,409.4L409.2,409.4L410.0,409.4L410.7,409.4L411.5,409.4L412.2,409.4L412.9,409.4L413.7,409.4L414.4,409.4L415.2,409.4L415.9,409.4L416.7,409.4L417.4,409.4L418.2,409.4L418.9,409.4L419.7,409.4L420.4,409.4L421.1,409.4L421.9,409.4L422.6,409.4L423.4,409.4L424.1,409.4L424.9,409.4L425.6,409.4L426.4,409.4L427.1,409.4L427.9,409.4L428.6,409.4L429.3,409.4L430.1,409.4L430.8,409.4L431.6,409.4L432.3,409.4L433.1,409.4L433.8,409.4L434.6,409.4L435.3,409.4L436.1,409.4L436.8,409.4L437.5,409.4L438.3,409.4L439.0,409.4L439.8,409.4L440.5,409.4L441.3,409.4L442.0,409.4L442.8,409.4L443.5,409.4L444.3,409.4L445.0,409.4L445.7,409.4L446.5,409.4L447.2,409.4L448.0,409.4L448.7,409.4L449.5,409.4L450.2,409.4L451.0,409.4L451.7,409.4L452.5,409.4L453.2,409.4L453.9,409.4L454.7,409.4L455.4,409.4L456.2,409.4L456.9,409.4L457.7,409.4L458.4,409.4L459.2,409.4L459.9,409.4L460.7,409.4L461.4,409.4L462.1,409.4L462.9,409.4L463.6,409.4L464.4,409.4L465.1,409.4L465.9,409.4L466.6,409.4L467.4,409.4L468.1,409.4L468.9,409.4L469.6,409.4L470.4,409.4L471.1,409.4L471.8,409.4L472.6,409.4L473.3,409.4L474.1,409.4L474.8,409.4L475.6,409.4L476.3,409.4L477.1,409.4L477.8,409.4L478.6,409.4L479.3,409.4L480.0,409.4L480.8,409.4L481.5,409.4L482.3,409.4L483.0,409.4L483.8,409.4L484.5,409.4L485.3,409.4L486.0,409.4L486.8,409.4L487.5,409.4L488.2,409.4L489.0,409.4L489.7,409.4L490.5,409.4L491.2,409.4L492.0,409.4L492.7,409.4L493.5,409.4L494.2,409.4L495.0,409.4L495.7,409.4L496.4,409.4L497.2,409.4L497.9,409.4L498.7,409.4L499.4,409.4L500.2,409.4L500.9,409.4L501.7,409.4L502.4,409.4L503.2,409.4L503.9,409.4L504.6,409.4L505.4,409.4L506.1,409.4L506.9,409.4L507.6,409.4L508.4,409.4L509.1,409.4L509.9,409.4L510.6,409.4L511.4,409.4L512.1,409.4L512.8,409.4L513.6,409.4L514.3,409.4L515.1,409.4L515.8,409.4L516.6,409.4L517.3,409.4L518.1,409.4L518.8,409.4L519.6,409.4L520.3,409.4L521.0,409.4L521.8,409.4L522.5,409.4L523.3,409.4L524.0,409.4L524.8,409.4L525.5,409.4L526.3,409.4L527.0,409.4L527.8,409.4L528.5,409.4L529.2,409.4L530.0,409.4L530.7,409.4L531.5,409.4L532.2,409.4L533.0,409.4L533.7,409.4L534.5,409.4L535.2,409.4L536.0,409.4L536.7,409.4" fill="none" stroke="#cccccc" stroke-width="1.5"/>
<path d="M89.4,555.9L90.1,525.4L90.9,501.3L91.6,482.1L92.4,467.0L93.1,455.0L93.9,445.5L94.6,438.0L95.4,432.0L96.1,427.3L96.9,423.6L97.6,420.6L98.3,418.3L99.1,416.4L99.8,415.0L100.6,413.8L101.3,412.9L102.1,412.1L102.8,411.6L103.6,411.1L104.3,410.7L105.1,410.5L105.8,410.2L106.5,410.1L107.3,409.9L108.0,409.8L108.8,409.7L109.5,409.6L110.3,409.6L111.0,409.5L111.8,409.5L112.5,409.5L113.3,409.5L114.0,409.4L114.7,409.4L115.5,409.4L116.2,409.4L117.0,409.4L117.7,409.4L118.5,409.4L119.2,409.4L120.0,409.4L120.7,409.4L121.5,409.4L122.2,409.4L122.9,409.4L123.7,409.4L124.4,409.4L125.2,409.4L125.9,409.4L126.7,409.4L127.4,409.4L128.2,409.4L128.9,409.4L129.7,409.4L130.4,409.4L131.1,409.4L131.9,409.4L132.6,409.4L133.4,409.4L134.1,409.4L134.9,409.4L135.6,409.4L136.4,409.4L137.1,409.4L137.9,409.4L138.6,409.4L139.3,409.4L140.1,409.4L140.8,409.4L141.6,409.4L142.3,409.4L143.1,409.4L143.8,409.4L144.6,409.4L145.3,409.4L146.1,409.4L146.8,409.4L147.5,409.4L148.3,409.4L149.0,409.4L149.8,409.4L150.5,409.4L151.3,409.4L152.0,409.4L152.8,409.4L153.5,409.4L154.3,409.4L155.0,409.4L155.7,409.4L156.5,409.4L157.2,409.4L158.0,409.4L158.7,409.4L159.5,409.4L160.2,409.4L161.0,409.4L161.7,409.4L162.5,409.4L163.2,409.4L163.9,409.4L164.7,409.4L165.4,409.4L166.2,409.4L166.9,409.4L167.7,409.4L168.4,409.4L169.2,409.4L169.9,409.4L170.7,409.4L171.4,409.4L172.2,409.4L172.9,409.4L173.6,409.4L174.4,409.4L175.1,409.4L175.9,409.4L176.6,409.4L177.4,409.4L178.1,409.4L178.9,409.4L179.6,409.4L180.4,409.4L181.1,409.4L181.8,409.4L182.6,409.4L183.3,409.4L184.1,409.4L184.8,409.4L185.6,409.4L186.3,409.4L187.1,409.4L187.8,409.4L188.6,409.4L189.3,409.4L190.0,409.4L190.8,409.4L191.5,409.4L192.3,409.4L193.0,409.4L193.8,409.4L194.5,409.4L195.3,409.4L196.0,409.4L196.8,409.4L197.5,409.4L198.2,409.4L199.0,409.4L199.7,409.4L200.5,409.4L201.2,409.4L202.0,409.4L202.7,409.4L203.5,409.4L204.2,409.4L205.0,409.4L205.7,409.4L206.4,409.4L207.2,409.4L207.9,409.4L208.7,409.4L209.4,409.4L210.2,409.4L210.9,409.4L211.7,409.4L212.4,409.4L213.2,409.4L213.9,409.4L214.6,409.4L215.4,409.4L216.1,409.4L216.9,409.4L217.6,409.4L218.4,409.4L219.1,409.4L219.9,409.4L220.6,409.4L221.4,409.4L222.1,409.4L222.8,409.4L223.6,409.4L224.3,409.4L225.1,409.4L225.8,409.4L226.6,409.4L227.3,409.4L228.1,409.4L228.8,409.4L229.6,409.4L230.3,409.4L231.0,409.4L231.8,409.4L232.5,409.4L233.3,409.4L234.0,409.4L234.8,409.4L235.5,409.4L236.3,409.4L237.0,409.4L237.8,409.4L238.5,409.4L239.2,409.4L240.0,409.4L240.7,409.4L241.5,409.4L242.2,409.4L243.0,409.4L243.7,409.4L244.5,409.4L245.2,409.4L246.0,409.4L246.7,409.4L247.4,409.4L248.2,409.4L248.9,409.4L249.7,409.4L250.4,409.4L251.2,409.4L251.9,409.4L252.7,409.4L253.4,409.4L254.2,409.4L254.9,409.4L255.6,409.4L256.4,409.4L257.1,409.4L257.9,409.4L258.6,409.4L259.4,409.4L260.1,409.4L260.9,409.4L261.6,409.4L262.4,409.4L263.1,409.4L263.8,409.4L264.6,409.4L265.3,409.4L266.1,409.4L266.8,409.4L267.6,409.4L268.3,409.4L269.1,409.4L269.8,409.4L270.6,409.4L271.3,409.4L272.0,409.4L272.8,409.4L273.5,409.4L274.3,409.4L275.0,409.4L275.8,409.4L276.5,409.4L277.3,409.4L278.0,409.4L278.8,409.4L279.5,409.4L280.2,409.4L281.0,409.4L281.7,409.4L282.5,409.4L283.2,409.4L284.0,409.4L284.7,409.4L285.5,409.4L286.2,409.4L287.0,409.4L287.7,409.4L288.4,409.4L289.2,409.4L289.9,409.4L290.7,409.4L291.4,409.4L292.2,409.4L292.9,409.4L293.7,409.4L294.4,409.4L295.2,409.4L295.9,409.4L296.6,409.4L297.4,409.4L298.1,409.4L298.9,409.4L299.6,409.4L300.4,409.4L301.1,409.4L301.9,409.4L302.6,409.4L303.4,409.4L304.1,409.4L304.8,409.4L305.6,409.4L306.3,409.4L307.1,409.4L307.8,409.4L308.6,409.4L309.3,409.4L310.1,409.4L310.8,409.4L311.6,409.4L312.3,409.4L313.1,409.4L313.8,409.4L314.5,409.4L315.3,409.4L316.0,409.4L316.8,409.4L317.5,409.4L318.3,409.4L319.0,409.4L319.8,409.4L320.5,409.4L321.3,409.4L322.0,409.4L322.7,409.4L323.5,409.4L324.2,409.4L325.0,409.4L325.7,409.4L326.5,409.4L327.2,409.4L328.0,409.4L328.7,409.4L329.5,409.4L330.2,409.4L330.9,409.4L331.7,409.4L332.4,409.4L333.2,409.4L333.9,409.4L334.7,409.4L335.4,409.4L336.2,409.4L336.9,409.4L337.7,409.4L338.4,409.4L339.1,409.4L339.9,409.4L340.6,409.4L341.4,409.4L342.1,409.4L342.9,409.4L343.6,409.4L344.4,409.4L345.1,409.4L345.9,409.4L346.6,409.4L347.3,409.4L348.1,409.4L348.8,409.4L349.6,409.4L350.3,409.4L351.1,409.4L351.8,409.4L352.6,409.4L353.3,409.4L354.1,409.4L354.8,409.4L355.5,409.4L356.3,409.4L357.0,409.4L357.8,409.4L358.5,409.4L359.3,409.4L360.0,409.4L360.8,409.4L361.5,409.4L362.3,409.4L363.0,409.4L363.7,409.4L364.5,409.4L365.2,409.4L366.0,409.4L366.7,409.4L367.5,409.4L368.2,409.4L369.0,409.4L369.7,409.4L370.5,409.4L371.2,409.4L371.9,409.4L372.7,409.4L373.4,409.4L374.2,409.4L374.9,409.4L375.7,409.4L376.4,409.4L377.2,409.4L377.9,409.4L378.7,409.4L379.4,409.4L380.1,409.4L380.9,409.4L381.6,409.4L382.4,409.4L383.1,409.4L383.9,409.4L384.6,409.4L385.4,409.4L386.1,409.4L386.9,409.4L387.6,409.4L388.3,409.4L389.1,409.4L389.8,409.4L390.6,409.4L391.3,409.4L392.1,409.4L392.8,409.4L393.6,409.4L394.3,409.4L395.1,409.4L395.8,409.4L396.5,409.4L397.3,409.4L398.0,409.4L398.8,409.4L399.5,409.4L400.3,409.4L401.0,409.4L401.8,409.4L402.5,409.4L403.3,409.4L404.0,409.4L404.7,409.4L405.5,409.4L406.2,409.4L407.0,409.4L407.7,409.4L408.5,409.4L409.2,409.4L410.0,409.4L410.7,409.4L411.5,409.4L412.2,409.4L412.9,409.4L413.7,409.4L414.4,409.4L415.2,409.4L415.9,409.4L416.7,409.4L417.4,409.4L418.2,409.4L418.9,409.4L419.7,409.4L420.4,409.4L421.1,409.4L421.9,409.4L422.6,409.4L423.4,409.4L424.1,409.4L424.9,409.4L425.6,409.4L426.4,409.4L427.1,409.4L427.9,409.4L428.6,409.4L429.3,409.4L430.1,409.4L430.8,409.4L431.6,409.4L432.3,409.4L433.1,409.4L433.8,409.4L434.6,409.4L435.3,409.4L436.1,409.4L436.8,409.4L437.5,409.4L438.3,409.4L439.0,409.4L439.8,409.4L440.5,409.4L441.3,409.4L442.0,409.4L442.8,409.4L443.5,409.4L444.3,409.4L445.0,409.4L445.7,409.4L446.5,409.4L447.2,409.4L448.0,409.4L448.7,409.4L449.5,409.4L450.2,409.4L451.0,409.4L451.7,409.4L452.5,409.4L453.2,409.4L453.9,409.4L454.7,409.4L455.4,409.4L456.2,409.4L456.9,409.4L457.7,409.4L458.4,409.4L459.2,409.4L459.9,409.4L460.7,409.4L461.4,409.4L462.1,409.4L462.9,409.4L463.6,409.4L464.4,409.4L465.1,409.4L465.9,409.4L466.6,409.4L467.4,409.4L468.1,409.4L468.9,409.4L469.6,409.4L470.4,409.4L471.1,409.4L471.8,409.4L472.6,409.4L473.3,409.4L474.1,409.4L474.8,409.4L475.6,409.4L476.3,409.4L477.1,409.4L477.8,409.4L478.6,409.4L479.3,409.4L480.0,409.4L480.8,409.4L481.5,409.4L482.3,409.4L483.0,409.4L483.8,409.4L484.5,409.4L485.3,409.4L486.0,409.4L486.8,409.4L487.5,409.4L488.2,409.4L489.0,409.4L489.7,409.4L490.5,409.4L491.2,409.4L492.0,409.4L492.7,409.4L493.5,409.4L494.2,409.4L495.0,409.4L495.7,409.4L496.4,409.4L497.2,409.4L497.9,409.4L498.7,409.4L499.4,409.4L500.2,409.4L500.9,409.4L501.7,409.4L502.4,409.4L503.2,409.4L503.9,409.4L504.6,409.4L505.4,409.4L506.1,409.4L506.9,409.4L507.6,409.4L508.4,409.4L509.1,409.4L509.9,409.4L510.6,409.4L511.4,409.4L512.1,409.4L512.8,409.4L513.6,409.4L514.3,409.4L515.1,409.4L515.8,409.4L516.6,409.4L517.3,409.4L518.1,409.4L518.8,409.4L519.6,409.4L520.3,409.4L521.0,409.4L521.8,409.4L522.5,409.4L523.3,409.4L524.0,409.4L524.8,409.4L525.5,409.4L526.3,409.4L527.0,409.4L527.8,409.4L528.5,409.4L529.2,409.4L530.0,409.4L530.7,409.4L531.5,409.4L532.2,409.4L533.0,409.4L533.7,409.4L534.5,409.4L535.2,409.4L536.0,409.4L536.7,409.4" fill="none" stroke="#888888" stroke-width="1.5"/>
<path d="M89.4,555.9L90.1,525.4L90.9,501.3L91.6,482.1L92.4,467.0L93.1,455.0L93.9,445.5L94.6,438.0L95.4,432.0L96.1,427.3L96.9,423.6L97.6,420.6L98.3,418.3L99.1,416.4L99.8,415.0L100.6,413.8L101.3,412.9L102.1,412.1L102.8,411.6L103.6,411.1L104.3,410.7L105.1,410.5L105.8,410.2L106.5,410.1L107.3,409.9L108.0,409.8L108.8,409.7L109.5,409.6L110.3,409.6L111.0,409.5L111.8,409.5L112.5,409.5L113.3,409.5L114.0,409.4L114.7,409.4L115.5,409.4L116.2,409.4L117.0,409.4L117.7,409.4L118.5,409.4L119.2,409.4L120.0,409.4L120.7,409.4L121.5,409.4L122.2,409.4L122.9,409.4L123.7,409.4L124.4,409.4L125.2,409.4L125.9,409.4L126.7,409.4L127.4,409.4L128.2,409.4L128.9,409.4L129.7,409.4L130.4,409.4L131.1,409.4L131.9,409.4L132.6,409.4L133.4,409.4L134.1,409.4L134.9,409.4L135.6,409.4L136.4,409.4L137.1,409.4L137.9,409.4L138.6,409.4L139.3,409.4L140.1,409.4L140.8,409.4L141.6,409.4L142.3,409.4L143.1,409.4L143.8,409.4L144.6,409.4L145.3,409.4L146.1,409.4L146.8,409.4L147.5,409.4L148.3,409.4L149.0,409.4L149.8,409.4L150.5,409.4L151.3,409.4L152.0,409.4L152.8,409.4L153.5,409.4L154.3,409.4L155.0,409.4L155.7,409.4L156.5,409.4L157.2,409.4L158.0,409.4L158.7,409.4L159.5,409.4L160.2,409.4L161.0,409.4L161.7,409.4L162.5,409.4L163.2,409.4L163.9,409.4L164.7,409.4L165.4,409.4L166.2,409.4L166.9,409.4L167.7,409.4L168.4,409.4L169.2,409.4L169.9,409.4L170.7,409.4L171.4,409.4L172.2,409.4L172.9,409.4L173.6,409.4L174.4,409.4L175.1,409.4L175.9,409.4L176.6,409.4L177.4,409.4L178.1,409.4L178.9,409.4L179.6,409.4L180.4,409.4L181.1,409.4L181.8,409.4L182.6,409.4L183.3,409.4L184.1,409.4L184.8,409.4L185.6,409.4L186.3,409.4L187.1,409.4L187.8,409.4L188.6,409.4L189.3,409.4L190.0,409.4L190.8,409.4L191.5,409.4L192.3,409.4L193.0,409.4L193.8,409.4L194.5,409.4L195.3,409.4L196.0,409.4L196.8,409.4L197.5,409.4L198.2,409.4L199.0,409.4L199.7,409.4L200.5,409.4L201.2,409.4L202.0,409.4L202.7,409.4L203.5,409.4L204.2,409.4L205.0,409.4L205.7,409.4L206.4,409.4L207.2,409.4L207.9,409.4L208.7,409.4L209.4,409.4L210.2,409.4L210.9,409.4L211.7,409.4L212.4,409.4L213.2,409.4L213.9,409.4L214.6,409.4L215.4,409.4L216.1,409.4L216.9,409.4L217.6,409.4L218.4,409.4L219.1,409.4L219.9,409.4L220.6,409.4L221.4,409.4L222.1,409.4L222.8,409.4L223.6,409.4L224.3,409.4L225.1,409.4L225.8,409.4L226.6,409.4L227.3,409.4L228.1,409.4L228.8,409.4L229.6,409.4L230.3,409.4L231.0,409.4L231.8,409.4L232.5,409.4L233.3,409.4L234.0,409.4L234.8,409.4L235.5,409.4L236.3,409.4L237.0,409.4L237.8,409.4L238.5,409.4L239.2,409.4L240.0,409.4L240.7,409.4L241.5,409.4L242.2,409.4L243.0,409.4L243.7,409.4L244.5,409.4L245.2,409.4L246.0,409.4L246.7,409.4L247.4,409.4L248.2,409.4L248.9,409.4L249.7,409.4L250.4,409.4L251.2,409.4L251.9,409.4L252.7,409.4L253.4,409.4L254.2,409.4L254.9,409.4L255.6,409.4L256.4,409.4L257.1,409.4L257.9,409.4L258.6,409.4L259.4,409.4L260.1,409.4L260.9,409.4L261.6,409.4L262.4,409.4L263.1,409.4L263.8,409.4L264.6,409.4L265.3,409.4L266.1,409.4L266.8,409.4L267.6,409.4L268.3,409.4L269.1,409.4L269.8,409.4L270.6,409.4L271.3,409.4L272.0,409.4L272.8,409.4L273.5,409.4L274.3,409.4L275.0,409.4L275.8,409.4L276.5,409.4L277.3,409.4L278.0,409.4L278.8,409.4L279.5,409.4L280.2,409.4L281.0,409.4L281.7,409.4L282.5,409.4L283.2,409.4L284.0,409.4L284.7,409.4L285.5,409.4L286.2,409.4L287.0,409.4L287.7,409.4L288.4,409.4L289.2,409.4L289.9,409.4L290.7,409.4L291.4,409.4L292.2,409.4L292.9,409.4L293.7,409.4L294.4,409.4L295.2,409.4L295.9,409.4L296.6,409.4L297.4,409.4L298.1,409.4L298.9,409.4L299.6,409.4L300.4,409.4L301.1,409.4L301.9,409.4L302.6,409.4L303.4,409.4L304.1,409.4L304.8,409.4L305.6,409.4L306.3,409.4L307.1,409.4L307.8,409.4L308.6,409.4L309.3,409.4L310.1,409.4L310.8,409.4L311.6,409.4L312.3,409.4L313.1,409.4L313.8,409.4L314.5,409.4L315.3,409.4L316.0,409.4L316.8,409.4L317.5,409.4L318.3,409.4L319.0,409.4L319.8,409.4L320.5,409.4L321.3,409.4L322.0,409.4L322.7,409.4L323.5,409.4L324.2,409.4L325.0,409.4L325.7,409.4L326.5,409.4L327.2,409.4L328.0,409.4L328.7,409.4L329.5,409.4L330.2,409.4L330.9,409.4L331.7,409.4L332.4,409.4L333.2,409.4L333.9,409.4L334.7,409.4L335.4,409.4L336.2,409.4L336.9,409.4L337.7,409.4L338.4,409.4L339.1,409.4L339.9,409.4L340.6,409.4L341.4,409.4L342.1,409.4L342.9,409.4L343.6,409.4L344.4,409.4L345.1,409.4L345.9,409.4L346.6,409.4L347.3,409.4L348.1,409.4L348.8,409.4L349.6,409.4L350.3,409.4L351.1,409.4L351.8,409.4L352.6,409.4L353.3,409.4L354.1,409.4L354.8,409.4L355.5,409.4L356.3,409.4L357.0,409.4L357.8,409.4L358.5,409.4L359.3,409.4L360.0,409.4L360.8,409.4L361.5,409.4L362.3,409.4L363.0,409.4L363.7,409.4L364.5,409.4L365.2,409.4L366.0,409.4L366.7,409.4L367.5,409.4L368.2,409.4L369.0,409.4L369.7,409.4L370.5,409.4L371.2,409.4L371.9,409.4L372.7,409.4L373.4,409.4L374.2,409.4L374.9,409.4L375.7,409.4L376.4,409.4L377.2,409.4L377.9,409.4L378.7,409.4L379.4,409.4L380.1,409.4L380.9,409.4L381.6,409.4L382.4,409.4L383.1,409.4L383.9,409.4L384.6,409.4L385.4,409.4L386.1,409.4L386.9,409.4L387.6,409.4L388.3,409.4L389.1,409.4L389.8,409.4L390.6,409.4L391.3,409.4L392.1,409.4L392.8,409.4L393.6,409.4L394.3,409.4L395.1,409.4L395.8,409.4L396.5,409.4L397.3,409.4L398.0,409.4L398.8,409.4L399.5,409.4L400.3,409.4L401.0,409.4L401.8,409.4L402.5,409.4L403.3,409.4L404.0,409.4L404.7,409.4L405.5,409.4L406.2,409.4L407.0,409.4L407.7,409.4L408.5,409.4L409.2,409.4L410.0,409.4L410.7,409.4L411.5,409.4L412.2,409.4L412.9,409.4L413.7,409.4L414.4,409.4L415.2,409.4L415.9,409.4L416.7,409.4L417.4,409.4L418.2,409.4L418.9,409.4L419.7,409.4L420.4,409.4L421.1,409.4L421.9,409.4L422.6,409.4L423.4,409.4L424.1,409.4L424.9,409.4L425.6,409.4L426.4,409.4L427.1,409.4L427.9,409.4L428.6,409.4L429.3,409.4L430.1,409.4L430.8,409.4L431.6,409.4L432.3,409.4L433.1,409.4L433.8,409.4L434.6,409.4L435.3,409.4L436.1,409.4L436.8,409.4L437.5,409.4L438.3,409.4L439.0,409.4L439.8,409.4L440.5,409.4L441.3,409.4L442.0,409.4L442.8,409.4L443.5,409.4L444.3,409.4L445.0,409.4L445.7,409.4L446.5,409.4L447.2,409.4L448.0,409.4L448.7,409.4L449.5,409.4L450.2,409.4L451.0,409.4L451.7,409.4L452.5,409.4L453.2,409.4L453.9,409.4L454.7,409.4L455.4,409.4L456.2,409.4L456.9,409.4L457.7,409.4L458.4,409.4L459.2,409.4L459.9,409.4L460.7,409.4L461.4,409.4L462.1,409.4L462.9,409.4L463.6,409.4L464.4,409.4L465.1,409.4L465.9,409.4L466.6,409.4L467.4,409.4L468.1,409.4L468.9,409.4L469.6,409.4L470.4,409.4L471.1,409.4L471.8,409.4L472.6,409.4L473.3,409.4L474.1,409.4L474.8,409.4L475.6,409.4L476.3,409.4L477.1,409.4L477.8,409.4L478.6,409.4L479.3,409.4L480.0,409.4L480.8,409.4L481.5,409.4L482.3,409.4L483.0,409.4L483.8,409.4L484.5,409.4L485.3,409.4L486.0,409.4L486.8,409.4L487.5,409.4L488.2,409.4L489.0,409.4L489.7,409.4L490.5,409.4L491.2,409.4L492.0,409.4L492.7,409.4L493.5,409.4L494.2,409.4L495.0,409.4L495.7,409.4L496.4,409.4L497.2,409.4L497.9,409.4L498.7,409.4L499.4,409.4L500.2,409.4L500.9,409.4L501.7,409.4L502.4,409.4L503.2,409.4L503.9,409.4L504.6,409.4L505.4,409.4L506.1,409.4L506.9,409.4L507.6,409.4L508.4,409.4L509.1,409.4L509.9,409.4L510.6,409.4L511.4,409.4L512.1,409.4L512.8,409.4L513.6,409.4L514.3,409.4L515.1,409.4L515.8,409.4L516.6,409.4L517.3,409.4L518.1,409.4L518.8,409.4L519.6,409.4L520.3,409.4L521.0,409.4L521.8,409.4L522.5,409.4L523.3,409.4L524.0,409.4L524.8,409.4L525.5,409.4L526.3,409.4L527.0,409.4L527.8,409.4L528.5,409.4L529.2,409.4L530.0,409.4L530.7,409.4L531.5,409.4L532.2,409.4L533.0,409.4L533.7,409.4L534.5,409.4L535.2,409.4L536.0,409.4L536.7,409.4" fill="none" stroke="#8a9080" stroke-width="1.5"/>
<path d="M89.4,555.9L90.1,525.4L90.9,501.3L91.6,482.1L92.4,467.0L93.1,455.0L93.9,445.5L94.6,438.0L95.4,432.0L96.1,427.3L96.9,423.6L97.6,420.6L98.3,418.3L99.1,416.4L99.8,415.0L100.6,413.8L101.3,412.9L102.1,412.1L102.8,411.6L103.6,411.1L104.3,410.7L105.1,410.5L105.8,410.2L106.5,410.1L107.3,409.9L108.0,409.8L108.8,409.7L109.5,409.6L110.3,409.6L111.0,409.5L111.8,409.5L112.5,409.5L113.3,409.5L114.0,409.4L114.7,409.4L115.5,409.4L116.2,409.4L117.0,409.4L117.7,409.4L118.5,409.4L119.2,409.4L120.0,409.4L120.7,409.4L121.5,409.4L122.2,409.4L122.9,409.4L123.7,409.4L124.4,409.4L125.2,409.4L125.9,409.4L126.7,409.4L127.4,409.4L128.2,409.4L128.9,409.4L129.7,409.4L130.4,409.4L131.1,409.4L131.9,409.4L132.6,409.4L133.4,409.4L134.1,409.4L134.9,409.4L135.6,409.4L136.4,409.4L137.1,409.4L137.9,409.4L138.6,409.4L139.3,409.4L140.1,409.4L140.8,409.4L141.6,409.4L142.3,409.4L143.1,409.4L143.8,409.4L144.6,409.4L145.3,409.4L146.1,409.4L146.8,409.4L147.5,409.4L148.3,409.4L149.0,409.4L149.8,409.4L150.5,409.4L151.3,409.4L152.0,409.4L152.8,409.4L153.5,409.4L154.3,409.4L155.0,409.4L155.7,409.4L156.5,409.4L157.2,409.4L158.0,409.4L158.7,409.4L159.5,409.4L160.2,409.4L161.0,409.4L161.7,409.4L162.5,409.4L163.2,409.4L163.9,409.4L164.7,409.4L165.4,409.4L166.2,409.4L166.9,409.4L167.7,409.4L168.4,409.4L169.2,409.4L169.9,409.4L170.7,409.4L171.4,409.4L172.2,409.4L172.9,409.4L173.6,409.4L174.4,409.4L175.1,409.4L175.9,409.4L176.6,409.4L177.4,409.4L178.1,409.4L178.9,409.4L179.6,409.4L180.4,409.4L181.1,409.4L181.8,409.4L182.6,409.4L183.3,409.4L184.1,409.4L184.8,409.4L185.6,409.4L186.3,409.4L187.1,409.4L187.8,409.4L188.6,409.4L189.3,409.4L190.0,409.4L190.8,409.4L191.5,409.4L192.3,409.4L193.0,409.4L193.8,409.4L194.5,409.4L195.3,409.4L196.0,409.4L196.8,409.4L197.5,409.4L198.2,409.4L199.0,409.4L199.7,409.4L200.5,409.4L201.2,409.4L202.0,409.4L202.7,409.4L203.5,409.4L204.2,409.4L205.0,409.4L205.7,409.4L206.4,409.4L207.2,409.4L207.9,409.4L208.7,409.4L209.4,409.4L210.2,409.4L210.9,409.4L211.7,409.4L212.4,409.4L213.2,409.4L213.9,409.4L214.6,409.4L215.4,409.4L216.1,409.4L216.9,409.4L217.6,409.4L218.4,409.4L219.1,409.4L219.9,409.4L220.6,409.4L221.4,409.4L222.1,409.4L222.8,409.4L223.6,409.4L224.3,409.4L225.1,409.4L225.8,409.4L226.6,409.4L227.3,409.4L228.1,409.4L228.8,409.4L229.6,409.4L230.3,409.4L231.0,409.4L231.8,409.4L232.5,409.4L233.3,409.4L234.0,409.4L234.8,409.4L235.5,409.4L236.3,409.4L237.0,409.4L237.8,409.4L238.5,409.4L239.2,409.4L240.0,409.4L240.7,409.4L241.5,409.4L242.2,409.4L243.0,409.4L243.7,409.4L244.5,409.4L245.2,409.4L246.0,409.4L246.7,409.4L247.4,409.4L248.2,409.4L248.9,409.4L249.7,409.4L250.4,409.4L251.2,409.4L251.9,409.4L252.7,409.4L253.4,409.4L254.2,409.4L254.9,409.4L255.6,409.4L256.4,409.4L257.1,409.4L257.9,409.4L258.6,409.4L259.4,409.4L260.1,409.4L260.9,409.4L261.6,409.4L262.4,409.4L263.1,409.4L263.8,409.4L264.6,409.4L265.3,409.4L266.1,409.4L266.8,409.4L267.6,409.4L268.3,409.4L269.1,409.4L269.8,409.4L270.6,409.4L271.3,409.4L272.0,409.4L272.8,409.4L273.5,409.4L274.3,409.4L275.0,409.4L275.8,409.4L276.5,409.4L277.3,409.4L278.0,409.4L278.8,409.4L279.5,409.4L280.2,409.4L281.0,409.4L281.7,409.4L282.5,409.4L283.2,409.4L284.0,409.4L284.7,409.4L285.5,409.4L286.2,409.4L287.0,409.4L287.7,409.4L288.4,409.4L289.2,409.4L289.9,409.4L290.7,409.4L291.4,409.4L292.2,409.4L292.9,409.4L293.7,409.4L294.4,409.4L295.2,409.4L295.9,409.4L296.6,409.4L297.4,409.4L298.1,409.4L298.9,409.4L299.6,409.4L300.4,409.4L301.1,409.4L301.9,409.4L302.6,409.4L303.4,409.4L304.1,409.4L304.8,409.4L305.6,409.4L306.3,409.4L307.1,409.4L307.8,409.4L308.6,409.4L309.3,409.4L310.1,409.4L310.8,409.4L311.6,409.4L312.3,409.4L313.1,409.4L313.8,409.4L314.5,409.4L315.3,409.4L316.0,409.4L316.8,409.4L317.5,409.4L318.3,409.4L319.0,409.4L319.8,409.4L320.5,409.4L321.3,409.4L322.0,409.4L322.7,409.4L323.5,409.4L324.2,409.4L325.0,409.4L325.7,409.4L326.5,409.4L327.2,409.4L328.0,409.4L328.7,409.4L329.5,409.4L330.2,409.4L330.9,409.4L331.7,409.4L332.4,409.4L333.2,409.4L333.9,409.4L334.7,409.4L335.4,409.4L336.2,409.4L336.9,409.4L337.7,409.4L338.4,409.4L339.1,409.4L339.9,409.4L340.6,409.4L341.4,409.4L342.1,409.4L342.9,409.4L343.6,409.4L344.4,409.4L345.1,409.4L345.9,409.4L346.6,409.4L347.3,409.4L348.1,409.4L348.8,409.4L349.6,409.4L350.3,409.4L351.1,409.4L351.8,409.4L352.6,409.4L353.3,409.4L354.1,409.4L354.8,409.4L355.5,409.4L356.3,409.4L357.0,409.4L357.8,409.4L358.5,409.4L359.3,409.4L360.0,409.4L360.8,409.4L361.5,409.4L362.3,409.4L363.0,409.4L363.7,409.4L364.5,409.4L365.2,409.4L366.0,409.4L366.7,409.4L367.5,409.4L368.2,409.4L369.0,409.4L369.7,409.4L370.5,409.4L371.2,409.4L371.9,409.4L372.7,409.4L373.4,409.4L374.2,409.4L374.9,409.4L375.7,409.4L376.4,409.4L377.2,409.4L377.9,409.4L378.7,409.4L379.4,409.4L380.1,409.4L380.9,409.4L381.6,409.4L382.4,409.4L383.1,409.4L383.9,409.4L384.6,409.4L385.4,409.4L386.1,409.4L386.9,409.4L387.6,409.4L388.3,409.4L389.1,409.4L389.8,409.4L390.6,409.4L391.3,409.4L392.1,409.4L392.8,409.4L393.6,409.4L394.3,409.4L395.1,409.4L395.8,409.4L396.5,409.4L397.3,409.4L398.0,409.4L398.8,409.4L399.5,409.4L400.3,409.4L401.0,409.4L401.8,409.4L402.5,409.4L403.3,409.4L404.0,409.4L404.7,409.4L405.5,409.4L406.2,409.4L407.0,409.4L407.7,409.4L408.5,409.4L409.2,409.4L410.0,409.4L410.7,409.4L411.5,409.4L412.2,409.4L412.9,409.4L413.7,409.4L414.4,409.4L415.2,409.4L415.9,409.4L416.7,409.4L417.4,409.4L418.2,409.4L418.9,409.4L419.7,409.4L420.4,409.4L421.1,409.4L421.9,409.4L422.6,409.4L423.4,409.4L424.1,409.4L424.9,409.4L425.6,409.4L426.4,409.4L427.1,409.4L427.9,409.4L428.6,409.4L429.3,409.4L430.1,409.4L430.8,409.4L431.6,409.4L432.3,409.4L433.1,409.4L433.8,409.4L434.6,409.4L435.3,409.4L436.1,409.4L436.8,409.4L437.5,409.4L438.3,409.4L439.0,409.4L439.8,409.4L440.5,409.4L441.3,409.4L442.0,409.4L442.8,409.4L443.5,409.4L444.3,409.4L445.0,409.4L445.7,409.4L446.5,409.4L447.2,409.4L448.0,409.4L448.7,409.4L449.5,409.4L450.2,409.4L451.0,409.4L451.7,409.4L452.5,409.4L453.2,409.4L453.9,409.4L454.7,409.4L455.4,409.4L456.2,409.4L456.9,409.4L457.7,409.4L458.4,409.4L459.2,409.4L459.9,409.4L460.7,409.4L461.4,409.4L462.1,409.4L462.9,409.4L463.6,409.4L464.4,409.4L465.1,409.4L465.9,409.4L466.6,409.4L467.4,409.4L468.1,409.4L468.9,409.4L469.6,409.4L470.4,409.4L471.1,409.4L471.8,409.4L472.6,409.4L473.3,409.4L474.1,409.4L474.8,409.4L475.6,409.4L476.3,409.4L477.1,409.4L477.8,409.4L478.6,409.4L479.3,409.4L480.0,409.4L480.8,409.4L481.5,409.4L482.3,409.4L483.0,409.4L483.8,409.4L484.5,409.4L485.3,409.4L486.0,409.4L486.8,409.4L487.5,409.4L488.2,409.4L489.0,409.4L489.7,409.4L490.5,409.4L491.2,409.4L492.0,409.4L492.7,409.4L493.5,409.4L494.2,409.4L495.0,409.4L495.7,409.4L496.4,409.4L497.2,409.4L497.9,409.4L498.7,409.4L499.4,409.4L500.2,409.4L500.9,409.4L501.7,409.4L502.4,409.4L503.2,409.4L503.9,409.4L504.6,409.4L505.4,409.4L506.1,409.4L506.9,409.4L507.6,409.4L508.4,409.4L509.1,409.4L509.9,409.4L510.6,409.4L511.4,409.4L512.1,409.4L512.8,409.4L513.6,409.4L514.3,409.4L515.1,409.4L515.8,409.4L516.6,409.4L517.3,409.4L518.1,409.4L518.8,409.4L519.6,409.4L520.3,409.4L521.0,409.4L521.8,409.4L522.5,409.4L523.3,409.4L524.0,409.4L524.8,409.4L525.5,409.4L526.3,409.4L527.0,409.4L527.8,409.4L528.5,409.4L529.2,409.4L530.0,409.4L530.7,409.4L531.5,409.4L532.2,409.4L533.0,409.4L533.7,409.4L534.5,409.4L535.2,409.4L536.0,409.4L536.7,409.4" fill="none" stroke="#d23030" stroke-width="1.5"/>
<circle cx="89.4" cy="555.9" r="2.5" fill="#dd0000" stroke="#8a0000" stroke-width="0.5"/>
<circle cx="111.8" cy="409.5" r="2.5" fill="#dd0000" stroke="#8a0000" stroke-width="0.5"/>
<circle cx="134.1" cy="409.4" r="2.5" fill="#dd0000" stroke="#8a0000" stroke-width="0.5"/>
<circle cx="156.5" cy="409.4" r="2.5" fill="#dd0000" stroke="#8a0000" stroke-width="0.5"/>
<circle cx="178.9" cy="409.4" r="2.5" fill="#dd0000" stroke="#8a0000" stroke-width="0.5"/>
<circle cx="201.2" cy="409.4" r="2.5" fill="#dd0000" stroke="#8a0000" stroke-width="0.5"/>
<circle cx="223.6" cy="409.4" r="2.5" fill="#dd0000" stroke="#8a0000" stroke-width="0.5"/>
<circle cx="246.0" cy="409.4" r="2.5" fill="#dd0000" stroke="#8a0000" stroke-width="0.5"/>
<circle cx="268.3" cy="409.4" r="2.5" fill="#dd0000" stroke="#8a0000" stroke-width="0.5"/>
<circle cx="290.7" cy="409.4" r="2.5" fill="#dd0000" stroke="#8a0000" stroke-width="0.5"/>
<circle cx="313.1" cy="409.4" r="2.5" fill="#dd0000" stroke="#8a0000" stroke-width="0.5"/>
<circle cx="335.4" cy="409.4" r="2.5" fill="#dd0000" stroke="#8a0000" stroke-width="0.5"/>
<circle cx="357.8" cy="409.4" r="2.5" fill="#dd0000" stroke="#8a0000" stroke-width="0.5"/>
<circle cx="380.1" cy="409.4" r="2.5" fill="#dd0000" stroke="#8a0000" stroke-width="0.5"/>
<circle cx="402.5" cy="409.4" r="2.5" fill="#dd0000" stroke="#8a0000" stroke-width="0.5"/>
<circle cx="424.9" cy="409.4" r="2.5" fill="#dd0000" stroke="#8a0000" stroke-width="0.5"/>
<circle cx="447.2" cy="409.4" r="2.5" fill="#dd0000" stroke="#8a0000" stroke-width="0.5"/>
<circle cx="469.6" cy="409.4" r="2.5" fill="#dd0000" stroke="#8a0000" stroke-width="0.5"/>
<circle cx="492.0" cy="409.4" r="2.5" fill="#dd0000" stroke="#8a0000" stroke-width="0.5"/>
<circle cx="514.3" cy="409.4" r="2.5" fill="#dd0000" stroke="#8a0000" stroke-width="0.5"/>
<circle cx="536.7" cy="409.4" r="2.5" fill="#dd0000" stroke="#8a0000" stroke-width="0.5"/>
<text transform="translate(84.8,561.3) scale(1.000,1.100)" font-size="14.00" text-anchor="end">0</text>
<text transform="translate(84.8,524.7) scale(1.000,1.100)" font-size="14.00" text-anchor="end">0.5</text>
<text transform="translate(84.8,488.0) scale(1.000,1.100)" font-size="14.00" text-anchor="end">1</text>
<text transform="translate(84.8,451.4) scale(1.000,1.100)" font-size="14.00" text-anchor="end">1.5</text>
<text transform="translate(84.8,414.8) scale(1.000,1.100)" font-size="14.00" text-anchor="end">2</text>
<text transform="translate(84.8,378.1) scale(1.000,1.100)" font-size="14.00" text-anchor="end">2.5</text>
<text transform="translate(84.8,341.5) scale(1.000,1.100)" font-size="14.00" text-anchor="end">3</text>
<text transform="translate(89.4,574.1) scale(1.000,1.100)" font-size="14.00" text-anchor="middle">0</text>
<text transform="translate(153.3,574.1) scale(1.000,1.100)" font-size="14.00" text-anchor="middle">0.3</text>
<text transform="translate(217.2,574.1) scale(1.000,1.100)" font-size="14.00" text-anchor="middle">0.6</text>
<text transform="translate(281.1,574.1) scale(1.000,1.100)" font-size="14.00" text-anchor="middle">0.9</text>
<text transform="translate(345.0,574.1) scale(1.000,1.100)" font-size="14.00" text-anchor="middle">1.2</text>
<text transform="translate(408.9,574.1) scale(1.000,1.100)" font-size="14.00" text-anchor="middle">1.5</text>
<text transform="translate(472.8,574.1) scale(1.000,1.100)" font-size="14.00" text-anchor="middle">1.8</text>
<text transform="translate(536.7,574.1) scale(1.000,1.100)" font-size="14.00" text-anchor="middle">2.1</text>
<path d="M591.5,588.2L598.3,595.0M591.5,595.0L598.3,588.2" stroke="#3a3a3a" stroke-width="1.05"/><text transform="translate(602.6,595.8) scale(1.000,1.100)" font-size="13.30">10</text><text transform="translate(615.8,588.0) scale(1.000,1.120)" font-size="9.60">4</text>
<text transform="translate(356.0,591.5) scale(1.000,1.040)" font-size="16.30" text-anchor="middle">Casting time(sec)</text>
<text transform="translate(61.6,444.9) rotate(-90) scale(1,1.04)" font-size="16.45" text-anchor="middle">Temperature difference(K)</text>
<text transform="translate(343.5,626.3) scale(1.000,1.020)" font-size="19.40" text-anchor="middle" style="stroke-width:0">(b)</text>
<path d="M545.8,350.8H565" stroke="#111111" stroke-width="1.5"/>
<path d="M555.4,348.0L558.0,352.6L552.8,352.6Z" fill="#111111" stroke="#111111" stroke-width="0.8" stroke-linejoin="round"/>
<text transform="translate(568.6,355.4) scale(1.000,1.080)" font-size="13.00">Exp.b-a</text>
<path d="M545.8,366.3H565" stroke="#3a3a3a" stroke-width="1.5"/>
<circle cx="555.4" cy="366.3" r="2.2" fill="#3a3a3a"/>
<text transform="translate(568.6,370.9) scale(1.000,1.080)" font-size="13.00">Exp.c-b</text>
<path d="M545.8,381.8H565" stroke="#d0d0d0" stroke-width="1.5"/>
<circle cx="555.4" cy="381.8" r="2.1" fill="none" stroke="#d0d0d0" stroke-width="1.5"/>
<text transform="translate(568.6,386.4) scale(1.000,1.080)" font-size="13.00">Exp.d-c</text>
<path d="M545.8,397.3H565" stroke="#8c8c8c" stroke-width="1.5"/>
<rect x="553.8" y="395.7" width="3.2" height="3.2" fill="#8c8c8c"/>
<text transform="translate(568.6,401.9) scale(1.000,1.080)" font-size="13.00">Exp.e-d</text>
<path d="M545.8,412.8H565" stroke="#9aa088" stroke-width="1.5"/>
<path d="M555.4,410.0L558.2,412.8L555.4,415.6L552.6,412.8Z" fill="none" stroke="#9aa088" stroke-width="1.2"/>
<text transform="translate(568.6,417.4) scale(1.000,1.080)" font-size="13.00">Exp.f-e</text>
<path d="M545.8,428.3H565" stroke="#e01010" stroke-width="1.5"/>
<circle cx="555.4" cy="428.3" r="2.2" fill="#e01010"/>
<text transform="translate(568.6,432.9) scale(1.000,1.080)" font-size="13.00">Average</text>
</svg></body></html>
